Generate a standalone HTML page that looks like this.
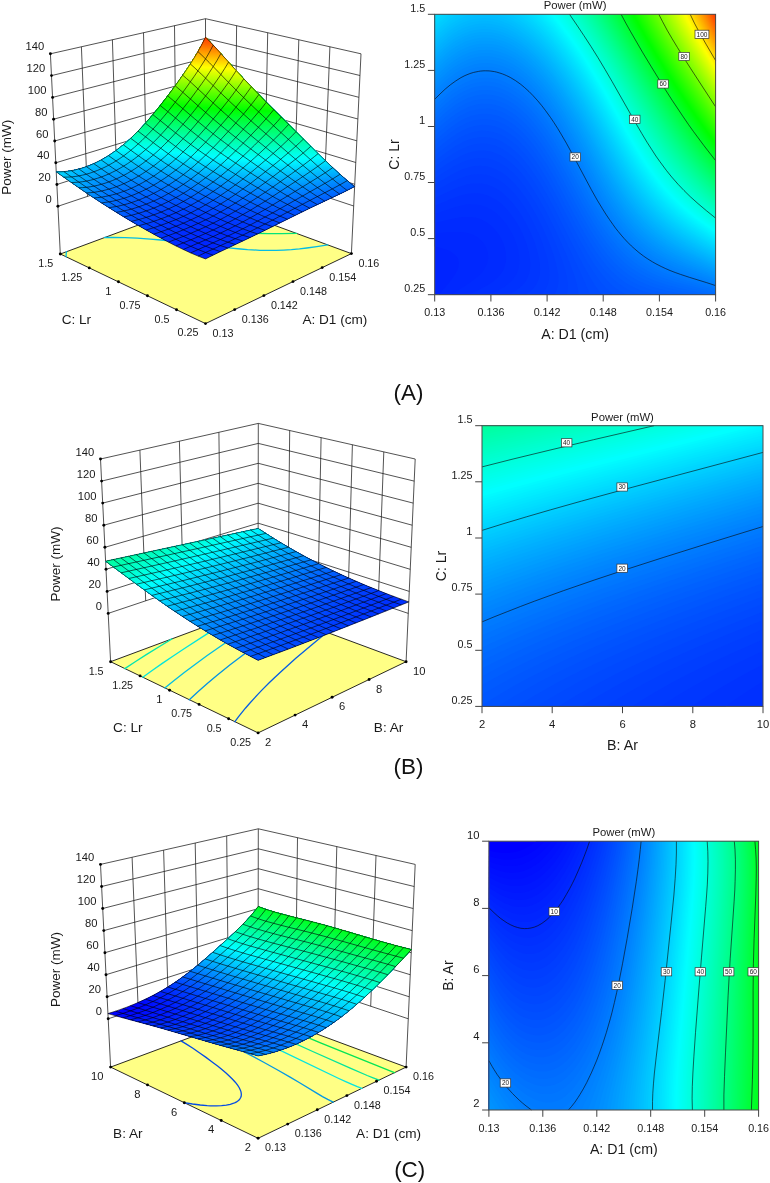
<!DOCTYPE html>
<html><head><meta charset="utf-8"><title>Response surface plots</title><style>html,body{margin:0;padding:0;background:#fff}svg{display:block;will-change:transform}text{font-family:"Liberation Sans", Arial, sans-serif}</style></head>
<body>
<svg width="770" height="1183" viewBox="0 0 770 1183" font-family='&quot;Liberation Sans&quot;, Arial, sans-serif' fill="#1a1a1a">
<rect width="770" height="1183" fill="#fff"/>
<g>
<path fill="#0024ff" d="M434.7,294.7 715.6,294.7 715.6,14.3 434.7,14.3Z"/>
<path fill="#0028ff" d="M438.8,294.7 715.6,294.7 715.6,14.3 687.5,14.3 434.7,14.3 434.7,246.4 442.7,248.6 448.6,250.6 450.8,251.8 454.8,254.5 457.9,258.6 458.8,262.7 458.5,266.7 457,270.7 454.8,274.7 452.1,278.7 449,282.7Z"/>
<path fill="#002bff" d="M451.6,294.7 715.6,294.7 715.6,14.3 659.4,14.3 434.7,14.3 434.7,233.4 450.8,232.1 458.8,232 462.8,232.2 466.8,232.9 470.8,234 472.5,234.6 474.8,235.7 478.8,238.3 483.1,242.6 485.6,246.6 486.9,249.6 487.2,250.6 488,254.6 488.1,258.6 487.3,262.7 485.7,266.7 483.2,270.7 479.7,274.7 475.1,278.7 469.6,282.7 454.8,292.4Z"/>
<path fill="#002fff" d="M468.3,294.7 715.6,294.7 715.6,14.3 635.3,14.3 434.7,14.3 434.7,222.9 454.8,218.3 462.8,217.1 466.8,216.9 470.8,217.1 474.8,217.6 478.8,218.6 482.9,220.3 486.9,222.5 490.9,225.5 494.9,229.5 498.8,234.6 501.1,238.6 503,242.6 504.4,246.6 505.4,250.6 506,254.6 506.1,258.6 505.7,262.7 504.6,266.7 502.9,270.7 500.3,274.7 498.9,276.2 496.5,278.7 491.4,282.7 486.9,285.5 484.8,286.7 476.9,290.7Z"/>
<path fill="#0032ff" d="M488.4,294.7 715.6,294.7 715.6,14.3 619.3,14.3 434.7,14.3 434.7,213.9 454.8,207.2 462.8,205.2 466.8,204.6 470.8,204.3 474.8,204.4 478.8,204.9 482.9,205.9 486.9,207.4 490.9,209.5 492.6,210.6 494.9,212.2 497.7,214.6 502.9,219.9 506.9,225.1 510.9,231.6 514.4,238.6 515.9,242.6 517.2,246.6 518.2,250.6 518.9,254.6 519.3,258.6 519.2,262.7 518.8,266.7 517.7,270.7 516,274.7 513.4,278.7 509.7,282.7 504.6,286.7 497.5,290.7Z"/>
<path fill="#0036ff" d="M508.3,294.7 715.6,294.7 715.6,14.3 607.3,14.3 434.7,14.3 434.7,205.8 450.8,199 458.8,196.1 462.8,194.9 466.8,194 470.8,193.5 474.8,193.2 478.8,193.4 482.9,194.1 486.9,195.2 490.9,196.9 494.9,199 498.9,201.8 502.9,205.2 508,210.6 510.9,214.2 515,219.9 519,226.6 523,234.7 526.1,242.6 528.5,250.6 529.3,254.6 529.9,258.6 530.2,262.7 530.2,266.7 529.7,270.7 528.8,274.7 527.1,278.7 524.6,282.7 521,286.7 515.7,290.7Z"/>
<path fill="#003aff" d="M525.7,294.7 715.6,294.7 715.6,14.3 595.2,14.3 434.7,14.3 434.7,198.3 450.8,190.4 458.8,187 462.8,185.7 466.8,184.6 470.8,183.8 474.8,183.4 478.8,183.4 482.9,183.8 486.9,184.6 490.9,186 494.9,187.9 498.9,190.3 502.9,193.2 508.6,198.6 510.9,201 515,205.9 518.4,210.6 523,217.8 527,225 531,233.4 534.7,242.6 537.2,250.6 539.1,258.6 539.7,262.7 540,266.7 540.1,270.7 539.7,274.7 538.8,278.7 537.2,282.7 534.8,286.7 531.1,290.7Z"/>
<path fill="#003dff" d="M540.8,294.7 715.6,294.7 715.6,14.3 579.2,14.3 434.7,14.3 434.7,191.3 450.8,182.5 458.8,178.7 462.8,177.2 466.8,175.9 470.8,175 474.8,174.4 478.8,174.2 482.9,174.4 486.9,175.1 490.9,176.3 494.9,177.9 498.9,180.1 502.9,182.8 506.9,186 510.9,189.8 515.3,194.6 519,199.2 521.4,202.6 526.7,210.6 531,218.1 535,225.9 539,234.6 543,244.8 546.2,254.6 547.3,258.6 548.8,266.7 549.2,270.7 549.4,274.7 549.1,278.7 548.3,282.7 546.9,286.7 544.5,290.7Z"/>
<path fill="#0041ff" d="M554.2,294.7 715.6,294.7 715.6,14.3 571.1,14.3 434.7,14.3 434.7,184.7 450.8,175.1 458.8,171 462.8,169.3 466.8,167.9 470.8,166.8 474.8,166.1 478.8,165.8 482.9,165.9 486.9,166.4 490.9,167.4 494.9,168.9 498.9,170.9 502.9,173.3 506.9,176.3 510.9,179.9 515,183.9 520.5,190.6 526.3,198.6 531,205.9 535.9,214.6 542,226.6 547.1,237.8 550.6,246.6 553.4,254.6 555.8,262.7 557.6,270.7 558.2,274.7 558.5,278.7 558.4,282.7 557.8,286.7 556.5,290.7Z"/>
<path fill="#0044ff" d="M566.7,294.7 715.6,294.7 715.6,14.3 559.1,14.3 434.7,14.3 434.7,178.4 446.7,170.5 454.8,165.8 458.8,163.8 462.8,161.9 466.8,160.4 470.8,159.2 474.8,158.4 478.8,158 482.9,158 486.9,158.4 490.9,159.2 494.9,160.6 498.9,162.4 502.9,164.7 506.9,167.5 510.9,170.8 515,174.7 519,179.1 521.8,182.5 527,189.4 531,195.4 535.4,202.6 542.1,214.6 547.1,224.4 551.8,234.6 556.9,246.6 561.5,258.6 564.2,266.7 566.4,274.7 567.2,278.7 567.7,282.7 567.9,286.7 567.7,290.7Z"/>
<path fill="#0048ff" d="M578.5,294.7 715.6,294.7 715.6,14.3 551.1,14.3 434.7,14.3 434.7,172.4 442.7,166.8 450.8,161.5 458.8,156.9 462.8,155 466.8,153.4 470.8,152.1 474.8,151.2 478.8,150.6 482.9,150.5 486.9,150.9 490.9,151.6 494.9,152.9 498.9,154.5 502.9,156.7 506.9,159.4 510.9,162.5 515,166.2 519,170.3 523,175 528.6,182.5 534,190.6 538.9,198.6 543,205.8 547.7,214.6 553.7,226.6 559.3,238.6 566.3,254.6 571.2,266.7 574.1,274.7 576.6,282.7 577.5,286.7 578.2,290.7Z"/>
<path fill="#004bff" d="M590.1,294.7 715.6,294.7 715.6,14.3 535,14.3 434.7,14.3 434.7,166.6 446.7,157.9 454.8,152.7 458.8,150.4 462.8,148.4 466.8,146.7 470.8,145.3 474.8,144.3 478.8,143.8 482.9,143.6 486.9,143.8 490.9,144.5 494.9,145.6 498.9,147.2 502.9,149.3 506.9,151.8 510.9,154.8 515,158.3 519,162.3 523,166.8 527,171.8 531,177.2 535,183.2 543,196.4 551.1,211.2 562.7,234.6 579.6,270.7 586.8,286.7Z"/>
<path fill="#004fff" d="M598.7,290.7 601.8,294.7 715.6,294.7 715.6,14.3 531,14.3 434.7,14.3 434.7,161.1 446.7,151.9 454.8,146.5 458.8,144.2 462.8,142.1 466.8,140.3 470.8,138.9 474.8,137.9 478.8,137.2 482.9,137 486.9,137.2 490.9,137.8 494.9,138.8 498.9,140.3 502.9,142.3 506.9,144.7 510.9,147.6 515,150.9 519,154.8 523,159.1 525.8,162.5 531,169.2 535,174.9 539,181.1 547.1,194.7 555.1,209.6 575.1,249.5 583.2,265 591.2,279.3 595.2,285.7Z"/>
<path fill="#0052ff" d="M608.9,290.7 611.3,292.8 613.8,294.7 715.6,294.7 715.6,14.3 519,14.3 434.7,14.3 434.7,155.8 446.7,146.2 454.8,140.7 458.8,138.2 462.8,136.1 466.8,134.3 470.8,132.8 474.8,131.7 478.8,131 482.9,130.7 486.9,130.9 490.9,131.4 494.9,132.4 498.9,133.8 502.9,135.7 506.9,138 510.9,140.8 515,144 519,147.7 525.2,154.5 531,161.7 535,167.3 539,173.3 543,179.7 551.1,193.7 559.1,208.7 576.6,242.6 587.2,261.7 592.7,270.7 599.2,280 603.2,284.9Z"/>
<path fill="#0056ff" d="M619.4,290.7 623.3,293.1 626.5,294.7 715.6,294.7 715.6,14.3 502.9,14.3 434.7,14.3 434.7,150.6 446.7,140.8 454.8,135 458.8,132.5 462.8,130.3 466.8,128.5 470.8,127 474.8,125.9 478.8,125.2 482.9,124.8 486.9,124.9 490.9,125.4 494.9,126.3 498.9,127.7 502.9,129.5 506.9,131.7 510.9,134.4 515,137.5 519,141.1 524.2,146.5 531,154.6 535,160.1 539.4,166.5 547.1,178.9 555.1,193.1 572.6,226.6 581.3,242.6 588.3,254.6 595.2,265.4 602.1,274.7 607.3,280.5 611.3,284.4 613.9,286.7Z"/>
<path fill="#0059ff" d="M630.3,290.7 635.3,292.9 640.3,294.7 715.6,294.7 715.6,14.3 498.9,14.3 434.7,14.3 434.7,145.6 446.7,135.5 454.8,129.6 458.8,127.1 462.8,124.9 466.8,123 470.8,121.5 474.8,120.3 478.8,119.6 482.9,119.2 486.9,119.2 490.9,119.7 494.9,120.6 498.9,121.8 502.9,123.6 506.9,125.7 510.9,128.3 515,131.4 519,134.8 523,138.8 527,143.2 531,148 535,153.3 541.3,162.5 547.1,171.7 555.1,185.7 576.8,226.6 583.5,238.6 591.2,251.5 595.2,257.6 599.2,263.2 603.2,268.4 607.3,273.1 611.3,277.2 615.3,280.9 619.3,284.1 623.3,286.8 627.3,289.2Z"/>
<path fill="#005dff" d="M641.9,290.7 647.4,292.6 655.7,294.7 715.6,294.7 715.6,14.3 482.9,14.3 434.7,14.3 434.7,140.7 446.7,130.4 454.8,124.4 458.8,121.8 462.8,119.6 466.8,117.7 470.8,116.1 474.8,115 478.8,114.2 482.9,113.8 486.9,113.8 490.9,114.2 494.9,115.1 498.9,116.3 502.9,118 506.9,120.1 510.9,122.6 515,125.5 519,128.9 523,132.8 527,137 531,141.7 535,146.9 543,158.4 548.1,166.5 555.1,178.6 576.4,218.6 585.4,234.6 590.2,242.6 595.2,250.5 599.2,256.2 603.2,261.5 607.3,266.4 611.3,270.7 615.3,274.6 620.1,278.7 625.7,282.7 631.3,286 635.3,288Z"/>
<path fill="#0060ff" d="M654.2,290.7 663.4,293 672.1,294.7 715.6,294.7 715.6,14.3 470.8,14.3 434.7,14.3 434.7,136 446.7,125.4 454.8,119.4 458.8,116.8 462.8,114.5 466.8,112.6 470.8,111 474.8,109.9 478.8,109.1 482.9,108.7 486.9,108.6 490.9,109 494.9,109.8 498.9,111 502.9,112.6 506.9,114.7 510.9,117.1 515,120 519,123.3 523,127 527,131.2 531,135.8 535,140.8 539,146.2 543,152.1 547.1,158.5 555.1,172 563.1,186.6 580.2,218.6 589.4,234.6 594.4,242.6 599.2,249.7 603.2,255.2 607.3,260.2 611.3,264.8 617.2,270.7 623.3,275.8 627.4,278.7 631.3,281.2 639.4,285.4 647.4,288.6Z"/>
<path fill="#0064ff" d="M667.1,290.7 675.5,292.5 687.4,294.7 715.6,294.7 715.6,14.3 458.8,14.3 434.7,14.3 434.7,131.4 442.7,124.1 446.7,120.7 454.8,114.5 461.4,110.4 466.8,107.7 470.8,106.1 474.8,105 478.8,104.1 482.9,103.7 486.9,103.7 490.9,104.1 494.9,104.8 498.9,106 502.9,107.5 506.9,109.5 510.9,111.9 515,114.7 519,117.9 523,121.6 527,125.6 531,130.1 535,135 543,146.1 550.9,158.5 555.1,165.6 563.1,180.1 581.6,214.6 590.8,230.6 595.9,238.6 601.3,246.6 607.3,254.4 610.8,258.6 615.3,263.4 619.3,267.3 623.3,270.7 628.5,274.7 635.3,279 639.4,281.2 643.4,283.1 651.4,286.2 659.4,288.8Z"/>
<path fill="#0067ff" d="M679.9,290.7 699.8,294.7 715.6,294.7 715.6,14.3 442.7,14.3 434.7,14.3 434.7,127 442.7,119.5 446.7,116 454.8,109.9 460.2,106.4 466.8,103 470.8,101.4 474.8,100.2 478.8,99.4 482.9,99 486.9,98.9 490.9,99.3 494.9,100 498.9,101.2 502.9,102.7 506.9,104.6 510.9,106.9 515,109.7 519,112.8 523,116.4 527,120.3 531,124.7 535,129.5 539,134.7 543,140.4 551.1,152.8 559.1,166.6 580.6,206.6 585,214.6 592,226.6 597.1,234.6 603.2,243.6 608.6,250.6 615.3,258.3 619.6,262.7 623.3,266 627.3,269.3 631.3,272.2 635.3,274.8 639.4,277.2 643.4,279.2 651.4,282.7 659.4,285.5 667.4,287.8Z"/>
<path fill="#006bff" d="M691.5,290.7 709.3,294.7 715.6,294.7 715.6,14.3 434.7,14.3 434.7,18.3 434.7,122.6 442.7,115 446.7,111.5 454.8,105.3 459.2,102.4 462.8,100.4 466.8,98.5 470.8,96.9 474.8,95.7 478.8,94.9 482.8,94.4 486.9,94.4 490.9,94.7 494.9,95.4 498.9,96.5 502.9,98 506.9,99.9 511.4,102.4 515,104.8 519,107.9 523,111.4 527,115.3 531,119.5 535,124.3 539,129.4 543,134.9 551.1,147.1 559.1,160.7 567.1,175.3 581.7,202.6 588.4,214.6 593.1,222.6 600.7,234.6 606.5,242.6 611.3,248.7 616.5,254.6 623.3,261.4 627.3,264.9 631.3,268 639.4,273.3 647.4,277.5 655.4,281 667.4,284.9 679.5,288Z"/>
<path fill="#006eff" d="M701.2,290.7 715.6,294.4 715.6,14.3 434.7,14.3 434.7,26.3 434.7,118.4 442.7,110.7 446.7,107.2 454.8,101 458.8,98.3 462.8,96 466.1,94.4 470.8,92.5 474.8,91.3 478.8,90.5 482.9,90 486.9,90 490.9,90.3 494.9,91 498.9,92.1 502.9,93.5 506.9,95.4 512.2,98.4 519,103.2 523,106.6 527,110.4 531,114.6 535,119.2 539,124.2 543.6,130.5 551.1,141.6 559.1,155 567.1,169.5 584.8,202.6 589.3,210.6 596.4,222.6 603.2,233 610.3,242.6 615.3,248.6 620.9,254.6 627.3,260.7 631.3,263.9 635.3,266.9 643.4,272 651.4,276 659.4,279.4 671.5,283.3 679.5,285.5Z"/>
<path fill="#0072ff" d="M709.2,290.7 715.6,292.5 715.6,14.3 434.7,14.3 434.7,34.3 434.7,114.2 442.7,106.5 446.7,102.9 454.8,96.7 458.8,94.1 462.8,91.8 465.6,90.4 470.8,88.3 474.8,87.1 478.8,86.2 482.9,85.8 486.9,85.7 490.9,86 494.9,86.7 498.9,87.8 502.9,89.2 506.9,91 512.9,94.4 519,98.7 523,102 527,105.8 531,109.9 535,114.4 539,119.3 547.1,130.3 555.1,142.9 563.1,156.7 585.6,198.6 592.4,210.6 597.2,218.6 605,230.6 610.9,238.6 617.5,246.6 623.3,252.8 627.3,256.6 631.3,260 639.4,265.9 647.4,270.7 655.4,274.7 663.4,278 675.5,281.9 683.5,284.1Z"/>
<path fill="#0075ff" d="M701.6,286.7 715.6,290.6 715.6,14.3 434.7,14.3 434.7,26.3 434.7,110.2 442.7,102.4 446.7,98.8 450.8,95.5 454.8,92.6 458.8,89.9 465.4,86.4 470.8,84.2 474.8,83 478.8,82.2 482.9,81.7 486.9,81.6 490.9,81.9 494.9,82.6 498.9,83.6 502.9,85.1 506,86.4 510.9,89 515,91.5 519,94.4 523,97.7 527,101.3 531,105.4 535,109.8 539,114.6 547.1,125.4 555.1,137.7 563.1,151.4 588.5,198.6 597.8,214.6 605.6,226.6 611.3,234.5 617.8,242.6 623.3,248.6 627.3,252.6 631.3,256.2 635.3,259.4 639.4,262.4 647.4,267.5 655.4,271.7 663.4,275.2 675.5,279.4 683.5,281.8Z"/>
<path fill="#0079ff" d="M708.6,286.7 715.6,288.8 715.6,14.3 434.7,14.3 434.7,34.3 434.7,106.2 442.7,98.4 446.7,94.8 450.8,91.5 454.8,88.6 458.8,85.9 465.4,82.4 470.8,80.2 474.8,79 478.8,78.2 482.9,77.8 486.9,77.7 490.9,78 494.9,78.6 498.9,79.7 502.9,81 506.1,82.4 510.9,84.9 515,87.4 519,90.2 523,93.4 527,97 531,101 535,105.4 539,110.1 547.1,120.7 555.1,132.8 563.1,146.3 571.1,160.8 589.2,194.6 596,206.6 600.8,214.6 606,222.6 611.7,230.6 618,238.6 625.2,246.6 631.3,252.5 635.3,255.9 639.4,258.9 647.4,264.3 655.4,268.8 663.4,272.4 675.5,277 687.5,280.7Z"/>
<path fill="#007cff" d="M714.6,286.7 715.6,287 715.6,14.3 434.7,14.3 434.7,38.3 434.7,102.4 442.7,94.5 446.7,90.9 450.8,87.6 454.8,84.7 458.8,82 462.8,79.8 465.7,78.4 470.8,76.3 474.8,75.2 478.8,74.4 482.9,73.9 486.9,73.9 490.9,74.1 494.9,74.8 498.9,75.8 502.9,77.2 505.8,78.4 510.9,81 515,83.4 519,86.2 523,89.4 527,92.9 531,96.8 535,101.1 539,105.7 543,110.8 548.6,118.4 555.1,128.1 563.1,141.4 571.1,155.8 589.7,190.6 596.5,202.6 601.2,210.6 609.1,222.6 614.9,230.6 621.5,238.6 627.3,244.9 631.3,248.8 635.3,252.4 643.4,258.5 651.4,263.6 659.4,267.9 667.4,271.5 679.5,275.9Z"/>
<path fill="#0080ff" d="M707.8,282.7 715.6,285.2 715.6,14.3 434.7,14.3 434.7,38.3 434.7,98.6 442.7,90.7 446.7,87.1 450.8,83.8 454.8,80.9 458.8,78.3 462.8,76 466.2,74.4 470.8,72.6 474.8,71.4 478.8,70.6 482.9,70.2 486.9,70.1 490.4,70.4 494.9,71.1 498.9,72.1 505.2,74.4 510.9,77.2 515,79.6 519,82.3 523,85.4 527,88.9 532.6,94.4 539,101.5 543,106.4 551.1,117.5 559.1,130 567.1,143.7 575.1,158.4 590.1,186.5 596.8,198.6 601.6,206.6 609.3,218.6 615,226.6 621.4,234.6 627.3,241.2 631.3,245.3 635.3,248.9 642.4,254.6 647.4,258.1 651.4,260.7 659.4,265.2 667.4,268.9 679.5,273.6 687.5,276.4Z"/>
<path fill="#0083ff" d="M713.2,282.7 715.6,283.5 715.6,14.3 434.7,14.3 434.7,38.3 434.7,94.9 442.7,86.9 446.7,83.4 450.8,80.1 454.8,77.2 459.1,74.4 462.8,72.3 466.8,70.5 470.8,69 474.8,67.8 478.8,67 482.9,66.6 486.9,66.5 490.9,66.8 494.9,67.5 498.9,68.4 504.4,70.4 510.9,73.5 515,75.9 519,78.6 523,81.6 527,85.1 532.5,90.4 539,97.5 543,102.4 551.1,113.2 559.1,125.5 567.1,139 575.1,153.6 592.7,186.5 597.2,194.6 604.3,206.6 609.4,214.6 615.3,222.9 621.2,230.6 628.3,238.6 635.3,245.6 643.4,252.2 651.4,257.8 659.7,262.7 667.9,266.7 679.5,271.4 691.5,275.6Z"/>
<path fill="#0087ff" d="M706.6,278.7 715.6,281.8 715.6,14.3 434.7,14.3 434.7,30.3 434.7,91.3 442.7,83.3 446.7,79.7 453.6,74.4 458.8,71 462.8,68.8 468.2,66.4 470.8,65.4 474.8,64.3 478.8,63.5 482.9,63.1 486.9,63 490.9,63.3 494.9,63.9 498.9,64.9 503.3,66.4 506.9,67.9 510.9,69.9 515,72.3 519,74.9 523,78 527,81.4 531,85.1 536.2,90.4 543,98.4 546.2,102.4 554.8,114.4 559.9,122.5 567.1,134.6 575.1,149 593,182.5 599.7,194.6 604.5,202.6 609.5,210.6 615.3,219 621,226.6 627.8,234.6 635.3,242.3 643.4,249.2 651.4,255 659.4,259.9 667.4,264 679.5,269.2 691.5,273.6Z"/>
<path fill="#008aff" d="M711.7,278.7 715.6,280.1 715.6,14.3 434.7,14.3 434.7,38.3 434.7,87.7 442.7,79.8 446.7,76.2 450.8,72.9 454.8,70 460.8,66.4 466.8,63.4 470.8,62 474.8,60.8 478.8,60.1 482.9,59.7 486.9,59.6 490.9,59.9 494.9,60.5 498.9,61.5 501.6,62.4 506.9,64.5 510.9,66.4 515,68.8 519,71.4 523,74.4 527,77.7 531,81.4 535.9,86.4 542.9,94.4 546.1,98.4 551.1,105.1 554.8,110.4 563.1,123.4 571.1,137.3 595.4,182.5 602.2,194.6 607,202.6 612.2,210.6 619.3,220.6 624,226.6 631,234.6 635.3,239 639.2,242.6 647.4,249.3 655.4,254.8 663.4,259.5 671.5,263.5 683.5,268.6Z"/>
<path fill="#008eff" d="M705.4,274.7 715.6,278.4 715.6,14.3 434.7,14.3 434.7,30.3 434.7,84.3 442.7,76.3 446.7,72.7 450.8,69.5 454.8,66.6 458.8,64.1 462.8,61.9 466.8,60 470.8,58.6 474.8,57.5 478.8,56.7 482.9,56.3 486.9,56.3 490.9,56.6 494.9,57.2 499.6,58.4 502.9,59.5 506.9,61.1 510.9,63.1 515,65.4 519,68 523,70.9 527.2,74.4 531.5,78.4 539,86.2 547.1,95.8 555.1,106.9 563.1,119.3 571.1,133 579.2,147.6 597.8,182.5 607.1,198.6 612.1,206.6 619.3,216.9 623.6,222.6 630.4,230.6 635.3,235.8 643.4,243.2 651.4,249.5 659.4,254.7 667.4,259.2 679.5,264.8 691.5,269.6Z"/>
<path fill="#0091ff" d="M710.1,274.7 715.6,276.8 715.6,14.3 434.7,14.3 434.7,34.3 434.7,80.9 442.7,72.9 446.7,69.3 450.8,66.1 454.8,63.2 458.8,60.7 463.2,58.4 466.8,56.7 470.8,55.3 474.8,54.2 478.8,53.4 482.9,53.1 486.9,53 490.9,53.3 494.9,53.9 498.9,54.9 502.9,56.2 506.9,57.8 510.9,59.8 515,62 519,64.7 523,67.6 527,70.8 531,74.4 538.8,82.4 547.1,92.2 555.1,103.1 563.1,115.3 571.1,128.9 579.2,143.4 597.9,178.5 604.7,190.6 609.5,198.6 614.6,206.6 620.2,214.6 626.4,222.6 631.3,228.4 639.4,236.7 646.1,242.6 651.3,246.6 655.4,249.6 663.4,254.6 671.5,258.9 683.5,264.5 691.5,267.7Z"/>
<path fill="#0095ff" d="M714.4,274.7 715.6,275.1 715.6,14.3 434.7,14.3 434.7,38.3 434.7,77.5 441.8,70.4 446.7,66 451.3,62.4 454.8,59.9 458.8,57.4 462.8,55.3 466.8,53.5 470.8,52.1 474.8,51 478.8,50.2 482.9,49.9 486.9,49.8 490.9,50.1 494.9,50.7 498.9,51.7 502.9,53 506.9,54.6 510.9,56.6 515,58.8 520.3,62.4 527,67.5 531,71.1 535,75 543,83.7 551.1,93.8 559.1,105.3 567.1,118 575.1,131.9 598,174.5 604.7,186.5 609.4,194.6 614.5,202.6 619.9,210.6 625.9,218.6 632.6,226.6 639.4,233.7 647.4,240.9 655.4,247 663.4,252.2 671.5,256.7 683.5,262.4 693.7,266.7Z"/>
<path fill="#0098ff" d="M708.4,270.7 715.6,273.5 715.6,14.3 434.7,14.3 434.7,30.3 434.7,74.2 442.6,66.4 446.7,62.7 452.4,58.4 458.8,54.2 462.8,52.1 466.7,50.4 470.8,48.9 474.8,47.8 478.8,47.1 482.9,46.7 486.9,46.7 490.9,47 494.9,47.6 498.9,48.6 502.9,49.9 506.9,51.5 512.6,54.4 519,58.2 523,61.1 529.3,66.4 535,71.7 543,80.3 551.1,90.3 559.7,102.4 567.1,114.2 575.1,128 583.2,142.6 600.2,174.5 609.3,190.6 614.2,198.6 619.6,206.6 625.4,214.6 631.9,222.6 639.4,230.7 647.4,238.1 655.4,244.5 663.4,249.9 671.7,254.6 683.5,260.4 691.5,263.9Z"/>
<path fill="#009cff" d="M712.5,270.7 715.6,272 715.6,14.3 434.7,14.3 434.7,38.3 434.7,71 442.7,63 446.7,59.5 453.6,54.4 458.8,51.1 462.8,48.9 469.2,46.3 474.8,44.7 478.8,44 482.9,43.7 486.9,43.7 490.9,44 494.9,44.6 498.9,45.6 502.9,46.8 506.9,48.5 510.9,50.4 515,52.6 519,55.2 523,58 527,61.2 535,68.5 543,77 551.1,86.9 559.4,98.4 567.1,110.5 575.1,124.1 583.2,138.7 602.3,174.5 611.6,190.6 616.6,198.6 623.3,208.4 627.9,214.6 634.5,222.6 642.2,230.6 646.5,234.6 651.1,238.6 659.4,244.8 667.4,250 675.5,254.5 684,258.6 695.5,263.7Z"/>
<path fill="#009fff" d="M706.8,266.7 715.6,270.4 715.6,14.3 434.7,14.3 434.7,30.3 434.7,67.8 442.7,59.8 446.7,56.4 450.8,53.2 454.8,50.4 458.8,48 462.8,45.9 466.8,44.1 470.8,42.7 474.8,41.7 478.8,41 482.9,40.7 486.9,40.7 490.9,41 494.9,41.6 498.9,42.6 502.9,43.9 506.9,45.5 510.9,47.4 515,49.6 519,52.1 523,55 527,58.1 531,61.6 539,69.4 547.1,78.5 555.1,88.9 563.1,100.6 571.1,113.5 579.2,127.5 602.2,170.5 611.3,186.5 616.3,194.6 621.5,202.6 627.3,210.6 633.7,218.6 641,226.6 647.4,232.8 655.4,239.5 663.4,245.2 672.3,250.6 683.5,256.5 691.5,260.2Z"/>
<path fill="#00a3ff" d="M710.6,266.7 715.6,268.8 715.6,14.3 434.7,14.3 434.7,34.3 434.7,64.7 441,58.4 446.7,53.3 450.8,50.1 456.4,46.3 462.8,42.8 466.8,41.1 470.8,39.8 474.8,38.7 478.8,38 482.9,37.7 486.9,37.7 490.9,38 494.9,38.7 498.9,39.7 502.9,40.9 506.9,42.5 510.9,44.4 515,46.7 520.7,50.4 527,55.1 535.1,62.4 539.1,66.4 546.3,74.4 555.1,85.6 563.1,97.1 571.1,109.9 579.2,123.8 602.1,166.5 608.8,178.5 613.5,186.5 618.5,194.6 623.8,202.6 629.7,210.6 636.3,218.6 643.7,226.6 651.4,233.7 659.4,240.1 667.4,245.5 675.5,250.3 683.8,254.6 695.5,260.1Z"/>
<path fill="#00a6ff" d="M714.1,266.7 715.6,267.3 715.6,14.3 434.7,14.3 434.7,34.3 434.7,61.6 442,54.4 446.7,50.2 450.8,47.1 454.8,44.3 458.1,42.3 462.8,39.9 466.8,38.1 470.8,36.8 474.8,35.8 478.8,35.1 482.9,34.8 486.9,34.8 490.9,35.1 494.9,35.8 498.9,36.8 502.9,38.1 506.9,39.7 510.9,41.6 515,43.8 519.1,46.3 527,52.2 535,59.3 539,63.3 545.5,70.4 551.1,77.2 555.1,82.4 563.1,93.8 571.1,106.4 579.2,120.2 587.2,134.8 604.1,166.5 610.8,178.5 615.6,186.5 620.6,194.6 627.3,204.3 632.1,210.6 638.8,218.6 646.5,226.6 651.4,231.2 659.4,237.7 667.4,243.4 675.5,248.3 683.5,252.6 696.1,258.6Z"/>
<path fill="#00aaff" d="M708.7,262.7 715.6,265.8 715.6,14.3 434.7,14.3 434.7,34.3 434.7,58.5 442.7,50.6 446.7,47.2 453.3,42.3 458.8,39 462.8,36.9 466.8,35.2 469.5,34.3 474.8,32.9 478.8,32.3 482.9,31.9 486.9,32 490.9,32.3 494.9,33 498.9,33.9 502.9,35.2 510.1,38.3 515,40.9 519,43.4 523,46.2 527,49.3 535,56.4 539,60.4 544.6,66.4 551.1,74.1 555.1,79.3 563.1,90.5 571.1,103 579.2,116.7 587.2,131.2 606.1,166.5 615.2,182.5 620.2,190.6 625.5,198.6 631.3,206.6 637.8,214.6 645.1,222.6 651.4,228.7 659.4,235.4 667.4,241.2 675.5,246.2 683.5,250.7 695.5,256.6Z"/>
<path fill="#00aeff" d="M712.1,262.7 715.6,264.3 715.6,14.3 434.7,14.3 434.7,38.3 434.7,55.5 439.9,50.4 446.7,44.2 450.8,41.1 454.9,38.3 458.8,36 462.2,34.3 466.8,32.4 470.8,31 473.7,30.3 478.8,29.4 482.9,29.1 486.9,29.1 490.9,29.5 495.6,30.3 498.9,31.2 502.9,32.5 507.5,34.3 515,38.1 521.4,42.3 527,46.5 531,49.9 535.9,54.4 543,61.7 547.1,66.2 555.1,76.2 563.1,87.4 571.1,99.7 579.2,113.2 587.2,127.7 605.8,162.5 612.5,174.5 617.3,182.5 622.3,190.6 627.7,198.6 633.6,206.6 639.4,213.7 643.8,218.6 651.9,226.6 659.4,233.1 667.4,239 675.5,244.2 683.5,248.8 695,254.6Z"/>
<path fill="#00b1ff" d="M715.3,262.7 715.6,262.8 715.6,14.3 434.7,14.3 434.7,38.3 434.7,52.6 441,46.3 446.7,41.3 450.8,38.2 454.8,35.5 458.8,33.2 464.8,30.3 470.8,28.2 474.8,27.2 478.8,26.6 482.9,26.3 486.9,26.4 490.9,26.7 494.9,27.4 498.9,28.4 502.9,29.7 506.9,31.3 513,34.3 519,37.9 527,43.7 531,47.1 538.7,54.4 547.1,63.4 552.8,70.4 558.9,78.4 567.1,90.3 575.1,103.1 583.2,117 605.5,158.5 616.8,178.5 621.7,186.5 627.3,195 632.7,202.6 639.4,210.9 646.2,218.6 654.5,226.6 663.4,234 669.9,238.6 679.5,244.6 687.5,249.1 698.5,254.6Z"/>
<path fill="#00b5ff" d="M710.1,258.6 715.6,261.3 715.6,14.3 434.7,14.3 434.7,30.3 434.7,49.6 442.2,42.3 446.7,38.4 452.3,34.3 458.8,30.3 462.8,28.3 467.9,26.3 470.8,25.4 474.8,24.4 478.8,23.8 482.9,23.6 486.9,23.6 490.9,24 494.9,24.7 498.9,25.7 502.9,27 506.9,28.6 510.6,30.3 515,32.7 523,38 528.6,42.3 535,48 539,51.9 547.1,60.5 555.1,70.4 561.1,78.4 567.1,87.2 575.1,99.9 583.2,113.6 591.2,128.2 609.6,162.5 618.8,178.5 623.7,186.5 629.1,194.6 634.9,202.6 641.4,210.6 648.7,218.6 655.4,225 663.4,231.8 671.5,237.6 679.3,242.6 687.5,247.3 695.5,251.5Z"/>
<path fill="#00b8ff" d="M713.2,258.6 715.6,259.8 715.6,14.3 434.7,14.3 434.7,38.3 434.7,46.7 442.7,38.9 446.7,35.5 450.8,32.5 454,30.3 458.8,27.5 462.8,25.5 466.8,23.9 470.8,22.6 474.8,21.7 478.8,21.1 482.9,20.8 486.9,20.9 490.9,21.3 496.2,22.3 502.9,24.3 507.8,26.3 515,30 521.6,34.3 527,38.3 531,41.7 536.1,46.3 543,53.3 547.1,57.8 551.1,62.5 557.3,70.4 563.1,78.3 567.1,84.2 575.1,96.8 583.2,110.4 591.2,124.9 609.2,158.5 618.3,174.5 623.2,182.5 628.4,190.6 634,198.6 640.3,206.6 647.4,214.7 655.3,222.6 663.4,229.6 670.1,234.6 679.5,240.8 687.5,245.5 697.1,250.6Z"/>
<path fill="#00bcff" d="M708.2,254.6 715.6,258.4 715.6,14.3 434.7,14.3 434.7,34.3 434.7,43.9 440.3,38.3 446.7,32.7 450.8,29.7 454.8,27 458.8,24.7 463.8,22.3 466.8,21.1 470.8,19.9 474.8,18.9 478.8,18.4 482.9,18.1 486.9,18.2 490.9,18.6 494.9,19.3 498.9,20.3 502.9,21.7 506.9,23.3 510.9,25.2 515,27.4 519.6,30.3 527,35.7 531,39 538.9,46.3 547.1,55 553.2,62.4 559.1,69.9 567.1,81.3 575.1,93.7 583.2,107.2 591.2,121.6 608.8,154.5 620.2,174.5 625.1,182.5 631.3,191.9 636.1,198.6 642.4,206.6 649.6,214.6 655.4,220.4 663.4,227.4 671.5,233.6 679,238.6 687.5,243.8 695.5,248.2Z"/>
<path fill="#00bfff" d="M711.1,254.6 715.6,256.9 715.6,14.3 434.7,14.3 434.7,30.3 434.7,41 441.6,34.3 446.7,29.9 451.6,26.3 454.8,24.2 458.8,21.9 462.8,20 466.8,18.4 470.8,17.1 474.8,16.2 478.8,15.6 482.9,15.4 486.9,15.5 490.9,15.9 494.9,16.6 498.9,17.7 502.9,19 506.9,20.7 510.9,22.6 517.4,26.3 523,30.1 527,33.1 531,36.4 537.4,42.3 543,48 547.1,52.4 555.4,62.4 561.4,70.4 567.1,78.4 575.1,90.8 583.2,104.1 591.2,118.4 612.8,158.5 622,174.5 627,182.5 632.3,190.6 638.2,198.6 643.4,205.1 648.1,210.6 655.9,218.6 663.4,225.3 671.5,231.6 679.5,237.1 688.6,242.6 699.5,248.7Z"/>
<path fill="#00c3ff" d="M713.9,254.6 715.6,255.5 715.6,14.3 498.9,14.3 496,14.3 498.9,15.1 502.9,16.4 506.9,18.1 510.9,20 515,22.2 523,27.5 531,33.9 539,41.3 547.1,49.8 551.1,54.4 559.1,64.5 563.5,70.4 571.1,81.6 579.2,94.4 583.2,101.1 591.2,115.3 614.5,158.5 621.4,170.5 626.3,178.5 631.5,186.5 637.2,194.6 643.4,202.5 647.4,207.3 654.2,214.6 659.4,219.6 667.4,226.5 675.5,232.5 683.5,237.8 691.6,242.6 698.7,246.6ZM434.7,34.3 434.7,38.2 438.7,34.1 442.7,30.5 446.7,27.1 450.8,24.1 454.8,21.5 458.8,19.2 462.8,17.2 466.8,15.6 471.3,14.3 434.7,14.3Z"/>
<path fill="#00c6ff" d="M709.1,250.6 715.6,254.1 715.6,14.3 510.9,14.3 504.1,14.3 510.9,17.4 519,22.2 527,28 535,34.9 543,42.8 549.8,50.4 555.1,56.7 563.1,67.2 571.1,78.8 576,86.4 583.2,98.2 595.2,119.6 614,154.5 620.8,166.5 625.6,174.5 630.7,182.5 636.2,190.6 642.2,198.6 645.5,202.6 651.4,209.3 656.5,214.6 663.4,221 671.5,227.6 679.5,233.4 687.7,238.6 695.5,243.2ZM434.7,34.3 434.7,35.4 438.7,31.4 442.7,27.7 446.7,24.3 450.8,21.3 454.8,18.7 458.8,16.4 463.3,14.3 434.7,14.3Z"/>
<path fill="#00caff" d="M711.8,250.6 715.6,252.7 715.6,14.3 510.9,14.3 509.7,14.3 515,17.1 519,19.7 527,25.5 532.7,30.3 539,36.2 544.9,42.3 551.1,49.2 555.3,54.4 563.1,64.6 567.3,70.4 575.1,82.2 583.2,95.3 595.2,116.5 615.7,154.5 625,170.5 629.9,178.5 635.3,186.6 641.1,194.6 647.5,202.6 654.8,210.6 659.4,215.2 667.4,222.4 675.5,228.7 683.5,234.2 690.5,238.6 699.5,243.9ZM434.7,30.3 434.7,32.6 441.2,26.3 446.7,21.6 450.8,18.6 454.8,15.9 457.7,14.3 434.7,14.3Z"/>
<path fill="#00cdff" d="M714.4,250.6 715.6,251.3 715.6,14.3 515,14.3 514.4,14.3 519,17.2 523,20 531,26.4 535.4,30.3 543,37.8 550.7,46.3 555.1,51.6 563.1,62 567.1,67.6 575.1,79.5 579.5,86.4 587.2,99.3 595.2,113.6 617.4,154.5 626.7,170.5 631.7,178.5 637.1,186.5 643,194.6 647.4,200 653.1,206.6 661,214.6 667.4,220.4 675.2,226.6 683.5,232.5 691.5,237.6 700,242.6ZM434.7,26.3 434.7,29.8 438.7,25.8 442.7,22.1 446.7,18.8 453.1,14.3 434.7,14.3Z"/>
<path fill="#00d1ff" d="M709.8,246.6 715.6,249.9 715.6,14.3 523,14.3 518.4,14.3 523,17.5 531,23.9 538,30.3 543,35.4 551.1,44.3 559.1,54.1 565.2,62.4 571.1,70.8 579.2,83.1 590.6,102.4 599.2,118 616.8,150.5 626,166.5 630.9,174.5 636.2,182.5 641.9,190.6 647.4,197.6 651.6,202.6 659.4,210.9 667.4,218.4 672.5,222.6 679.5,227.9 689.4,234.6 699.5,240.8ZM434.7,26.3 434.7,27.1 438.7,23 442.7,19.4 449.1,14.3 434.7,14.3Z"/>
<path fill="#00d4ff" d="M712.3,246.6 715.6,248.5 715.6,14.3 523,14.3 521.9,14.3 527,18.1 535,25.1 539,28.9 547.1,37.3 554.9,46.3 559.1,51.6 567.1,62.4 571.1,68.2 580.3,82.4 591.2,100.7 599.2,115.1 618.4,150.5 627.7,166.5 632.7,174.5 638,182.5 643.4,190 647.4,195.2 653.6,202.6 661.2,210.6 667.4,216.4 674.9,222.6 683.5,229 691.5,234.3 698.5,238.6ZM434.7,22.3 434.7,24.3 438.7,20.3 445.5,14.3 434.7,14.3Z"/>
<path fill="#00d8ff" d="M714.7,246.6 715.6,247.1 715.6,14.3 527,14.3 525.2,14.3 531,19.1 539,26.5 543,30.6 551.1,39.4 556.8,46.3 563,54.4 571.6,66.4 579.5,78.4 591.2,97.9 599.2,112.2 617.8,146.5 629.3,166.5 634.4,174.5 639.4,181.9 643.4,187.5 648.8,194.6 655.6,202.6 663.4,210.6 667.7,214.6 675.5,221.2 682.6,226.6 691.5,232.7 701.1,238.6ZM434.7,18.3 434.7,21.6 442.2,14.3 434.7,14.3Z"/>
<path fill="#00dbff" d="M710.2,242.6 715.6,245.8 715.6,14.3 535,14.3 528.2,14.3 535,20.3 539,24.1 543,28.2 551.1,37 559.1,46.8 567.1,57.5 571.1,63.2 579.2,75.3 591.2,95.2 599.2,109.5 617.1,142.5 628.6,162.5 633.5,170.5 638.8,178.5 647.4,190.4 654,198.6 661.4,206.6 667.4,212.4 674.5,218.6 683.5,225.5 690.9,230.6 699.5,236.2ZM434.7,18.3 434.7,18.8 439.2,14.3 434.7,14.3Z"/>
<path fill="#00dfff" d="M712.6,242.6 715.6,244.4 715.6,14.3 535,14.3 531.1,14.3 535,17.9 543,25.8 551.1,34.7 555.1,39.4 563.1,49.6 567.1,55.1 575,66.4 579.2,72.8 587.2,85.8 595.2,99.6 620.9,146.5 630.2,162.5 635.2,170.5 640.5,178.5 649.3,190.6 656,198.6 663.4,206.5 667.6,210.6 675.5,217.5 683.5,223.8 691.5,229.4 699.5,234.6ZM434.7,14.3 434.7,16 436.4,14.3Z"/>
<path fill="#00e2ff" d="M714.8,242.6 715.6,243.1 715.6,14.3 535,14.3 533.7,14.3 539,19.4 547.1,27.8 551.1,32.4 559.1,42.1 563.1,47.3 571.1,58.3 579.2,70.3 587.2,83.2 595.2,96.9 620.2,142.5 629.4,158.5 634.3,166.5 639.4,174.5 645,182.5 651.1,190.6 657.9,198.6 665.5,206.6 671.5,212.2 679,218.6 687.5,225 695.5,230.5Z"/>
<path fill="#00e6ff" d="M710.6,238.6 715.6,241.7 715.6,14.3 543,14.3 536.2,14.3 543,21.2 547.1,25.5 555.1,34.8 559.1,39.8 567.1,50.4 575.1,61.8 579.2,67.9 587.2,80.7 595.2,94.3 603.2,108.6 621.7,142.5 628.6,154.5 638.4,170.5 647.4,183.4 652.9,190.6 659.8,198.6 667.5,206.6 675.5,213.9 683.5,220.4 691.5,226.2 699.5,231.6Z"/>
<path fill="#00e9ff" d="M712.7,238.6 715.6,240.4 715.6,14.3 539,14.3 538.6,14.3 547.1,23.2 551.1,27.8 559.1,37.5 563.1,42.7 571.1,53.7 579.2,65.5 587.2,78.2 595.2,91.8 603.2,106 621,138.5 632.5,158.5 637.4,166.5 642.7,174.5 651.4,186.4 658.1,194.6 663.4,200.5 671.5,208.4 678.5,214.6 687.5,221.7 694.3,226.6Z"/>
<path fill="#00edff" d="M714.9,238.6 715.6,239.1 715.6,14.3 543,14.3 540.8,14.3 551.1,25.5 555.1,30.3 563.1,40.4 571.1,51.4 578.6,62.4 583.2,69.4 591.2,82.4 599.2,96.3 622.4,138.5 631.6,154.5 636.5,162.5 641.6,170.5 647.2,178.5 651.4,184.2 656.5,190.6 663.5,198.6 671.5,206.6 679.5,213.7 687.5,220.1 695.5,225.9 702.5,230.6Z"/>
<path fill="#00f0ff" d="M710.7,234.6 715.6,237.8 715.6,14.3 551.1,14.3 543,14.3 551.1,23.3 555.1,28 563.1,38.2 574.8,54.4 583.2,67 591.2,80 599.2,93.8 621.7,134.5 630.8,150.5 640.6,166.5 648.8,178.5 655,186.5 661.7,194.6 669.3,202.6 675.5,208.4 682.6,214.6 691.5,221.5 698.7,226.6Z"/>
<path fill="#00f4ff" d="M712.8,234.6 715.6,236.4 715.6,14.3 547.1,14.3 545.1,14.3 555.1,25.8 567.1,41.3 579,58.4 586.8,70.4 599.2,91.3 625.3,138.5 632.2,150.5 642.1,166.5 651.4,179.8 656.7,186.5 663.5,194.6 671.2,202.6 679.5,210.2 687.5,216.8 695.2,222.6Z"/>
<path fill="#00f7ff" d="M714.8,234.6 715.6,235.1 715.6,14.3 551.1,14.3 547.2,14.3 559.1,28.6 567.1,39.1 575.1,50.4 583.2,62.4 591.2,75.3 599.2,88.9 607.3,103.1 624.5,134.5 633.7,150.5 643.4,166 652.1,178.5 658.4,186.5 665.3,194.6 673.1,202.6 679.5,208.5 686.7,214.6 695.5,221.3 703,226.6Z"/>
<path fill="#00fbff" d="M710.8,230.6 715.6,233.8 715.6,14.3 555.1,14.3 549.1,14.3 559.1,26.4 567.1,36.9 579.2,54.1 587.1,66.4 595.2,79.7 603.2,93.5 625.9,134.5 632.8,146.5 642.6,162.5 650.8,174.5 656.8,182.5 663.4,190.5 670.9,198.6 675.5,203.1 683.5,210.3 691.5,216.8 699.3,222.6Z"/>
<path fill="#00fffe" d="M712.8,230.6 715.6,232.5 715.6,14.3 551.1,14.3 563.1,29.4 571.1,40.3 579.2,51.9 587.2,64.3 595.2,77.4 603.2,91.1 625,130.5 636.6,150.5 641.5,158.5 646.8,166.5 655.4,178.5 661.8,186.5 667.4,193 672.7,198.6 679.5,205 687.5,212 695.5,218.3 701.3,222.6Z"/>
<path fill="#00fffa" d="M710.3,226.6 715.6,230.3 715.6,14.3 559.1,14.3 554.2,14.3 563.1,25.7 571.1,36.6 579.2,48.2 587.2,60.5 595.2,73.4 603.2,87.1 629.7,134.5 636.6,146.5 644.1,158.5 652.2,170.5 658.1,178.5 663.4,185.1 668.2,190.6 675.8,198.6 683.5,205.7 691.5,212.5 699.3,218.6Z"/>
<path fill="#00fff6" d="M712.2,226.6 715.6,229 715.6,14.3 559.1,14.3 555.9,14.3 567.1,28.9 575.1,40.2 583.2,52.1 591.2,64.7 599.2,78 606.4,90.4 628.7,130.5 635.7,142.5 645.5,158.5 653.7,170.5 659.7,178.5 666.3,186.5 673.6,194.6 679.5,200.4 686.3,206.6 695.5,214.2 701.2,218.6Z"/>
<path fill="#00fff3" d="M714,226.6 715.6,227.7 715.6,14.3 559.1,14.3 557.6,14.3 567.1,26.8 575.1,38.1 583.2,50 591.2,62.5 599.2,75.8 607.3,89.6 630.1,130.5 637,142.5 646.9,158.5 655.2,170.5 661.3,178.5 667.4,186 671.6,190.6 679.5,198.7 687.5,206 692.9,210.6 703.1,218.6Z"/>
<path fill="#00ffef" d="M710.3,222.6 715.6,226.5 715.6,14.3 567.1,14.3 559.3,14.3 567.1,24.7 575.1,36 583.2,47.9 591.2,60.4 599.2,73.6 607.3,87.3 636,138.5 643.4,150.7 651.4,163 656.7,170.5 663.4,179.3 669.6,186.5 677.1,194.6 683.5,200.8 691.5,207.9 699.7,214.6Z"/>
<path fill="#00ffeb" d="M712.1,222.6 715.6,225.2 715.6,14.3 563.1,14.3 560.9,14.3 567.1,22.6 575.1,33.9 583.2,45.8 591.2,58.4 599.2,71.4 607.3,85.1 637.3,138.5 647.2,154.5 655.4,166.7 661.2,174.5 667.4,182.2 674.9,190.6 679.5,195.3 687.2,202.6 695.5,209.7 701.5,214.6Z"/>
<path fill="#00ffe8" d="M713.8,222.6 715.6,223.9 715.6,14.3 563.1,14.3 562.5,14.3 571.1,26.2 579.2,37.8 587.2,49.9 595.2,62.7 607.3,82.9 629.4,122.5 638.7,138.5 648.6,154.5 656.8,166.5 662.7,174.5 669.3,182.5 675.5,189.4 680.4,194.6 687.5,201.3 693.5,206.6 703.3,214.6Z"/>
<path fill="#00ffe4" d="M715.5,222.6 715.6,14.3 567.1,14.3 564.1,14.3 571.1,24.1 579.2,35.7 587.2,47.9 595.2,60.6 607.3,80.8 633,126.5 640,138.5 649.9,154.5 658.2,166.5 664.3,174.5 670.9,182.5 675.5,187.7 682.1,194.6 687.5,199.7 695.3,206.6 705.1,214.6Z"/>
<path fill="#00ffe1" d="M711.9,218.6 715.6,221.4 715.6,14.3 567.1,14.3 565.6,14.3 579.2,33.7 587.2,45.9 595.2,58.6 607.3,78.7 632,122.5 641.3,138.5 648.7,150.5 656.8,162.5 662.6,170.5 669,178.5 675.5,185.9 679.8,190.6 687.5,198.1 692.4,202.6 701.8,210.6Z"/>
<path fill="#00ffdd" d="M713.6,218.6 715.6,220.1 715.6,14.3 567.1,14.3 583.2,37.7 595.2,56.5 603.2,69.8 611.3,83.5 633.2,122.5 640.2,134.5 650.1,150.5 658.2,162.5 664.1,170.5 670.5,178.5 675.5,184.2 681.4,190.6 687.5,196.6 694.1,202.6 703.5,210.6Z"/>
<path fill="#00ffda" d="M715.2,218.6 715.6,218.9 715.6,14.3 571.1,14.3 568.5,14.3 583.2,35.7 595.2,54.5 603.2,67.7 611.3,81.4 632.2,118.4 641.5,134.5 651.4,150.5 659.4,162.3 665.6,170.5 671.5,177.8 675.5,182.5 683,190.6 687.5,195 695.7,202.6 705.2,210.6Z"/>
<path fill="#00ffd6" d="M711.8,214.6 715.6,217.6 715.6,14.3 571.1,14.3 570,14.3 583.2,33.8 591.2,46.2 599.2,59.1 611.3,79.4 640.4,130.5 650.1,146.5 658.1,158.5 663.9,166.5 670.2,174.5 675.5,180.7 680.7,186.5 687.5,193.4 692.9,198.6 702,206.6Z"/>
<path fill="#00ffd3" d="M713.3,214.6 715.6,216.4 715.6,14.3 575.1,14.3 571.4,14.3 587.2,38 599.2,57.1 611.3,77.3 641.6,130.5 648.9,142.5 656.7,154.5 662.4,162.5 668.4,170.5 675,178.5 682.3,186.5 687.5,191.9 694.5,198.6 703.7,206.6Z"/>
<path fill="#00ffcf" d="M714.9,214.6 715.6,215.2 715.6,14.3 575.1,14.3 572.8,14.3 587.2,36 599.2,55.1 615.3,82.2 633.5,114.4 642.9,130.5 651.4,144.4 659.4,156.4 666.7,166.5 671.5,172.5 676.5,178.5 683.8,186.5 691.5,194.2 696.1,198.6 705.2,206.6Z"/>
<path fill="#00ffcc" d="M711.6,210.6 715.6,213.9 715.6,14.3 579.2,14.3 574.1,14.3 587.2,34.1 603.2,59.8 615.3,80.2 641.7,126.5 649,138.5 656.7,150.5 662.2,158.5 668.1,166.5 674.6,174.5 681.6,182.5 689.3,190.6 695.5,196.5 702.2,202.6Z"/>
<path fill="#00ffc8" d="M713.1,210.6 715.6,212.7 715.6,14.3 579.2,14.3 575.5,14.3 591.2,38.4 603.2,57.9 615.3,78.2 642.9,126.5 651.4,140.4 659.4,152.6 666.5,162.5 671.5,169 676,174.5 683.1,182.5 690.8,190.6 695.5,195.1 703.8,202.6Z"/>
<path fill="#00ffc5" d="M714.6,210.6 715.6,211.4 715.6,14.3 579.2,14.3 576.8,14.3 591.2,36.5 603.2,56 615.3,76.3 644.1,126.5 654,142.5 662,154.5 667.8,162.5 674.1,170.5 679.5,176.9 684.6,182.5 691.5,189.7 696.5,194.6 705.3,202.6Z"/>
<path fill="#00ffc1" d="M711.4,206.6 715.6,210.2 715.6,14.3 583.2,14.3 578.1,14.3 591.2,34.7 603.2,54.1 615.3,74.3 642.9,122.5 650.2,134.5 657.9,146.5 663.4,154.5 669.2,162.5 675.5,170.5 682.4,178.5 689.8,186.5 695.5,192.2 702.3,198.6Z"/>
<path fill="#00ffbe" d="M712.8,206.6 715.6,209 715.6,14.3 583.2,14.3 579.4,14.3 595.2,39.2 607.3,58.8 619.3,79.3 644.1,122.5 651.4,134.5 659.4,146.9 664.6,154.5 671.5,163.7 676.9,170.5 683.8,178.5 691.3,186.5 695.5,190.7 703.8,198.6Z"/>
<path fill="#00ffba" d="M714.2,206.6 715.6,207.8 715.6,14.3 583.2,14.3 580.6,14.3 591.2,30.9 603.2,50.3 615.3,70.5 645.3,122.5 652.6,134.5 660.4,146.5 665.9,154.5 671.9,162.5 678.3,170.5 685.2,178.5 696.8,190.6 705.3,198.6Z"/>
<path fill="#00ffb7" d="M711.1,202.6 715.6,206.5 715.6,14.3 587.2,14.3 581.9,14.3 595.2,35.5 607.3,55.1 619.3,75.5 644.1,118.4 651.4,130.6 659,142.5 664.4,150.5 670.2,158.5 676.4,166.5 683.1,174.5 690.3,182.5 695.5,187.9 702.4,194.6Z"/>
<path fill="#00ffb3" d="M712.5,202.6 715.6,205.3 715.6,14.3 583.2,14.3 599.2,40.1 611.3,60 647.6,122.5 655.4,135.1 663.4,147.3 668.5,154.5 674.5,162.5 684.5,174.5 695.7,186.5 703.9,194.6Z"/>
<path fill="#00ffb0" d="M713.9,202.6 715.6,204.1 715.6,14.3 587.2,14.3 584.3,14.3 599.2,38.3 611.3,58.2 648.8,122.5 655.4,133.2 661.4,142.5 666.9,150.5 672.8,158.5 679,166.5 685.8,174.5 697.1,186.5 705.3,194.6Z"/>
<path fill="#00ffac" d="M715.3,202.6 715.6,202.9 715.6,14.3 587.2,14.3 585.5,14.3 599.2,36.5 611.3,56.4 649.9,122.5 657.4,134.5 663.4,143.7 668.2,150.5 675.5,160.4 680.4,166.5 687.2,174.5 698.5,186.5 706.7,194.6Z"/>
<path fill="#00ffa9" d="M712.3,198.6 715.6,201.6 715.6,14.3 587.2,14.3 586.7,14.3 611.3,54.5 647.4,116.4 656,130.5 663.8,142.5 669.4,150.5 675.3,158.5 685,170.5 695.9,182.5 703.9,190.6Z"/>
<path fill="#00ffa5" d="M713.6,198.6 715.6,200.4 715.6,14.3 591.2,14.3 587.9,14.3 615.3,59.5 649.7,118.4 657.2,130.5 662.4,138.5 667.8,146.5 673.6,154.5 679.7,162.5 686.4,170.5 697.3,182.5 705.2,190.6Z"/>
<path fill="#00ffa2" d="M714.9,198.6 715.6,199.2 715.6,14.3 591.2,14.3 589,14.3 615.3,57.7 648.5,114.4 655.8,126.5 663.5,138.5 669,146.5 674.8,154.5 681,162.5 687.7,170.5 698.6,182.5 706.6,190.6Z"/>
<path fill="#00ff9e" d="M712,194.6 715.6,198 715.6,14.3 591.2,14.3 590.2,14.3 615.3,56 649.6,114.4 656.9,126.5 664.7,138.5 670.2,146.5 675.5,153.7 685.6,166.5 696.2,178.5 703.9,186.5Z"/>
<path fill="#00ff9b" d="M713.3,194.6 715.6,196.8 715.6,14.3 595.2,14.3 591.3,14.3 615.3,54.2 648.2,110.4 655.6,122.5 663.2,134.5 668.6,142.5 674.3,150.5 680.4,158.5 686.9,166.5 697.5,178.5 705.2,186.5Z"/>
<path fill="#00ff97" d="M714.5,194.6 715.6,195.6 715.6,14.3 595.2,14.3 592.4,14.3 619.3,59.3 649.3,110.4 656.7,122.5 664.4,134.5 669.8,142.5 675.5,150.5 681.6,158.5 688.1,166.5 698.8,178.5 706.5,186.5Z"/>
<path fill="#00ff94" d="M711.8,190.6 715.6,194.4 715.6,14.3 595.2,14.3 593.5,14.3 619.3,57.5 650.4,110.4 657.8,122.5 665.5,134.5 671,142.5 676.7,150.5 686.1,162.5 696.4,174.5 703.9,182.5Z"/>
<path fill="#00ff90" d="M713,190.6 715.6,193.1 715.6,14.3 595.2,14.3 594.6,14.3 619.3,55.8 646.7,102.4 656.4,118.4 666.7,134.5 672.1,142.5 677.9,150.5 687.3,162.5 697.7,174.5 705.1,182.5Z"/>
<path fill="#00ff8d" d="M714.2,190.6 715.6,191.9 715.6,14.3 599.2,14.3 595.7,14.3 650.1,106.4 657.5,118.4 665.1,130.5 676.2,146.5 682.2,154.5 688.6,162.5 698.9,174.5 706.4,182.5Z"/>
<path fill="#00ff89" d="M715.4,190.6 715.6,190.7 715.6,14.3 599.2,14.3 596.7,14.3 648.8,102.4 658.5,118.4 666.3,130.5 677.3,146.5 683.4,154.5 689.8,162.5 700.2,174.5Z"/>
<path fill="#00ff86" d="M712.7,186.5 715.6,189.5 715.6,14.3 599.2,14.3 597.8,14.3 602.5,22.3 649.8,102.4 659.4,118.1 667.4,130.5 678.5,146.5 687.7,158.5 697.8,170.5 705.1,178.5Z"/>
<path fill="#00ff82" d="M713.9,186.5 715.6,188.3 715.6,14.3 599.2,14.3 598.9,14.3 605.8,26.3 646,94.4 658.2,114.4 668.5,130.5 679.5,146.2 688.9,158.5 699.1,170.5 706.3,178.5Z"/>
<path fill="#00ff7e" d="M715,186.5 715.6,187.1 715.6,14.3 603.2,14.3 599.9,14.3 644.7,90.4 655.4,108.3 664.3,122.5 675.5,139.1 680.8,146.5 687.5,155.2 693.4,162.5 700.3,170.5Z"/>
<path fill="#00ff7b" d="M712.4,182.5 715.6,185.9 715.6,14.3 603.2,14.3 600.9,14.3 605.5,22.3 648.1,94.4 657.8,110.4 665.4,122.5 676.2,138.5 682,146.5 688.1,154.5 698,166.5 705,174.5Z"/>
<path fill="#00ff77" d="M713.5,182.5 715.6,184.7 715.6,14.3 603.2,14.3 601.9,14.3 613.5,34.3 649.1,94.4 658.8,110.4 667.4,124 677.3,138.5 683.1,146.5 689.3,154.5 699.2,166.5Z"/>
<path fill="#00ff74" d="M714.7,182.5 715.6,183.5 715.6,14.3 603.2,14.3 603,14.3 612.2,30.3 645.3,86.4 659.4,109.7 670.2,126.5 681.3,142.5 690.4,154.5 700.3,166.5Z"/>
<path fill="#00ff70" d="M712.1,178.5 715.6,182.3 715.6,14.3 607.3,14.3 604,14.3 606.2,18.3 617.8,38.3 646.2,86.4 658.4,106.4 666,118.4 676.7,134.5 682.4,142.5 688.4,150.5 698.1,162.5Z"/>
<path fill="#00ff6d" d="M713.2,178.5 715.6,181.1 715.6,14.3 607.3,14.3 605,14.3 609.5,22.3 644.8,82.4 656.9,102.4 667,118.4 677.8,134.5 689.6,150.5 699.2,162.5Z"/>
<path fill="#00ff69" d="M714.3,178.5 715.6,179.9 715.6,14.3 607.3,14.3 606,14.3 617.4,34.3 650.6,90.4 660.4,106.4 668.1,118.4 678.9,134.5 690.7,150.5 700.4,162.5Z"/>
<path fill="#00ff66" d="M715.4,178.5 715.6,178.7 715.6,14.3 607.3,14.3 606.9,14.3 613.7,26.3 637.2,66.4 656.5,98.4 669.1,118.4 679.9,134.5 685.7,142.5 691.8,150.5 701.5,162.5Z"/>
<path fill="#00ff62" d="M712.9,174.5 715.6,177.5 715.6,14.3 611.3,14.3 607.9,14.3 610.1,18.3 621.6,38.3 640.5,70.4 652.5,90.4 665,110.4 678.2,130.5 687.5,143.4 699.3,158.5Z"/>
<path fill="#00ff5f" d="M714,174.5 715.6,176.3 715.6,14.3 611.3,14.3 608.9,14.3 613.3,22.3 624.9,42.3 641.5,70.4 653.5,90.4 666,110.4 676.5,126.5 687.9,142.5 694,150.5 700.4,158.5Z"/>
<path fill="#00ff5b" d="M715.1,174.5 715.6,175.1 715.6,14.3 611.3,14.3 609.8,14.3 621.2,34.3 649.6,82.4 661.9,102.4 669.5,114.4 680.3,130.5 692,146.5 701.5,158.5Z"/>
<path fill="#00ff58" d="M712.6,170.5 715.6,173.9 715.6,14.3 611.3,14.3 610.8,14.3 617.5,26.3 633.8,54.4 653,86.4 662.9,102.4 670.6,114.4 681.4,130.5 690,142.5 702.6,158.5Z"/>
<path fill="#00ff54" d="M713.7,170.5 715.6,172.7 715.6,14.3 615.3,14.3 611.7,14.3 613.9,18.3 625.3,38.3 637.1,58.4 653.9,86.4 663.9,102.4 676.9,122.5 688.1,138.5 700.4,154.5Z"/>
<path fill="#00ff51" d="M714.7,170.5 715.6,171.5 715.6,14.3 615.3,14.3 612.7,14.3 617.1,22.3 626.2,38.3 640.4,62.4 652.4,82.4 664.8,102.4 677.9,122.5 689.2,138.5 701.5,154.5Z"/>
<path fill="#00ff4d" d="M712.4,166.5 715.6,170.3 715.6,14.3 615.3,14.3 613.6,14.3 624.8,34.3 648.5,74.4 667.4,105 678.9,122.5 690.2,138.5 702.5,154.5Z"/>
<path fill="#00ff4a" d="M713.4,166.5 715.6,169.1 715.6,14.3 615.3,14.3 614.5,14.3 616.7,18.3 632.7,46.3 654.3,82.4 669.3,106.4 679.9,122.5 691.3,138.5 700.4,150.5Z"/>
<path fill="#00ff46" d="M714.4,166.5 715.6,168 715.6,14.3 619.3,14.3 615.5,14.3 617.6,18.3 626.6,34.3 638.3,54.4 652.8,78.4 662.7,94.4 670.3,106.4 678.2,118.4 689.4,134.5 701.4,150.5Z"/>
<path fill="#00ff43" d="M715.4,166.5 715.6,166.8 715.6,14.3 619.3,14.3 616.4,14.3 620.7,22.3 629.8,38.3 641.6,58.4 653.7,78.4 666.1,98.4 679.2,118.4 690.4,134.5 702.5,150.5Z"/>
<path fill="#00ff3f" d="M713.1,162.5 715.6,165.6 715.6,14.3 619.3,14.3 617.3,14.3 626.1,30.3 644.9,62.4 664.5,94.4 677.5,114.4 688.5,130.5 700.4,146.5Z"/>
<path fill="#00ff3c" d="M714,162.5 715.6,164.4 715.6,14.3 619.3,14.3 618.2,14.3 624.7,26.3 631.6,38.3 650.6,70.4 668,98.4 678.5,114.4 689.5,130.5 701.4,146.5Z"/>
<path fill="#00ff38" d="M715,162.5 715.6,163.2 715.6,14.3 619.3,14.3 619.1,14.3 625.6,26.3 641.9,54.4 656.4,78.4 671.5,102.4 682.1,118.4 693.4,134.5 702.4,146.5Z"/>
<path fill="#00ff35" d="M712.8,158.5 715.6,162 715.6,14.3 623.3,14.3 620,14.3 622.1,18.3 628.8,30.3 638,46.3 659.8,82.4 672.5,102.4 685.9,122.5 697.3,138.5Z"/>
<path fill="#00ff31" d="M713.7,158.5 715.6,160.8 715.6,14.3 623.3,14.3 620.9,14.3 627.4,26.3 636.5,42.3 646,58.4 665.7,90.4 678.7,110.4 689.6,126.5 701.3,142.5Z"/>
<path fill="#00ff2e" d="M714.7,158.5 715.6,159.6 715.6,14.3 623.3,14.3 621.7,14.3 632.8,34.3 649.3,62.4 666.6,90.4 679.6,110.4 690.6,126.5 702.3,142.5Z"/>
<path fill="#00ff2a" d="M712.5,154.5 715.6,158.5 715.6,14.3 623.3,14.3 622.6,14.3 624.7,18.3 638.3,42.3 652.6,66.4 670.1,94.4 680.6,110.4 691.6,126.5 700.3,138.5Z"/>
<path fill="#00ff27" d="M713.4,154.5 715.6,157.3 715.6,14.3 627.3,14.3 623.5,14.3 630,26.3 636.8,38.3 655.9,70.4 671,94.4 684.2,114.4 698.3,134.5Z"/>
<path fill="#00ff23" d="M714.3,154.5 715.6,156.1 715.6,14.3 627.3,14.3 624.4,14.3 626.5,18.3 633.1,30.3 642.3,46.3 661.8,78.4 674.5,98.4 687.9,118.4 702.2,138.5Z"/>
<path fill="#00ff20" d="M715.3,154.5 715.6,154.9 715.6,14.3 627.3,14.3 625.2,14.3 631.7,26.3 645.6,50.4 665.2,82.4 678,102.4 688.8,118.4 700.2,134.5Z"/>
<path fill="#00ff1c" d="M713.1,150.5 715.6,153.8 715.6,14.3 627.3,14.3 626.1,14.3 637,34.3 648.8,54.4 666,82.4 678.9,102.4 689.7,118.4 701.1,134.5Z"/>
<path fill="#00ff19" d="M714,150.5 715.6,152.6 715.6,14.3 627.3,14.3 626.9,14.3 631.2,22.3 642.5,42.3 656.9,66.4 669.5,86.4 679.8,102.4 690.7,118.4 702.1,134.5Z"/>
<path fill="#00ff15" d="M714.9,150.5 715.6,151.4 715.6,14.3 631.3,14.3 627.8,14.3 634.2,26.3 641,38.3 657.8,66.4 672.9,90.4 686.1,110.4 700.1,130.5Z"/>
<path fill="#00ff12" d="M712.8,146.5 715.6,150.2 715.6,14.3 631.3,14.3 628.6,14.3 630.7,18.3 641.9,38.3 658.7,66.4 673.8,90.4 687,110.4 698.1,126.5Z"/>
<path fill="#00ff0e" d="M713.7,146.5 715.6,149.1 715.6,14.3 631.3,14.3 629.5,14.3 633.7,22.3 645,42.3 662,70.4 674.7,90.4 687.9,110.4 701.9,130.5Z"/>
<path fill="#00ff0a" d="M714.5,146.5 715.6,147.9 715.6,14.3 631.3,14.3 630.3,14.3 634.5,22.3 641.2,34.3 653,54.4 665.3,74.4 678.1,94.4 688.8,110.4 700,126.5Z"/>
<path fill="#00ff07" d="M715.4,146.5 715.6,146.7 715.6,14.3 631.3,14.3 631.1,14.3 633.2,18.3 637.5,26.3 646.7,42.3 656.3,58.4 668.7,78.4 681.7,98.4 692.5,114.4 700.9,126.5Z"/>
<path fill="#00ff03" d="M713.3,142.5 715.6,145.6 715.6,14.3 635.3,14.3 632,14.3 636.2,22.3 642.9,34.3 657.1,58.4 669.6,78.4 685.2,102.4 698.9,122.5Z"/>
<path fill="#01ff00" d="M714.2,142.5 715.6,144.4 715.6,14.3 635.3,14.3 632.8,14.3 634.9,18.3 646,38.3 660.4,62.4 673,82.4 686.1,102.4 697,118.4Z"/>
<path fill="#05ff00" d="M715.5,142.5 715.6,14.3 635.3,14.3 634.1,14.3 642.7,30.3 654.3,50.4 666.6,70.4 676.9,86.4 690.1,106.4 701.2,122.5Z"/>
<path fill="#09ff00" d="M713.4,138.5 715.6,141.5 715.6,14.3 635.3,14.3 634.9,14.3 636.9,18.3 645.7,34.3 657.6,54.4 667.5,70.4 677.7,86.4 688.3,102.4 702,122.5Z"/>
<path fill="#0cff00" d="M714.3,138.5 715.6,140.3 715.6,14.3 639.4,14.3 635.7,14.3 644.3,30.3 656,50.4 668.3,70.4 683.8,94.4 697.3,114.4Z"/>
<path fill="#10ff00" d="M715.1,138.5 715.6,139.2 715.6,14.3 639.4,14.3 636.5,14.3 645.1,30.3 652,42.3 659.2,54.4 671.7,74.4 684.7,94.4 698.2,114.4Z"/>
<path fill="#14ff00" d="M713.1,134.5 715.6,138 715.6,14.3 639.4,14.3 637.3,14.3 639.4,18.3 643.7,26.3 650.5,38.3 662.5,58.4 672.5,74.4 685.5,94.4 699.1,114.4Z"/>
<path fill="#17ff00" d="M713.9,134.5 715.6,136.9 715.6,14.3 639.4,14.3 638.1,14.3 644.4,26.3 653.6,42.3 665.7,62.4 678.5,82.4 689,98.4 702.7,118.4Z"/>
<path fill="#1bff00" d="M714.7,134.5 715.6,135.7 715.6,14.3 639.4,14.3 638.9,14.3 641,18.3 649.7,34.3 659.2,50.4 669.1,66.4 679.3,82.4 689.9,98.4 700.7,114.4Z"/>
<path fill="#1eff00" d="M715.5,134.5 715.6,14.3 643.4,14.3 639.7,14.3 648.3,30.3 657.6,46.3 669.9,66.4 685.4,90.4 701.6,114.4Z"/>
<path fill="#22ff00" d="M713.5,130.5 715.6,133.4 715.6,14.3 643.4,14.3 640.5,14.3 649,30.3 660.8,50.4 673.2,70.4 686.2,90.4 696.9,106.4Z"/>
<path fill="#25ff00" d="M714.3,130.5 715.6,132.3 715.6,14.3 643.4,14.3 641.3,14.3 649.8,30.3 661.6,50.4 674,70.4 684.4,86.4 697.8,106.4Z"/>
<path fill="#29ff00" d="M715.1,130.5 715.6,131.2 715.6,14.3 643.4,14.3 642.1,14.3 646.2,22.3 655.2,38.3 664.8,54.4 674.8,70.4 685.2,86.4 698.6,106.4Z"/>
<path fill="#2cff00" d="M713.1,126.5 715.6,130 715.6,14.3 643.4,14.3 642.9,14.3 651.4,30.3 658.3,42.3 668.1,58.4 678.2,74.4 688.7,90.4Z"/>
<path fill="#30ff00" d="M713.9,126.5 715.6,128.9 715.6,14.3 647.4,14.3 643.6,14.3 649.9,26.3 659.1,42.3 668.8,58.4 681.6,78.4 697.5,102.4Z"/>
<path fill="#33ff00" d="M714.7,126.5 715.6,127.8 715.6,14.3 647.4,14.3 644.4,14.3 652.9,30.3 662.3,46.3 672.1,62.4 685,82.4 698.3,102.4Z"/>
<path fill="#37ff00" d="M715.5,126.5 715.6,126.6 715.6,14.3 647.4,14.3 645.2,14.3 653.7,30.3 665.5,50.4 672.9,62.4 685.8,82.4 701.8,106.4Z"/>
<path fill="#3aff00" d="M713.5,122.5 715.6,125.5 715.6,14.3 647.4,14.3 646,14.3 648,18.3 656.7,34.3 666.2,50.4 676.2,66.4 686.6,82.4Z"/>
<path fill="#3eff00" d="M714.3,122.5 715.6,124.4 715.6,14.3 647.4,14.3 646.7,14.3 653,26.3 659.8,38.3 669.5,54.4 677,66.4 690,86.4Z"/>
<path fill="#41ff00" d="M715,122.5 715.6,123.3 715.6,14.3 651.4,14.3 647.5,14.3 653.8,26.3 660.6,38.3 670.2,54.4 683,74.4 693.5,90.4Z"/>
<path fill="#45ff00" d="M713.1,118.4 715.6,122.2 715.6,14.3 651.4,14.3 648.3,14.3 654.5,26.3 663.7,42.3 673.5,58.4 681.1,70.4 694.3,90.4Z"/>
<path fill="#48ff00" d="M713.8,118.4 715.6,121.1 715.6,14.3 651.4,14.3 649,14.3 655.3,26.3 664.5,42.3 674.3,58.4 684.5,74.4Z"/>
<path fill="#4cff00" d="M714.6,118.4 715.6,120 715.6,14.3 651.4,14.3 649.8,14.3 651.8,18.3 658.3,30.3 667.6,46.3 677.6,62.4 685.3,74.4Z"/>
<path fill="#4fff00" d="M715.3,118.4 715.6,118.9 715.6,14.3 651.4,14.3 650.5,14.3 656.8,26.3 663.6,38.3 670.8,50.4 688.7,78.4Z"/>
<path fill="#53ff00" d="M713.4,114.4 715.6,117.8 715.6,14.3 651.4,14.3 653.3,18.3 659.8,30.3 666.7,42.3 674.1,54.4 689.4,78.4Z"/>
<path fill="#56ff00" d="M714.1,114.4 715.6,116.7 715.6,14.3 655.4,14.3 652,14.3 658.3,26.3 665.1,38.3 674.8,54.4 685,70.4Z"/>
<path fill="#5aff00" d="M714.8,114.4 715.6,115.6 715.6,14.3 655.4,14.3 652.8,14.3 659,26.3 668.2,42.3 678.1,58.4 685.7,70.4Z"/>
<path fill="#5dff00" d="M715.6,114.4 715.6,14.3 655.4,14.3 653.5,14.3 659.8,26.3 669,42.3 676.3,54.4 686.5,70.4Z"/>
<path fill="#61ff00" d="M713.6,110.4 715.6,113.4 715.6,14.3 655.4,14.3 654.3,14.3 658.4,22.3 665,34.3 672.1,46.3 682.1,62.4 689.8,74.4Z"/>
<path fill="#64ff00" d="M714.3,110.4 715.6,112.4 715.6,14.3 655.4,14.3 655,14.3 661.2,26.3 665.7,34.3 672.9,46.3 688,70.4Z"/>
<path fill="#68ff00" d="M715,110.4 715.6,111.3 715.6,14.3 659.4,14.3 655.7,14.3 659.8,22.3 666.5,34.3 676.1,50.4 686.2,66.4Z"/>
<path fill="#6bff00" d="M713.1,106.4 715.6,110.2 715.6,14.3 659.4,14.3 656.5,14.3 662.7,26.3 669.5,38.3 676.8,50.4 684.3,62.4Z"/>
<path fill="#6fff00" d="M713.8,106.4 715.6,109.1 715.6,14.3 659.4,14.3 657.2,14.3 663.4,26.3 670.3,38.3 677.5,50.4 685.1,62.4Z"/>
<path fill="#72ff00" d="M714.5,106.4 715.6,108.1 715.6,14.3 659.4,14.3 657.9,14.3 664.2,26.3 673.4,42.3 688.4,66.4Z"/>
<path fill="#76ff00" d="M715.2,106.4 715.6,107 715.6,14.3 659.4,14.3 658.7,14.3 662.7,22.3 669.4,34.3 676.5,46.3 689.1,66.4Z"/>
<path fill="#79ff00" d="M713.3,102.4 715.6,106 715.6,14.3 659.4,14.3 663.5,22.3 667.8,30.3 677.2,46.3 689.8,66.4Z"/>
<path fill="#7dff00" d="M714,102.4 715.6,104.9 715.6,14.3 663.4,14.3 660.1,14.3 664.2,22.3 670.8,34.3 678,46.3 685.4,58.4Z"/>
<path fill="#80ff00" d="M714.7,102.4 715.6,103.9 715.6,14.3 663.4,14.3 660.8,14.3 667,26.3 673.9,38.3 681.1,50.4 688.7,62.4Z"/>
<path fill="#84ff00" d="M715.3,102.4 715.6,102.8 715.6,14.3 663.4,14.3 661.5,14.3 667.8,26.3 674.6,38.3 681.8,50.4 689.4,62.4Z"/>
<path fill="#88ff00" d="M713.4,98.4 715.6,101.8 715.6,14.3 663.4,14.3 662.2,14.3 664.2,18.3 670.7,30.3 677.7,42.3 690.1,62.4Z"/>
<path fill="#8bff00" d="M714.1,98.4 715.6,100.7 715.6,14.3 663.4,14.3 663,14.3 667,22.3 673.7,34.3 678.4,42.3 690.8,62.4Z"/>
<path fill="#8fff00" d="M714.8,98.4 715.6,99.7 715.6,14.3 667.4,14.3 663.7,14.3 667.7,22.3 672.1,30.3 679.1,42.3 686.5,54.4Z"/>
<path fill="#92ff00" d="M715.4,98.4 715.6,98.7 715.6,14.3 667.4,14.3 664.4,14.3 668.4,22.3 675.1,34.3 682.2,46.3 689.7,58.4Z"/>
<path fill="#96ff00" d="M713.5,94.4 715.6,97.7 715.6,14.3 667.4,14.3 665.1,14.3 669.1,22.3 675.8,34.3 682.9,46.3 690.4,58.4Z"/>
<path fill="#99ff00" d="M714.2,94.4 715.6,96.6 715.6,14.3 667.4,14.3 665.8,14.3 672,26.3 678.8,38.3 691.1,58.4Z"/>
<path fill="#9dff00" d="M714.8,94.4 715.6,95.6 715.6,14.3 667.4,14.3 666.5,14.3 668.4,18.3 674.9,30.3 681.9,42.3 694.3,62.4Z"/>
<path fill="#a0ff00" d="M715.5,94.4 715.6,14.3 667.4,14.3 667.2,14.3 673.3,26.3 682.6,42.3 692.4,58.4Z"/>
<path fill="#a4ff00" d="M713.6,90.4 715.6,93.6 715.6,14.3 671.5,14.3 667.9,14.3 674,26.3 680.9,38.3 688.1,50.4Z"/>
<path fill="#a7ff00" d="M714.2,90.4 715.6,92.6 715.6,14.3 671.5,14.3 668.5,14.3 672.6,22.3 676.9,30.3 681.5,38.3 688.8,50.4Z"/>
<path fill="#abff00" d="M714.8,90.4 715.6,91.6 715.6,14.3 671.5,14.3 669.2,14.3 673.3,22.3 679.9,34.3 692,54.4Z"/>
<path fill="#aeff00" d="M715.5,90.4 715.6,14.3 671.5,14.3 669.9,14.3 673.9,22.3 680.6,34.3 692.6,54.4Z"/>
<path fill="#b2ff00" d="M713.6,86.4 715.6,89.6 715.6,14.3 671.5,14.3 670.6,14.3 674.6,22.3 681.2,34.3 693.3,54.4Z"/>
<path fill="#b5ff00" d="M714.2,86.4 715.6,88.6 715.6,14.3 671.5,14.3 671.3,14.3 673.2,18.3 677.4,26.3 686.6,42.3 696.5,58.4Z"/>
<path fill="#b9ff00" d="M714.8,86.4 715.6,87.6 715.6,14.3 675.5,14.3 672,14.3 678.1,26.3 682.6,34.3 689.7,46.3Z"/>
<path fill="#bcff00" d="M715.5,86.4 715.6,86.6 715.6,14.3 675.5,14.3 672.6,14.3 676.6,22.3 681,30.3 692.8,50.4Z"/>
<path fill="#c0ff00" d="M713.5,82.4 715.6,85.6 715.6,14.3 675.5,14.3 673.3,14.3 677.3,22.3 681.6,30.3 693.5,50.4Z"/>
<path fill="#c3ff00" d="M714.2,82.4 715.6,84.7 715.6,14.3 675.5,14.3 674,14.3 678,22.3 684.6,34.3 694.1,50.4Z"/>
<path fill="#c7ff00" d="M714.8,82.4 715.6,83.7 715.6,14.3 675.5,14.3 674.6,14.3 678.6,22.3 685.2,34.3 697.2,54.4Z"/>
<path fill="#caff00" d="M715.4,82.4 715.6,82.7 715.6,14.3 675.5,14.3 675.3,14.3 677.2,18.3 681.4,26.3 688.2,38.3 697.9,54.4Z"/>
<path fill="#ceff00" d="M713.5,78.4 715.6,81.8 715.6,14.3 679.5,14.3 675.9,14.3 682.1,26.3 686.5,34.3 693.6,46.3Z"/>
<path fill="#d1ff00" d="M714.1,78.4 715.6,80.8 715.6,14.3 679.5,14.3 676.6,14.3 682.7,26.3 689.5,38.3 694.2,46.3Z"/>
<path fill="#d5ff00" d="M714.7,78.4 715.6,79.8 715.6,14.3 679.5,14.3 677.3,14.3 681.2,22.3 685.6,30.3 697.3,50.4Z"/>
<path fill="#d8ff00" d="M715.3,78.4 715.6,78.9 715.6,14.3 679.5,14.3 677.9,14.3 681.9,22.3 686.2,30.3 697.9,50.4Z"/>
<path fill="#dcff00" d="M713.4,74.4 715.6,77.9 715.6,14.3 679.5,14.3 678.6,14.3 682.5,22.3 689.1,34.3 698.6,50.4Z"/>
<path fill="#dfff00" d="M714,74.4 715.6,77 715.6,14.3 679.5,14.3 679.2,14.3 683.2,22.3 689.7,34.3 696.8,46.3Z"/>
<path fill="#e3ff00" d="M714.6,74.4 715.6,76 715.6,14.3 683.5,14.3 679.8,14.3 683.8,22.3 688.1,30.3 695,42.3Z"/>
<path fill="#e6ff00" d="M715.2,74.4 715.6,75.1 715.6,14.3 683.5,14.3 680.5,14.3 686.5,26.3 693.3,38.3 698,46.3Z"/>
<path fill="#eaff00" d="M713.3,70.4 715.6,74.1 715.6,14.3 683.5,14.3 681.1,14.3 687.2,26.3 696.2,42.3Z"/>
<path fill="#edff00" d="M713.9,70.4 715.6,73.2 715.6,14.3 683.5,14.3 681.7,14.3 685.7,22.3 690,30.3 696.8,42.3Z"/>
<path fill="#f1ff00" d="M714.4,70.4 715.6,72.3 715.6,14.3 683.5,14.3 682.4,14.3 686.3,22.3 690.6,30.3 697.5,42.3Z"/>
<path fill="#f5ff00" d="M715,70.4 715.6,71.3 715.6,14.3 683.5,14.3 683,14.3 684.9,18.3 689,26.3 693.4,34.3 700.4,46.3Z"/>
<path fill="#f8ff00" d="M715.6,70.4 715.6,14.3 687.5,14.3 683.6,14.3 685.5,18.3 689.7,26.3 696.3,38.3Z"/>
<path fill="#fcff00" d="M713.7,66.4 715.6,69.5 715.6,14.3 687.5,14.3 684.2,14.3 686.2,18.3 690.3,26.3 696.9,38.3Z"/>
<path fill="#fffe00" d="M714.3,66.4 715.6,68.6 715.6,14.3 687.5,14.3 684.9,14.3 688.8,22.3 697.5,38.3Z"/>
<path fill="#fffa00" d="M715.1,66.4 715.6,67.1 715.6,14.3 687.5,14.3 685.8,14.3 691.8,26.3 700.8,42.3Z"/>
<path fill="#fff600" d="M713.3,62.4 715.6,66.2 715.6,14.3 687.5,14.3 686.5,14.3 692.4,26.3 701.4,42.3Z"/>
<path fill="#fff200" d="M713.9,62.4 715.6,65.2 715.6,14.3 687.5,14.3 687.1,14.3 689,18.3 693.1,26.3 697.4,34.3Z"/>
<path fill="#ffef00" d="M714.5,62.4 715.6,64.2 715.6,14.3 691.5,14.3 687.8,14.3 689.6,18.3 693.7,26.3 698.1,34.3Z"/>
<path fill="#ffeb00" d="M715.1,62.4 715.6,63.2 715.6,14.3 691.5,14.3 688.4,14.3 690.3,18.3 694.3,26.3 700.9,38.3Z"/>
<path fill="#ffe700" d="M713.3,58.4 715.6,62.3 715.6,14.3 691.5,14.3 689,14.3 690.9,18.3 695,26.3 701.6,38.3Z"/>
<path fill="#ffe400" d="M713.8,58.4 715.6,61.3 715.6,14.3 691.5,14.3 689.6,14.3 693.5,22.3 702.2,38.3Z"/>
<path fill="#ffe000" d="M714.4,58.4 715.6,60.3 715.6,14.3 691.5,14.3 690.3,14.3 696.2,26.3 705,42.3Z"/>
<path fill="#ffdd00" d="M715,58.4 715.6,59.4 715.6,14.3 691.5,14.3 690.9,14.3 696.8,26.3 705.6,42.3Z"/>
<path fill="#ffd900" d="M715.6,58.4 715.6,14.3 695.5,14.3 691.5,14.3 697.4,26.3 701.7,34.3Z"/>
<path fill="#ffd500" d="M713.8,54.4 715.6,57.5 715.6,14.3 695.5,14.3 692.1,14.3 696,22.3 700.2,30.3Z"/>
<path fill="#ffd200" d="M714.3,54.4 715.6,56.5 715.6,14.3 695.5,14.3 692.8,14.3 694.6,18.3 698.6,26.3 702.9,34.3Z"/>
<path fill="#ffce00" d="M714.9,54.4 715.6,55.6 715.6,14.3 695.5,14.3 693.4,14.3 695.2,18.3 701.3,30.3Z"/>
<path fill="#ffca00" d="M715.5,54.4 715.6,54.6 715.6,14.3 695.5,14.3 694,14.3 697.8,22.3 706.3,38.3Z"/>
<path fill="#ffc700" d="M713.7,50.4 715.6,53.7 715.6,14.3 695.5,14.3 694.6,14.3 698.4,22.3 704.7,34.3Z"/>
<path fill="#ffc300" d="M714.2,50.4 715.6,52.7 715.6,14.3 695.5,14.3 695.2,14.3 701,26.3 705.2,34.3Z"/>
<path fill="#ffc000" d="M714.8,50.4 715.6,51.8 715.6,14.3 699.5,14.3 695.8,14.3 701.6,26.3 705.8,34.3Z"/>
<path fill="#ffbc00" d="M715.3,50.4 715.6,50.8 715.6,14.3 699.5,14.3 696.4,14.3 700.1,22.3 704.2,30.3Z"/>
<path fill="#ffb800" d="M713.6,46.3 715.6,49.9 715.6,14.3 699.5,14.3 696.9,14.3 700.7,22.3 704.8,30.3Z"/>
<path fill="#ffb500" d="M714.1,46.3 715.6,48.9 715.6,14.3 699.5,14.3 697.5,14.3 701.3,22.3 705.4,30.3Z"/>
<path fill="#ffb100" d="M714.7,46.3 715.6,48 715.6,14.3 699.5,14.3 698.1,14.3 699.9,18.3 705.9,30.3Z"/>
<path fill="#ffad00" d="M715.2,46.3 715.6,47 715.6,14.3 699.5,14.3 698.7,14.3 702.4,22.3 708.6,34.3Z"/>
<path fill="#ffaa00" d="M713.5,42.3 715.6,46.1 715.6,14.3 699.5,14.3 699.3,14.3 701.1,18.3 705,26.3Z"/>
<path fill="#ffa600" d="M714,42.3 715.6,45.1 715.6,14.3 703.6,14.3 699.8,14.3 705.5,26.3Z"/>
<path fill="#ffa200" d="M714.6,42.3 715.6,44.2 715.6,14.3 703.6,14.3 700.4,14.3 706.1,26.3Z"/>
<path fill="#ff9f00" d="M715.1,42.3 715.6,43.2 715.6,14.3 703.6,14.3 700.9,14.3 706.6,26.3Z"/>
<path fill="#ff9b00" d="M713.4,38.3 715.6,42.3 715.6,14.3 703.6,14.3 701.5,14.3 705.2,22.3Z"/>
<path fill="#ff9800" d="M713.9,38.3 715.6,41.3 715.6,14.3 703.6,14.3 702,14.3 705.7,22.3Z"/>
<path fill="#ff9400" d="M714.5,38.3 715.6,40.4 715.6,14.3 703.6,14.3 702.6,14.3 704.4,18.3 708.2,26.3Z"/>
<path fill="#ff9000" d="M715,38.3 715.6,39.5 715.6,14.3 703.6,14.3 703.1,14.3 706.8,22.3Z"/>
<path fill="#ff8d00" d="M715.5,38.3 715.6,14.3 707.6,14.3 703.7,14.3 709.3,26.3Z"/>
<path fill="#ff8900" d="M713.9,34.3 715.6,37.5 715.6,14.3 707.6,14.3 704.2,14.3 709.8,26.3Z"/>
<path fill="#ff8500" d="M714.4,34.3 715.6,36.6 715.6,14.3 707.6,14.3 704.7,14.3 708.4,22.3Z"/>
<path fill="#ff8200" d="M714.9,34.3 715.6,35.6 715.6,14.3 707.6,14.3 705.3,14.3 708.9,22.3Z"/>
<path fill="#ff7e00" d="M715.4,34.3 715.6,34.7 715.6,14.3 707.6,14.3 705.8,14.3 709.4,22.3Z"/>
<path fill="#ff7b00" d="M713.8,30.3 715.6,33.7 715.6,14.3 707.6,14.3 706.3,14.3 709.9,22.3Z"/>
<path fill="#ff7700" d="M714.3,30.3 715.6,32.8 715.6,14.3 707.6,14.3 706.8,14.3 710.4,22.3Z"/>
<path fill="#ff7300" d="M714.8,30.3 715.6,31.8 715.6,14.3 707.6,14.3 707.4,14.3 709.1,18.3Z"/>
<path fill="#ff7000" d="M715.3,30.3 715.6,30.8 715.6,14.3 711.6,14.3 707.9,14.3 711.5,22.3Z"/>
<path fill="#ff6c00" d="M713.8,26.3 715.6,29.9 715.6,14.3 711.6,14.3 708.4,14.3Z"/>
<path fill="#ff6800" d="M714.3,26.3 715.6,28.9 715.6,14.3 711.6,14.3 708.9,14.3Z"/>
<path fill="#ff6500" d="M714.8,26.3 715.6,27.9 715.6,14.3 711.6,14.3 709.4,14.3Z"/>
<path fill="#ff6100" d="M715.3,26.3 715.6,26.9 715.6,14.3 711.6,14.3 709.8,14.3Z"/>
<path fill="#ff5d00" d="M713.9,22.3 715.6,25.9 715.6,14.3 711.6,14.3 710.3,14.3Z"/>
<path fill="#ff5a00" d="M714.4,22.3 715.6,24.9 715.6,14.3 711.6,14.3 710.8,14.3Z"/>
<path fill="#ff5600" d="M714.8,22.3 715.6,23.9 715.6,14.3 711.6,14.3 711.3,14.3Z"/>
<path fill="#ff5300" d="M715.3,22.3 715.6,22.9 715.6,14.3 711.8,14.3Z"/>
<path fill="#ff4f00" d="M714,18.3 715.6,21.9 715.6,14.3 712.3,14.3Z"/>
<path fill="#ff4b00" d="M714.4,18.3 715.6,20.9 715.6,14.3 712.7,14.3Z"/>
<path fill="#ff4800" d="M714.9,18.3 715.6,19.8 715.6,14.3 713.2,14.3Z"/>
<path fill="#ff4400" d="M715.4,18.3 715.6,18.8 715.6,14.3 713.7,14.3Z"/>
<path fill="#ff4000" d="M714.1,14.3 715.6,17.7 715.6,14.3Z"/>
<path fill="#ff3d00" d="M714.6,14.3 715.6,16.7 715.6,14.3Z"/>
<path fill="#ff3900" d="M715,14.3 715.6,15.6 715.6,14.3Z"/>
<path fill="#ff3700" d="M715.5,14.3 715.6,14.5 715.6,14.3Z"/>
<path d="M434.7,99.3 440,94 445.2,89.1 450.5,84.7 455.8,80.9 461,77.6 464.9,75.6 469.8,73.6 473.3,72.5 475.1,72.1 478.6,71.4 480.3,71.1 483.9,70.8 485.6,70.8 489.1,70.9 490.9,71.1 494.4,71.6 496.6,72.1 499.7,73 502.4,73.9 504.9,74.9 506.7,75.7 510.2,77.4 515.5,80.6 520.7,84.3 524.2,87.2 528.9,91.4 533,95.6 537.2,100.2 541.8,105.7 545.6,110.7 550.6,117.6 554.1,122.8 557.6,128.3 561.1,134.1 566.4,143.2 573.4,156 591.3,189.6 597.2,200.1 602.5,208.8 605.8,214.1 609.3,219.3 613,224.6 615.5,228.1 618.3,231.6 621.2,235.1 624.3,238.7 627.8,242.4 631.3,245.9 634.9,249.1 639,252.6 643.6,256.1 647.1,258.5 652.4,261.8 655.9,263.8 661.2,266.5 665.2,268.4 670,270.5 675.2,272.5 680.5,274.4 689.3,277.3 706.8,282.7 715.6,285.6M569.5,14.3 576.9,25.1 583.9,35.6 591,46.5 598,57.7 605,69.4 612,81.4 633.6,119.4 641.9,133.7 647,142.2 651.5,149.2 655.9,156 659.8,161.5 666.3,170.3 671.7,177 678.1,184.3 684,190.5 690.2,196.6 698,203.6 706.3,210.6 715.6,218.1M621.1,14.3 625.8,23.1 630.7,31.8 642.9,52.9 651.4,66.9 658.9,79.1 665.4,89.7 672.1,100.2 682.6,115.9 688.6,124.7 693.6,131.7 704,145.7 715.6,160.6M658.8,14.3 662.4,21.3 667.1,30.1 672.2,38.8 677.5,47.6 682.9,56.4 690.7,68.6 715.6,106.8M690.2,14.3 694.4,23.1 700,33.6 706,44.1 715.6,60.5" fill="none" stroke="#0a0a0a" stroke-width="0.62" stroke-linejoin="round"/>
<rect x="434.7" y="14.3" width="280.9" height="280.4" fill="none" stroke="#4a4a4a" stroke-width="1"/>
<path d="M434.7,294.7v6.8M490.9,294.7v6.8M547.1,294.7v6.8M603.2,294.7v6.8M659.4,294.7v6.8M715.6,294.7v6.8M434.7,294.7h-6.8M434.7,238.6h-6.8M434.7,182.5h-6.8M434.7,126.5h-6.8M434.7,70.4h-6.8M434.7,14.3h-6.8" fill="none" stroke="#444" stroke-width="1"/>
<text transform="translate(434.7 316.3) scale(0.945 1)" font-size="11.4" text-anchor="middle">0.13</text>
<text transform="translate(490.9 316.3) scale(0.945 1)" font-size="11.4" text-anchor="middle">0.136</text>
<text transform="translate(547.1 316.3) scale(0.945 1)" font-size="11.4" text-anchor="middle">0.142</text>
<text transform="translate(603.2 316.3) scale(0.945 1)" font-size="11.4" text-anchor="middle">0.148</text>
<text transform="translate(659.4 316.3) scale(0.945 1)" font-size="11.4" text-anchor="middle">0.154</text>
<text transform="translate(715.6 316.3) scale(0.945 1)" font-size="11.4" text-anchor="middle">0.16</text>
<text transform="translate(425.2 292) scale(0.945 1)" font-size="11.4" text-anchor="end">0.25</text>
<text transform="translate(425.2 235.9) scale(0.945 1)" font-size="11.4" text-anchor="end">0.5</text>
<text transform="translate(425.2 179.8) scale(0.945 1)" font-size="11.4" text-anchor="end">0.75</text>
<text transform="translate(425.2 123.8) scale(0.985 1)" font-size="11.4" text-anchor="end">1</text>
<text transform="translate(425.2 67.7) scale(0.945 1)" font-size="11.4" text-anchor="end">1.25</text>
<text transform="translate(425.2 11.6) scale(0.945 1)" font-size="11.4" text-anchor="end">1.5</text>
<rect x="570" y="152.9" width="10.5" height="8.2" fill="#fff" stroke="#333" stroke-width="0.7"/>
<text x="575.2" y="159.4" font-size="6.5" text-anchor="middle">20</text>
<rect x="629.5" y="115.2" width="10.5" height="8.2" fill="#fff" stroke="#333" stroke-width="0.7"/>
<text x="634.8" y="121.7" font-size="6.5" text-anchor="middle">40</text>
<rect x="657.8" y="79.9" width="10.5" height="8.2" fill="#fff" stroke="#333" stroke-width="0.7"/>
<text x="663" y="86.4" font-size="6.5" text-anchor="middle">60</text>
<rect x="678.8" y="52.4" width="10.5" height="8.2" fill="#fff" stroke="#333" stroke-width="0.7"/>
<text x="684" y="58.9" font-size="6.5" text-anchor="middle">80</text>
<rect x="695" y="30.2" width="13.9" height="8.2" fill="#fff" stroke="#333" stroke-width="0.7"/>
<text x="702" y="36.7" font-size="6.5" text-anchor="middle">100</text>
<text x="575.1" y="9.1" font-size="11.3" text-anchor="middle">Power (mW)</text>
<text x="575.1" y="338.7" font-size="14.2" text-anchor="middle">A: D1 (cm)</text>
<text x="398.7" y="154.5" font-size="14.0" text-anchor="middle" transform="rotate(-90 398.7 154.5)">C: Lr</text>
</g>
<g>
<path fill="#0030ff" d="M482,706.4 763,706.4 763,425.7 482,425.7Z"/>
<path fill="#0033ff" d="M482,706.4 725.6,706.4 730.9,702.4 742.4,694.4 754.9,686.4 763,681.5 763,425.7 482,425.7Z"/>
<path fill="#0037ff" d="M482,706.4 691.7,706.4 703.3,698.4 709.5,694.4 722.8,686.4 744.3,674.3 763,664.6 763,425.7 482,425.7Z"/>
<path fill="#003aff" d="M482,706.4 660.6,706.4 666.5,702.4 679.2,694.4 692.9,686.4 707.6,678.3 731,666.3 747.6,658.3 763,651.1 763,425.7 482,425.7Z"/>
<path fill="#003eff" d="M482,706.4 632,706.4 644.5,698.4 658,690.4 672.5,682.3 687.9,674.3 704.1,666.3 721,658.3 738.6,650.3 763,639.6 763,425.7 482,425.7Z"/>
<path fill="#0041ff" d="M482,706.4 605.6,706.4 618.3,698.4 632,690.4 646.7,682.3 670.3,670.3 687.1,662.3 713.6,650.3 741.6,638.2 763,629.3 763,425.7 482,425.7Z"/>
<path fill="#0045ff" d="M482,706.4 581.1,706.4 593.9,698.4 614.9,686.4 630.1,678.3 654.6,666.3 671.9,658.3 699.2,646.2 727.9,634.2 763,620.1 763,425.7 482,425.7Z"/>
<path fill="#0049ff" d="M482,706.4 558.3,706.4 571.1,698.4 577.9,694.4 592.2,686.4 615.3,674.3 640.4,662.3 667.3,650.3 695.8,638.2 725.6,626.2 763,611.7 763,425.7 482,425.7Z"/>
<path fill="#004cff" d="M482,706.4 536.9,706.4 549.7,698.4 556.5,694.4 578.2,682.3 601.9,670.3 627.6,658.3 655.1,646.2 684.2,634.2 725,618.2 763,603.9 763,425.7 482,425.7Z"/>
<path fill="#0050ff" d="M482,706.4 516.9,706.4 529.6,698.4 536.3,694.4 557.9,682.3 581.5,670.3 598.4,662.3 616.1,654.3 644.1,642.2 663.7,634.2 683.9,626.2 726,610.2 763,596.6 763,425.7 482,425.7Z"/>
<path fill="#0053ff" d="M482,706.4 498.1,706.4 510.7,698.4 517.3,694.4 538.7,682.3 562.1,670.3 578.9,662.3 596.5,654.3 624.4,642.2 644,634.2 664.3,626.2 706.5,610.2 763,589.7 763,425.7 482,425.7Z"/>
<path fill="#0057ff" d="M482,702.4 482,705.3 492.7,698.4 506.1,690.4 520.5,682.3 535.8,674.3 560.3,662.3 577.8,654.3 596.1,646.2 625.1,634.2 666.2,618.2 709.7,602.1 763,583.3 763,429.7 763,425.7 482,425.7Z"/>
<path fill="#005aff" d="M482,694.4 482,694.5 496,686.4 510.6,678.3 534.3,666.3 560,654.3 578.1,646.2 597.2,638.2 627.1,626.2 669.5,610.2 714.1,594.1 763,577.1 763,429.7 763,425.7 482,425.7Z"/>
<path fill="#005eff" d="M482,682.3 482,685 494.1,678.3 509.4,670.3 525.7,662.3 542.9,654.3 570.2,642.2 589.5,634.2 609.6,626.2 641.1,614.2 674,602.1 719.7,586.1 763,571.3 763,429.7 763,425.7 482,425.7Z"/>
<path fill="#0061ff" d="M482,674.3 482,676.3 493.5,670.3 509.5,662.3 535.3,650.3 563.1,638.2 582.6,630.2 603,622.2 634.9,610.2 668.2,598.1 714.5,582.1 763,565.7 763,429.7 763,425.7 482,425.7Z"/>
<path fill="#0065ff" d="M482,666.3 482,668.4 494.1,662.3 510.8,654.3 537.6,642.2 566.4,630.2 586.6,622.2 607.6,614.2 640.4,602.1 674.6,590.1 709.9,578.1 763,560.4 763,429.7 763,425.7 482,425.7Z"/>
<path fill="#0068ff" d="M482,658.3 482,660.9 495.8,654.3 513.2,646.2 541.1,634.2 570.8,622.2 591.7,614.2 613.3,606.1 647,594.1 682,582.1 763,555.3 763,429.7 763,425.7 482,425.7Z"/>
<path fill="#006cff" d="M482,650.3 482,653.9 507.5,642.2 535.7,630.2 565.8,618.2 597.8,606.1 631.4,594.1 666.4,582.1 702.5,570.1 763,550.4 763,429.7 763,425.7 482,425.7Z"/>
<path fill="#0070ff" d="M482,646.2 482,647.4 493.2,642.2 511.6,634.2 540.8,622.2 571.9,610.2 604.9,598.1 639.4,586.1 675.2,574.1 763,545.6 763,429.7 763,425.7 482,425.7Z"/>
<path fill="#0073ff" d="M482,638.2 482,641.1 507.1,630.2 536.6,618.2 557.4,610.2 590.1,598.1 624.5,586.1 660.3,574.1 709.6,558 763,541.1 763,429.7 763,425.7 482,425.7Z"/>
<path fill="#0077ff" d="M482,634.2 482,635.2 503,626.2 532.9,614.2 564.7,602.1 598.4,590.1 633.7,578.1 670.3,566 763,536.6 763,429.7 763,425.7 482,425.7Z"/>
<path fill="#007aff" d="M482,626.2 482,629.5 509.2,618.2 529.6,610.2 561.8,598.1 595.9,586.1 631.5,574.1 668.5,562 763,532.3 763,429.7 763,425.7 482,425.7Z"/>
<path fill="#007eff" d="M482,622.2 482,624 506.1,614.2 537.4,602.1 570.6,590.1 605.6,578.1 629.8,570.1 667.1,558 763,528.2 763,429.7 763,425.7 482,425.7Z"/>
<path fill="#0081ff" d="M482,618.2 482,618.8 513.8,606.1 546.1,594.1 568.7,586.1 604.1,574.1 628.5,566 666.2,554 763,524.1 763,429.7 763,425.7 482,425.7Z"/>
<path fill="#0085ff" d="M482,610.2 482,613.7 511.6,602.1 533.1,594.1 555.6,586.1 590.8,574.1 627.6,562 665.7,550 763,520.2 763,429.7 763,425.7 482,425.7Z"/>
<path fill="#0088ff" d="M482,606.1 482,608.9 509.8,598.1 531.6,590.1 554.3,582.1 589.8,570.1 627,558 665.5,546 763,516.4 763,429.7 763,425.7 482,425.7Z"/>
<path fill="#008cff" d="M482,602.1 482,604.2 508.3,594.1 541.7,582.1 577.1,570.1 614.1,558 678.8,538 763,512.7 763,429.7 763,425.7 482,425.7Z"/>
<path fill="#008fff" d="M482,598.1 482,599.6 507.1,590.1 540.9,578.1 564.6,570.1 601.5,558 666.1,538 763,509 763,429.7 763,425.7 482,425.7Z"/>
<path fill="#0093ff" d="M482,594.1 482,595.1 506.3,586.1 540.5,574.1 564.4,566 601.7,554 667,534 763,505.5 763,429.7 763,425.7 482,425.7Z"/>
<path fill="#0097ff" d="M482,590.1 482,590.8 505.8,582.1 540.4,570.1 564.5,562 602.2,550 668.1,530 763,502 763,429.7 763,425.7 482,425.7Z"/>
<path fill="#009aff" d="M482,586.1 482,586.6 505.5,578.1 540.5,566 565,558 590.2,550 616.1,542 656.1,530 763,498.6 763,429.7 763,425.7 482,425.7Z"/>
<path fill="#009eff" d="M482,582.1 482,582.5 505.6,574.1 541,562 565.7,554 591.2,546 657.7,526 763,495.3 763,429.7 763,425.7 482,425.7Z"/>
<path fill="#00a1ff" d="M482,578.1 482,578.5 506.1,570 541.7,558 592.5,542 659.6,521.9 763,492.1 763,429.7 763,425.7 482,425.7Z"/>
<path fill="#00a5ff" d="M482,574.1 482,574.6 506.5,566 530.4,558 555.3,550 594,538 661.8,517.9 763,488.9 763,429.7 763,425.7 482,425.7Z"/>
<path fill="#00a8ff" d="M482,570.1 482,570.8 507.4,562 531.6,554 556.7,546 595.9,534 650.4,517.9 763,485.8 763,429.7 763,425.7 482,425.7Z"/>
<path fill="#00acff" d="M482,566 482,567.1 508.5,558 533,550 558.4,542 598,530 653,513.9 763,482.7 763,429.7 763,425.7 482,425.7Z"/>
<path fill="#00afff" d="M482,562 482,563.4 509.8,554 547.4,542 573.5,534 614.1,521.9 670.1,505.9 763,479.7 763,429.7 763,425.7 482,425.7Z"/>
<path fill="#00b3ff" d="M482,558 482,559.9 511.4,550 536.5,542 589.3,526 644.9,509.9 763,476.8 763,429.7 763,425.7 482,425.7Z"/>
<path fill="#00b6ff" d="M482,554 482,556.3 513.3,546 538.7,538 592.1,521.9 648.1,505.9 763,473.9 763,429.7 763,425.7 482,425.7Z"/>
<path fill="#00baff" d="M482,550 482,552.9 502.8,546 528.1,538 554.2,530 581.3,521.9 637.3,505.9 763,471 763,429.7 763,425.7 482,425.7Z"/>
<path fill="#00beff" d="M482,546 482,549.5 505,542 530.5,534 584.3,517.9 640.9,501.9 763,468.2 763,429.7 763,425.7 482,425.7Z"/>
<path fill="#00c1ff" d="M482,546 482,546.2 507.4,538 533.2,530 587.7,513.9 644.8,497.9 763,465.5 763,429.7 763,425.7 482,425.7Z"/>
<path fill="#00c5ff" d="M482,542 482,542.9 510,534 536.2,526 563.3,517.9 605.4,505.9 648.9,493.9 763,462.8 763,429.7 763,425.7 482,425.7Z"/>
<path fill="#00c8ff" d="M482,538 482,539.7 525.9,526 552.9,517.9 580.8,509.9 638.5,493.9 763,460.1 763,429.7 763,425.7 482,425.7Z"/>
<path fill="#00ccff" d="M482,534 482,536.5 502.8,530 529.1,521.9 584.6,505.9 642.9,489.9 763,457.5 763,429.7 763,425.7 482,425.7Z"/>
<path fill="#00cfff" d="M482,530 482,533.4 505.8,526 532.5,517.9 588.7,501.9 632.6,489.9 763,454.9 763,429.7 763,425.7 482,425.7Z"/>
<path fill="#00d3ff" d="M482,530 482,530.3 509.1,521.9 536.2,513.9 593,497.9 637.3,485.9 763,452.3 763,429.7 763,425.7 482,425.7Z"/>
<path fill="#00d6ff" d="M482,526 482,527.3 526.2,513.9 582.8,497.9 627.2,485.9 763,449.8 763,429.7 763,425.7 482,425.7Z"/>
<path fill="#00daff" d="M482,521.9 482,524.3 502.9,517.9 530.1,509.9 587.4,493.9 632.2,481.8 763,447.3 763,429.7 763,425.7 482,425.7Z"/>
<path fill="#00deff" d="M482,517.9 482,521.3 522.1,509.4 577.4,493.9 622.2,481.8 763,444.9 763,429.7 763,425.7 482,425.7Z"/>
<path fill="#00e1ff" d="M482,517.9 482,518.4 524.4,505.9 582.2,489.9 627.5,477.8 763,442.4 763,429.7 763,425.7 482,425.7Z"/>
<path fill="#00e5ff" d="M482,513.9 482,515.6 528.7,501.9 572.3,489.9 617.6,477.8 763,440 763,429.7 763,425.7 482,425.7Z"/>
<path fill="#00e8ff" d="M482,509.9 482,512.7 526.2,499.9 577.4,485.9 623.2,473.8 763,437.7 763,429.7 763,425.7 482,425.7Z"/>
<path fill="#00ecff" d="M482,505.9 482,509.9 523.6,497.9 582.7,481.8 763,435.3 763,429.7 763,425.7 482,425.7Z"/>
<path fill="#00efff" d="M482,505.9 482,507.1 528.4,493.9 573,481.8 619.2,469.8 763,433 763,429.7 763,425.7 482,425.7Z"/>
<path fill="#00f3ff" d="M482,501.9 482,504.4 530.2,490.7 578.5,477.8 763,430.7 763,429.7 763,425.7 482,425.7Z"/>
<path fill="#00f6ff" d="M482,497.9 482,501.6 523.8,489.9 568.8,477.8 615.6,465.8 718.8,439.8 763,428.5 763,425.7 482,425.7Z"/>
<path fill="#00faff" d="M482,497.9 482,498.9 528.9,485.8 574.6,473.8 763,426.2 763,425.7 482,425.7Z"/>
<path fill="#00ffff" d="M482,493.9 482,496.3 519.4,485.9 564.9,473.8 612.3,461.8 714.8,436.2 756.4,425.7 482,425.7Z"/>
<path fill="#00fffa" d="M482,489.9 482,491.2 515.9,481.8 562,469.8 609.8,457.8 739.7,425.7 482,425.7Z"/>
<path fill="#00fff6" d="M482,485.9 482,488.6 521.5,477.8 568.2,465.8 730.9,425.7 482,425.7Z"/>
<path fill="#00fff3" d="M482,485.9 527.3,473.8 574.6,461.8 722.2,425.7 482,425.7Z"/>
<path fill="#00ffef" d="M482,481.8 482,483.4 517.8,473.8 565,461.8 713.4,425.7 482,425.7Z"/>
<path fill="#00ffeb" d="M482,477.8 482,480.9 518.1,471.3 555.5,461.8 604.6,449.8 704.5,425.7 482,425.7Z"/>
<path fill="#00ffe8" d="M482,477.8 482,478.3 514.3,469.8 562.1,457.8 695.7,425.7 482,425.7Z"/>
<path fill="#00ffe4" d="M482,473.8 482,475.8 518.1,466.4 552.6,457.8 602.3,445.8 686.7,425.7 482,425.7Z"/>
<path fill="#00ffe1" d="M482,469.8 482,473.3 518.1,464 559.4,453.8 677.7,425.7 482,425.7Z"/>
<path fill="#00ffdd" d="M482,469.8 482,470.9 517.3,461.8 549.9,453.8 600.2,441.7 668.7,425.7 482,425.7Z"/>
<path fill="#00ffda" d="M482,465.8 482,468.4 518.1,459.2 556.9,449.8 659.6,425.7 482,425.7Z"/>
<path fill="#00ffd6" d="M482,465.8 482,466 514.3,457.8 550.2,449.1 650.4,425.7 482,425.7Z"/>
<path fill="#00ffd3" d="M482,461.8 482,463.5 510.1,456.5 546.2,447.7 641.2,425.7 482,425.7Z"/>
<path fill="#00ffcf" d="M482,457.8 482,461.1 511.5,453.8 544.9,445.8 631.9,425.7 482,425.7Z"/>
<path fill="#00ffcc" d="M482,457.8 482,458.7 535.2,445.8 622.5,425.7 482,425.7Z"/>
<path fill="#00ffc8" d="M482,453.8 482,456.3 508.7,449.8 542.6,441.7 613.1,425.7 482,425.7Z"/>
<path fill="#00ffc4" d="M482,453.8 482,453.9 538.2,440.5 603.6,425.7 482,425.7Z"/>
<path fill="#00ffc1" d="M482,449.8 482,451.5 530.2,440.1 594,425.7 482,425.7Z"/>
<path fill="#00ffbd" d="M482,445.8 482,449.1 530.6,437.7 584.3,425.7 482,425.7Z"/>
<path fill="#00ffba" d="M482,445.8 482,446.8 520.7,437.7 574.5,425.7 482,425.7Z"/>
<path fill="#00ffb6" d="M482,441.7 482,444.4 518.1,436.1 564.7,425.7 482,425.7Z"/>
<path fill="#00ffb3" d="M482,441.7 482,442.1 518.4,433.7 554.7,425.7 482,425.7Z"/>
<path fill="#00ffaf" d="M482,437.7 482,439.7 544.7,425.7 482,425.7Z"/>
<path fill="#00ffac" d="M482,433.7 482,437.4 534.5,425.7 482,425.7Z"/>
<path fill="#00ffa8" d="M482,433.7 482,435 524.2,425.7 482,425.7Z"/>
<path fill="#00ffa5" d="M482,429.7 482,432.7 513.9,425.7 482,425.7Z"/>
<path fill="#00ffa1" d="M482,429.7 482,430.4 503.4,425.7 482,425.7Z"/>
<path fill="#00ff9d" d="M482,425.7 482,428 492.7,425.7Z"/>
<path d="M482,621.9 494,616.9 507.2,611.7 520.7,606.4 534.7,601.1 549,595.9 563.7,590.6 594.1,580.1 625.7,569.6 663.9,557.3 703.1,545 763,526.5M482,530.4 502.8,523.9 526.2,516.9 550.3,509.9 581.5,501.1 632.9,487.1 763,452.4M482,466.9 513.1,459 549,450.3 593.6,439.7 654.1,425.7" fill="none" stroke="#0a0a0a" stroke-width="0.62" stroke-linejoin="round"/>
<rect x="482" y="425.7" width="281" height="280.7" fill="none" stroke="#4a4a4a" stroke-width="1"/>
<path d="M482,706.4v6.8M552.2,706.4v6.8M622.5,706.4v6.8M692.8,706.4v6.8M763,706.4v6.8M482,706.4h-6.8M482,650.3h-6.8M482,594.1h-6.8M482,538h-6.8M482,481.8h-6.8M482,425.7h-6.8" fill="none" stroke="#444" stroke-width="1"/>
<text transform="translate(482 728) scale(0.985 1)" font-size="11.4" text-anchor="middle">2</text>
<text transform="translate(552.2 728) scale(0.985 1)" font-size="11.4" text-anchor="middle">4</text>
<text transform="translate(622.5 728) scale(0.985 1)" font-size="11.4" text-anchor="middle">6</text>
<text transform="translate(692.8 728) scale(0.985 1)" font-size="11.4" text-anchor="middle">8</text>
<text transform="translate(763 728) scale(0.985 1)" font-size="11.4" text-anchor="middle">10</text>
<text transform="translate(472.5 703.7) scale(0.945 1)" font-size="11.4" text-anchor="end">0.25</text>
<text transform="translate(472.5 647.6) scale(0.945 1)" font-size="11.4" text-anchor="end">0.5</text>
<text transform="translate(472.5 591.4) scale(0.945 1)" font-size="11.4" text-anchor="end">0.75</text>
<text transform="translate(472.5 535.3) scale(0.985 1)" font-size="11.4" text-anchor="end">1</text>
<text transform="translate(472.5 479.1) scale(0.945 1)" font-size="11.4" text-anchor="end">1.25</text>
<text transform="translate(472.5 423) scale(0.945 1)" font-size="11.4" text-anchor="end">1.5</text>
<rect x="561.4" y="438.7" width="10.5" height="8.2" fill="#fff" stroke="#333" stroke-width="0.7"/>
<text x="566.6" y="445.2" font-size="6.5" text-anchor="middle">40</text>
<rect x="616.9" y="482.9" width="10.5" height="8.2" fill="#fff" stroke="#333" stroke-width="0.7"/>
<text x="622.1" y="489.4" font-size="6.5" text-anchor="middle">30</text>
<rect x="616.9" y="564.1" width="10.5" height="8.2" fill="#fff" stroke="#333" stroke-width="0.7"/>
<text x="622.1" y="570.6" font-size="6.5" text-anchor="middle">20</text>
<text x="622.5" y="420.5" font-size="11.3" text-anchor="middle">Power (mW)</text>
<text x="622.5" y="750.4" font-size="14.2" text-anchor="middle">B: Ar</text>
<text x="446" y="566" font-size="14.0" text-anchor="middle" transform="rotate(-90 446 566)">C: Lr</text>
</g>
<g>
<path fill="#0000ff" d="M488.9,1110 758.6,1110 758.6,841.2 488.9,841.2Z"/>
<path fill="#0005ff" d="M488.9,1110 758.6,1110 758.6,841.2 750.9,841.2 536.2,841.2 531.3,844.9 527.4,847.3 523.6,849.2 519.7,850.7 515.9,851.9 512,852.6 508.2,853 504.3,853.1 500.5,852.8 496.6,852.2 492.8,851.4 488.9,850.2Z"/>
<path fill="#0009ff" d="M488.9,1110 758.6,1110 758.6,841.2 750.9,841.2 544.7,841.2 539,846.8 535.1,849.9 531.3,852.5 527.4,854.7 523.6,856.5 519.7,857.9 515.9,858.8 512,859.4 508.2,859.6 504.3,859.4 500.5,859 496.6,858.2 492.8,857.1 488.9,855.7Z"/>
<path fill="#000cff" d="M488.9,1110 758.6,1110 758.6,841.2 750.9,841.2 551.7,841.2 546.7,847.2 542.8,851.1 539,854.6 535.1,857.6 531.3,860.1 527.4,862.1 523.6,863.7 519.7,864.9 515.9,865.7 512,866.1 508.2,866.1 504.3,865.7 500.5,865 496.6,864 492.8,862.7 488.9,861.1Z"/>
<path fill="#0010ff" d="M488.9,1110 758.6,1110 758.6,841.2 747,841.2 557.7,841.2 554.4,845.9 550.5,850.8 546.7,855.2 541.3,860.4 539,862.4 535.1,865.3 531.3,867.6 527.4,869.5 523.6,870.9 519.7,871.9 515.9,872.5 512,872.7 508.2,872.5 504.3,871.9 500.5,871 496.6,869.8 492.8,868.3 488.9,866.5Z"/>
<path fill="#0013ff" d="M488.9,1110 758.6,1110 758.6,841.2 747,841.2 563,841.2 558.3,848.7 554.4,854.2 550.5,859 546.7,863.3 542.8,867 539,870.2 536.5,871.9 531.3,875.1 527.4,876.8 523.6,878.1 519.7,878.9 515.9,879.3 512,879.3 508.2,878.9 504.3,878.1 500.5,876.9 496.6,875.5 492.8,873.7 488.9,871.7Z"/>
<path fill="#0017ff" d="M488.9,1110 758.6,1110 758.6,841.2 747,841.2 567.8,841.2 562.1,851.2 558.3,857.1 554.4,862.4 550.5,867.1 546.7,871.3 541.8,875.8 539,878 535.1,880.5 531.3,882.6 527.4,884.2 523.6,885.2 519.7,885.9 515.9,886.1 512,885.9 508.2,885.2 504.3,884.2 500.5,882.9 496.6,881.2 492.8,879.2 488.9,876.9Z"/>
<path fill="#001aff" d="M488.9,1110 758.6,1110 758.6,841.2 743.2,841.2 572.1,841.2 569.8,846 566,853.1 562.1,859.6 556.3,868.1 550.5,875.3 546.7,879.3 542.1,883.4 539,885.8 535.1,888.2 531.3,890.1 527.4,891.5 523.6,892.5 519.7,892.9 515.9,892.9 512,892.5 508.2,891.6 504.3,890.4 500.5,888.8 496.6,886.9 492.8,884.7 488.9,882.2Z"/>
<path fill="#001eff" d="M488.9,1110 758.6,1110 758.6,841.2 743.2,841.2 576.2,841.2 573.7,846.8 569.8,854.6 566,861.7 562.1,868.1 556.8,875.8 554.4,879 550.5,883.5 546.7,887.5 542.5,891.1 539,893.7 535.1,896 531.3,897.8 527.4,899 523.6,899.7 519.7,900 515.9,899.8 512,899.1 508.2,898.1 504.3,896.6 500.5,894.8 496.6,892.6 488.9,887.4Z"/>
<path fill="#0022ff" d="M488.9,1110 758.6,1110 758.6,841.2 739.3,841.2 580,841.2 577.5,847.1 573.7,855.6 569.8,863.3 566,870.3 560.1,879.6 554.4,887.4 550.5,891.8 546.7,895.7 542.8,899 539,901.7 535.1,903.9 531.3,905.5 527.4,906.5 523.6,907.1 519.7,907.1 515.9,906.7 512,905.9 508.2,904.6 504.3,902.9 500.5,900.8 496.6,898.4 488.9,892.6Z"/>
<path fill="#0025ff" d="M488.9,1110 758.6,1110 758.6,841.2 735.5,841.2 583.5,841.2 577.5,856 573.7,864.4 567.7,875.8 562.1,885.2 558.3,890.9 555.1,895 550.5,900.3 546.7,904 543.7,906.5 539,909.8 535.1,911.8 531.3,913.3 527.4,914.2 523.6,914.5 519.7,914.4 515.9,913.8 512,912.7 508.2,911.1 504.3,909.2 500.5,906.9 496.6,904.2 488.9,897.9Z"/>
<path fill="#0029ff" d="M488.9,1110 758.6,1110 758.6,841.2 735.5,841.2 586.9,841.2 581.4,855.9 577.5,864.9 573.7,873.2 568.4,883.4 566,887.7 562.1,894 558.3,899.6 555.9,902.6 550.5,908.8 546.7,912.5 544.6,914.2 542.8,915.6 539,918 535.1,919.9 531.3,921.2 527.4,921.9 523.6,922.1 519.7,921.8 515.9,920.9 512,919.6 508.2,917.8 504.3,915.6 500.5,913 496.6,910 488.9,903.2Z"/>
<path fill="#002cff" d="M488.9,1110 758.6,1110 758.6,841.2 731.6,841.2 590.1,841.2 585.2,855 581.4,864.9 577.5,873.9 573.7,882.2 571.1,887.3 566,896.7 562.1,902.9 559.6,906.5 554.4,913.3 550.1,918 546.7,921.1 542.8,924.1 539,926.4 535.1,928.1 531.3,929.2 527.4,929.8 523.6,929.8 519.7,929.2 515.9,928.2 512,926.6 508.2,924.6 504.3,922.1 500.5,919.3 496.6,916 488.9,908.6Z"/>
<path fill="#0030ff" d="M488.9,1110 758.6,1110 758.6,841.2 727.8,841.2 593.1,841.2 588,856.6 585.2,864.2 581.4,874 575.6,887.3 569.8,898.9 566,905.8 562.1,911.9 557.8,918 554.4,922.2 550.5,926.4 546.7,929.9 542.8,932.7 539,934.9 535.1,936.4 531.3,937.4 527.4,937.8 523.6,937.6 519.7,936.8 515.9,935.5 512,933.8 508.2,931.5 504.3,928.8 500.5,925.6 496.6,922.1 488.9,914Z"/>
<path fill="#0033ff" d="M488.9,1110 758.6,1110 758.6,841.2 727.8,841.2 596,841.2 591.2,856.6 585.2,873.5 579.7,887.3 573.7,900.6 569.8,908.2 566,915 561.6,921.8 558.3,926.6 554.4,931.3 550.5,935.4 546.7,938.7 542.8,941.4 539,943.5 535.1,944.9 531.3,945.7 527.4,945.9 523.6,945.5 519.7,944.5 515.9,943 512,941 508.2,938.5 504.3,935.5 500.5,932.1 496.6,928.3 488.9,919.6Z"/>
<path fill="#0037ff" d="M488.9,1110 758.6,1110 758.6,841.2 723.9,841.2 598.7,841.2 596.8,848.2 592.9,860.8 589.1,872.3 585.2,882.9 581.4,892.7 577.5,901.7 573.7,910 569.8,917.6 566,924.4 562.1,930.5 558.3,935.9 554.4,940.5 550.5,944.5 546.7,947.7 542.8,950.3 539,952.2 535.1,953.4 531.3,954 527.4,954.1 523.6,953.5 519.7,952.3 515.9,950.6 512,948.4 508.2,945.6 504.3,942.4 500.5,938.7 496.6,934.5 488.9,925.2Z"/>
<path fill="#003aff" d="M488.9,1110 758.6,1110 758.6,841.2 723.9,841.2 601.4,841.2 596.8,858 592.9,870.4 589.1,881.9 585.2,892.5 581.4,902.3 577.5,911.3 573.7,919.7 569.8,927.2 566,934 562.1,940 558.3,945.3 554.4,949.8 550.5,953.6 546.7,956.7 542.8,959.1 539,960.9 535.1,962 531.3,962.4 527.4,962.3 523.6,961.5 519.7,960.2 515.9,958.3 512,955.9 508.2,952.9 504.3,949.4 500.5,945.4 496.6,941 488.9,931Z"/>
<path fill="#003eff" d="M488.9,1110 758.6,1110 758.6,841.2 720.1,841.2 604,841.2 600.6,854.2 596.8,867.7 592.9,880.1 589.1,891.5 585.2,902.2 581.4,912.1 577.5,921.2 573.7,929.5 569.8,937 566,943.7 562.1,949.6 558.3,954.8 554.4,959.2 550.5,962.9 546.7,965.8 542.8,968 539,969.6 535.1,970.6 531.3,970.9 527.4,970.6 523.6,969.6 519.7,968.1 515.9,966.1 512,963.4 508.2,960.2 504.3,956.5 500.5,952.2 496.6,947.5 488.9,936.9Z"/>
<path fill="#0041ff" d="M488.9,1110 758.6,1110 758.6,841.2 720.1,841.2 606.4,841.2 604.5,849.5 600.6,864.2 596.8,877.5 592.9,889.9 589.1,901.4 582.9,918 577.5,931.1 573.7,939.4 569.8,946.9 566,953.5 562.1,959.3 558.3,964.3 554.4,968.6 550.5,972 546.7,974.8 542.8,976.9 539,978.3 535.1,979.1 531.3,979.3 527.4,978.8 523.6,977.7 519.7,976.1 515.9,973.8 512,971 508.2,967.6 504.3,963.7 500.5,959.2 496.6,954.2 488.9,943Z"/>
<path fill="#0045ff" d="M488.9,1110 758.6,1110 758.6,841.2 716.2,841.2 608.8,841.2 604.5,859.7 600.6,874.2 596.8,887.5 592.9,899.9 589.1,911.5 585.2,922.2 581.4,932.2 577.5,941.3 573.7,949.5 569.8,956.8 566,963.3 562.1,969 558.3,973.8 554.4,977.9 552.6,979.4 550.5,981.2 546.7,983.8 542.8,985.7 538.1,987.1 535.1,987.6 531.3,987.6 527.4,987 523.6,985.8 519.7,984 515.9,981.6 512,978.7 508.2,975.1 504.3,971 500.5,966.3 496.6,961 488.9,949.1Z"/>
<path fill="#0048ff" d="M488.9,1110 758.6,1110 758.6,841.2 712.4,841.2 611.2,841.2 608.3,854.2 604.5,869.9 600.6,884.3 596.8,897.7 592.9,910.1 589.1,921.8 585.2,932.6 580.3,944.9 577.5,951.5 573.7,959.6 569.8,966.8 566,973.1 564.2,975.6 562.1,978.5 558.3,983.2 554.4,987 550.5,990.2 546.7,992.6 542.8,994.4 541.3,994.8 539,995.5 535.1,995.9 531.3,995.8 527.4,995.1 523.6,993.8 519.7,991.9 515.9,989.4 512,986.3 508.2,982.6 504.3,978.3 500.5,973.4 496.6,967.9 492.8,961.9 488.9,955.5Z"/>
<path fill="#004cff" d="M488.9,1110 758.6,1110 758.6,841.2 712.4,841.2 613.4,841.2 608.3,864.7 604.5,880.2 599.4,898.8 592.9,920.5 589.1,932.2 585.2,943 581.4,952.9 577.5,961.7 573.7,969.7 569.8,976.7 566,982.8 562.1,988 558.3,992.4 554.4,996.1 550.5,999 546.7,1001.3 542.8,1002.9 539,1003.8 535.1,1004.2 531.3,1003.9 527.4,1003.1 523.6,1001.7 519.7,999.7 515.9,997.1 512,993.9 508.2,990.1 504.3,985.7 500.5,980.6 496.6,975 492.8,968.7 488.9,962Z"/>
<path fill="#004fff" d="M488.9,1110 758.6,1110 758.6,841.2 712.4,841.2 615.6,841.2 612.2,858.3 608.3,875.2 604.5,890.6 600.6,905 596.8,918.5 592.9,931.1 589.1,942.8 585.2,953.6 581.4,963.3 577.5,972 573.7,979.7 569.8,986.4 566,992.3 560.9,998.6 558.3,1001.5 554.4,1004.9 550.5,1007.7 546.7,1009.7 542.8,1011.2 539,1012 535.1,1012.2 531.3,1011.8 527.4,1010.9 523.6,1009.4 519.7,1007.3 515.9,1004.7 512,1001.4 508.2,997.5 504.3,993 500.5,987.9 496.6,982 492.8,975.6 488.9,968.6Z"/>
<path fill="#0053ff" d="M488.9,1110 758.6,1110 758.6,841.2 708.5,841.2 617.7,841.2 615.6,852.7 612.2,869.1 608.3,885.8 604.5,901.2 600.6,915.7 594.4,937.2 589.1,953.5 585.2,964.1 581.4,973.6 577.5,982.1 573.7,989.6 569.8,996 566,1001.6 562.1,1006.4 558.3,1010.3 554.4,1013.6 550.5,1016.1 546.7,1018 542.8,1019.3 539,1019.9 535.1,1020 531.3,1019.6 527.4,1018.6 523.6,1017 519.7,1014.9 515.9,1012.1 512,1008.8 508.2,1004.9 504.3,1000.3 500.5,995.1 496.6,989.2 492.8,982.6 488.9,975.3Z"/>
<path fill="#0056ff" d="M488.9,1110 758.6,1110 758.6,841.2 708.5,841.2 619.8,841.2 616.3,860.4 613.1,875.8 608.3,896.5 604.5,912 600.6,926.6 596.8,940.2 592.9,952.8 589.1,964.3 585.2,974.6 581.4,983.9 577.5,992.1 573.7,999.2 569.8,1005.4 566,1010.8 562.1,1015.2 559.4,1017.8 554.4,1022 550.5,1024.3 546.7,1026.1 542.8,1027.2 539,1027.7 535.1,1027.7 531.3,1027.2 527.4,1026.1 523.6,1024.4 519.7,1022.2 515.9,1019.5 512,1016.1 508.2,1012.2 504.3,1007.6 500.5,1002.3 496.6,996.3 492.8,989.6 488.9,982.2Z"/>
<path fill="#005aff" d="M488.9,1110 758.6,1110 758.6,841.2 708.5,841.2 621.9,841.2 619.9,853 616,872.9 612.2,890.8 608.3,907.4 603.8,925.7 597.5,948.7 592.9,963.7 589.1,974.9 585.2,985 581.4,994 577.5,1001.8 573.7,1008.7 569.8,1014.6 566,1019.6 564.1,1021.7 562.1,1023.9 558.3,1027.4 554.4,1030.2 550.5,1032.4 546.7,1033.9 542.8,1034.9 539,1035.3 535.1,1035.2 531.3,1034.5 527.4,1033.4 523.6,1031.7 519.7,1029.4 515.9,1026.7 512,1023.3 508.2,1019.3 504.3,1014.7 500.5,1009.5 496.6,1003.4 492.8,996.6 488.9,989.1Z"/>
<path fill="#005eff" d="M488.9,1110 758.6,1110 758.6,841.2 708.5,841.2 623.9,841.2 620.7,860.4 617.7,875.8 612.2,901.8 608.3,918.5 604.5,934.2 600.6,948.8 596.8,962.3 592.9,974.5 589.1,985.5 585.2,995.3 581.4,1003.9 577.5,1011.4 573.7,1017.9 569.8,1023.5 568.2,1025.5 566,1028.3 562.1,1032.3 558.3,1035.6 554.4,1038.2 550.5,1040.2 546.7,1041.6 542.8,1042.5 539,1042.8 535.1,1042.5 531.3,1041.8 527.4,1040.5 523.6,1038.8 519.7,1036.5 515.9,1033.7 512,1030.3 508.2,1026.4 504.3,1021.8 500.5,1016.5 496.6,1010.5 492.8,1003.7 488.9,996.1Z"/>
<path fill="#0061ff" d="M488.9,1110 758.6,1110 758.6,841.2 708.5,841.2 625.8,841.2 623.8,854.7 619.9,876.1 616,895.2 612.2,913 607.5,933.4 601.6,956.4 596.8,973.3 592.9,985.2 589.1,995.8 585.2,1005.2 581.4,1013.5 577.5,1020.7 573.7,1026.9 569,1033.2 566,1036.8 562.1,1040.6 558.3,1043.7 554.4,1046.1 550.5,1047.9 546.7,1049.2 542.8,1049.9 539,1050.1 535.1,1049.7 531.3,1048.9 527.4,1047.5 523.6,1045.7 519.7,1043.4 515.9,1040.6 512,1037.2 508.2,1033.3 504.3,1028.7 500.5,1023.5 496.6,1017.5 492.8,1010.7 488.9,1003.1Z"/>
<path fill="#0065ff" d="M488.9,1110 758.6,1110 758.6,841.2 704.7,841.2 627.7,841.2 624.8,860.4 622.1,875.8 617.6,898.8 612.8,921.8 608.3,941.2 604.5,956.9 600.6,971.2 596.8,984.2 592.9,995.7 589.1,1006 585.2,1015 581.4,1022.9 577.5,1029.8 572.7,1037 569.8,1040.8 566.3,1044.7 562.1,1048.7 558.3,1051.6 554.4,1053.9 550.5,1055.5 548.1,1056.2 546.7,1056.6 542.8,1057.2 539,1057.2 535.1,1056.8 531.3,1055.8 527.4,1054.4 523.6,1052.6 519.7,1050.2 515.9,1047.3 512,1044 508.2,1040.1 504.3,1035.5 500.5,1030.3 496.6,1024.4 492.8,1017.7 488.9,1010.1Z"/>
<path fill="#0068ff" d="M488.9,1110 758.6,1110 758.6,841.2 704.7,841.2 629.6,841.2 627.6,855.6 625.6,868.1 619.9,899.1 612.2,936 608.3,952.8 604.6,967.9 599.2,987.1 596.8,994.9 592.9,1006 588.2,1017.8 585.2,1024.5 581.4,1032.1 576,1040.9 573.7,1044.4 569.8,1049.2 566,1053.3 562.1,1056.7 558.3,1059.4 554.4,1061.5 550.5,1063 546.7,1064 542.8,1064.4 539,1064.3 535.1,1063.8 531.3,1062.7 527.4,1061.2 523.6,1059.3 519.7,1056.9 515.9,1054 512,1050.6 508.2,1046.7 504.3,1042.2 500.5,1037.1 496.6,1031.2 493.3,1025.5 488.9,1017Z"/>
<path fill="#006cff" d="M488.9,1110 758.6,1110 758.6,841.2 704.7,841.2 631.4,841.2 628.2,864.2 623.6,891.1 616,929.8 612.2,947.7 608.3,964.4 604.5,979.6 602.4,987.1 596.8,1005.3 592.9,1016.1 589.1,1025.5 585.2,1033.8 583.5,1037 581.4,1041.1 577.5,1047.4 573.7,1052.9 569.8,1057.5 567.3,1060.1 566,1061.5 562.1,1064.7 557.2,1067.8 554.4,1069.2 550.5,1070.5 546.7,1071.3 542.8,1071.6 539,1071.4 535.1,1070.7 531.3,1069.6 527.4,1068 523.6,1065.9 519.7,1063.5 515.9,1060.5 512,1057.1 508.2,1053.2 504.3,1048.8 500.5,1043.7 496.6,1038 493.8,1033.2 488.9,1023.9Z"/>
<path fill="#006fff" d="M488.9,1110 758.6,1110 758.6,841.2 708.5,841.2 633.2,841.2 631.5,855.5 629.6,868.1 627.6,880.4 623.8,902.2 616,941.6 612.2,959.5 609.3,971.8 604.4,991 600.6,1003.9 597.3,1014 593.1,1025.5 591.5,1029.4 589.1,1035 585.2,1043 579.9,1052.4 577.5,1056.1 573.7,1061.4 569.8,1065.9 567.9,1067.8 566,1069.6 562.1,1072.7 557.5,1075.4 554.4,1076.9 550.5,1078.1 546.7,1078.7 542.8,1078.9 539,1078.5 535.1,1077.7 531.3,1076.4 527.4,1074.7 523.6,1072.6 519.7,1070 515.9,1067 512,1063.6 508.2,1059.7 504.3,1055.3 500.5,1050.2 496.6,1044.6 492.8,1038.1 488.9,1030.8Z"/>
<path fill="#0073ff" d="M488.9,1110 758.6,1110 758.6,841.2 708.5,841.2 635,841.2 633.7,852.7 631.5,868.7 626.5,898.8 619.9,934.5 616,953.6 611.2,975.6 608.3,987.3 604.5,1001.6 599.5,1017.8 596.8,1025.6 592.9,1035.6 589.1,1044.3 585.2,1052.1 580.6,1060.1 577.5,1064.8 573.7,1069.9 568.6,1075.4 566,1077.9 562.1,1080.9 558.3,1083.1 554.4,1084.8 550.5,1085.8 546.7,1086.3 542.8,1086.3 539,1085.7 535.1,1084.7 531.3,1083.3 527.4,1081.5 523.6,1079.2 519.7,1076.6 515.9,1073.5 512,1070 508.2,1066.1 504.3,1061.7 500.5,1056.7 496.6,1051.1 492.8,1044.7 488.9,1037.5Z"/>
<path fill="#0076ff" d="M488.9,1110 758.6,1110 758.6,841.2 704.7,841.2 636.8,841.2 635.3,854.2 633.4,868.1 631.5,881.3 627.6,904.6 619.9,946.6 616,965.5 612.2,982.9 608.3,998.5 606.2,1006.3 600.6,1024.6 596.8,1035.4 592.9,1045.1 589.1,1053.6 585.2,1061.2 581.4,1067.8 576.2,1075.4 573.7,1078.7 569.8,1083 566,1086.5 562.1,1089.3 558.3,1091.5 554.4,1093 550.5,1093.9 546.7,1094.1 542.8,1093.9 539,1093.2 535.1,1092 531.3,1090.3 527.4,1088.3 523.6,1085.9 519.7,1083.1 515.9,1080 512,1076.4 508.2,1072.4 504.3,1068 500.5,1063 496.6,1057.5 493.5,1052.4 488.9,1044.2Z"/>
<path fill="#007aff" d="M488.9,1110 758.6,1110 758.6,841.2 700.8,841.2 638.5,841.2 636.3,860.4 633.6,879.6 629.3,906.5 624,937.2 619.9,958.7 616,977.4 612.2,994.3 608.3,1009.4 604.5,1022.8 600.6,1034.6 596.8,1045.2 592.9,1054.6 589.1,1062.9 585.2,1070.4 579.9,1079.3 577.5,1082.8 573.7,1087.9 569.8,1092.1 566,1095.7 562.1,1098.4 558.3,1100.5 554.4,1101.8 550.5,1102.5 546.7,1102.5 542.8,1102 539,1101 535.1,1099.5 531.3,1097.7 527.4,1095.4 523.6,1092.8 519.7,1089.8 515.9,1086.5 512,1082.9 508.2,1078.8 504.3,1074.3 500.5,1069.4 496.6,1063.9 492.8,1057.7 488.9,1050.8Z"/>
<path fill="#007dff" d="M488.9,1110 540.3,1110 535.1,1107.7 531.3,1105.4 527.4,1102.8 523.6,1099.9 515.9,1093.2 509.8,1087 504.3,1080.7 500.5,1075.7 496.6,1070.2 492.8,1064.1 488.9,1057.3ZM559.6,1110 758.6,1110 758.6,841.2 640.2,841.2 638.1,860.4 635,883.4 630.1,914.2 623.8,950.8 619.9,970.9 615.6,991 611,1010.2 608.3,1020.1 605.6,1029.4 600.6,1044.5 596.8,1054.9 591.3,1067.8 589.1,1072.5 585.2,1080 581.4,1086.7 577.5,1092.7 573.7,1097.9 569.8,1102.3 566,1105.9 562.1,1108.7Z"/>
<path fill="#0081ff" d="M488.9,1110 526.4,1110 519.7,1104 512,1096.1 508.2,1091.8 501.3,1083.1 496.6,1076.5 492.8,1070.5 488.9,1063.7ZM573.4,1110 758.6,1110 758.6,841.2 641.9,841.2 639.9,860.4 636.9,883.4 632.2,914.2 627.7,941 623.8,963.2 619.9,982.9 616,1000.7 612.2,1016.5 608.3,1030.6 604.5,1043.2 600.6,1054.5 596.8,1064.7 593.9,1071.6 589.1,1082.5 585.2,1090.3 581.4,1097.4 577.5,1103.9Z"/>
<path fill="#0084ff" d="M488.9,1110 518.1,1110 508.2,1098.5 504.3,1093.7 499.4,1087 492.8,1076.9 488.9,1070.2ZM581.6,1110 758.6,1110 758.6,841.2 643.5,841.2 641.7,860.4 639.3,879.6 635.3,907 631.5,931.3 627.6,954.2 623.8,975.5 619.9,994.8 616.5,1010.2 612.2,1027.3 608.3,1041 604.5,1053.3 600.6,1064.6 596.8,1074.9 592.9,1084.5 589.1,1093.5Z"/>
<path fill="#0088ff" d="M488.9,1110 511.5,1110 504.3,1100.5 496.6,1089.4 492.8,1083.3 488.9,1076.7ZM588,1110 758.6,1110 758.6,841.2 645.1,841.2 643.8,856.6 642.1,871.9 639.2,893.8 635.3,919.7 631.5,944 627.6,966.8 623.8,987.7 619.9,1006.3 614.4,1029.4 612.2,1038 608.3,1051.4 604.5,1063.7 600.6,1075.1Z"/>
<path fill="#008bff" d="M488.9,1110 505.9,1110 495.7,1094.6 488.9,1083.2ZM593.5,1110 758.6,1110 758.6,841.2 646.8,841.2 645.5,856.6 643.8,871.9 639.2,906.9 631.5,956.8 627.6,979.3 623.8,999.6 618.1,1025.5 612.2,1048.6 608.3,1062 598,1094.6Z"/>
<path fill="#008fff" d="M488.9,1110 500.8,1110 492.8,1096.7 488.9,1089.9ZM598.3,1110 758.6,1110 758.6,841.2 648.3,841.2 647.5,852.7 646.4,864.2 644.6,879.6 642.1,898.8 635.3,945.6 631.5,969.6 627.6,991.6 622.4,1017.8 619.9,1029 616,1044.9 612.2,1059.4 602.1,1094.6Z"/>
<path fill="#0092ff" d="M488.9,1110 496.2,1110 489.8,1098.5 488.9,1096.8ZM602.6,1110 758.6,1110 758.6,841.2 649.9,841.2 649.1,852.7 647.7,868.1 644,898.8 636.8,948.7 630.6,987.1 625.6,1014 620.6,1037 616,1055.9 605.9,1094.6Z"/>
<path fill="#0096ff" d="M488.9,1110 491.9,1110 488.9,1104.1ZM606.6,1110 758.6,1110 758.6,841.2 651.5,841.2 650.7,852.7 649.7,864.2 646.2,895 639.2,946.2 632.8,987.1 627.9,1014 623.8,1034.3 619.9,1051.3 610.3,1090.8 607.9,1102.3Z"/>
<path fill="#009aff" d="M610.4,1110 758.6,1110 758.6,841.2 653,841.2 652.3,852.7 651.4,864.2 648,895 642.9,933.4 639.2,959.4 635.3,984.5 631.5,1007.1 627.6,1027.4 623.8,1045.8 613.6,1090.8 611.5,1102.3Z"/>
<path fill="#009dff" d="M613.9,1110 758.6,1110 758.6,841.2 654.5,841.2 653.3,860.4 650.6,887.3 646.3,921.8 639.2,972.7 635.3,997.2 631.5,1019.2 627.6,1039.1 617.5,1087 615.4,1098.5Z"/>
<path fill="#00a1ff" d="M617.2,1110 758.6,1110 758.6,841.2 656,841.2 655.5,852.7 654.6,864.2 652.3,887.3 646.9,931 641.8,967.9 637.7,994.8 633.2,1021.7 627.6,1050.9 621.8,1079.3 619.7,1090.8 617.9,1102.3Z"/>
<path fill="#00a4ff" d="M620.3,1110 758.6,1110 758.6,841.2 657.5,841.2 656.5,860.4 654,887.3 650.3,918 643.7,967.9 639.2,998.7 635.3,1022 631.5,1043.2 625.2,1075.4 622.5,1090.8 621,1102.3Z"/>
<path fill="#00a8ff" d="M623.3,1110 758.6,1110 758.6,841.2 659,841.2 658,860.4 656,883.4 652.5,914.2 646.9,958.4 643,986.2 639.2,1011.5 635.3,1034.3 628.5,1071.6 625.9,1087 624.3,1098.5Z"/>
<path fill="#00abff" d="M626.1,1110 758.6,1110 758.6,841.2 660.5,841.2 659.6,860.4 658,879.6 654.7,910.3 650.7,942.4 646.9,972 642,1006.3 639.2,1024 630.3,1075.4 628.5,1087 627,1098.5Z"/>
<path fill="#00afff" d="M628.9,1110 758.6,1110 758.6,841.2 662,841.2 661.1,860.4 659.6,879.6 657.2,902.6 653.6,933.4 648.2,975.6 643.9,1006.3 639.2,1036.6 633.3,1071.6 631,1087 629.6,1098.5Z"/>
<path fill="#00b2ff" d="M631.6,1110 758.6,1110 758.6,841.2 663.4,841.2 662.9,856.6 661.5,875.8 658.8,902.6 655.3,933.4 650.7,970.3 646.9,999.1 643,1025.2 636.8,1063.9 633.9,1083.1 632.2,1098.5Z"/>
<path fill="#00b6ff" d="M634.1,1110 758.6,1110 758.6,841.2 664.9,841.2 664.4,856.6 663.1,875.8 661.2,895 658.4,920.7 653.7,960.2 648.8,998.6 646.1,1017.8 638.4,1067.8 636.3,1083.1 634.6,1098.5Z"/>
<path fill="#00b9ff" d="M636.6,1110 758.6,1110 758.6,841.2 666.3,841.2 665.9,856.6 664.9,871.9 663.2,891.1 660.8,914.2 654.6,967.5 650.7,997.8 646.9,1025.5 640.6,1067.8 638.5,1083.1 637,1098.5Z"/>
<path fill="#00bdff" d="M639,1110 758.6,1110 758.6,841.2 667.7,841.2 667.3,856.6 666.4,871.9 665.1,887.3 662.8,910.3 658.4,949.3 653.4,991 650.4,1014 643.8,1060.1 641.2,1079.3 639.6,1094.6 639.2,1102.3Z"/>
<path fill="#00c0ff" d="M641.3,1110 758.6,1110 758.6,841.2 669.1,841.2 668.9,852.7 668.2,868.1 666.7,887.3 664.8,906.5 658.8,960.2 654.6,995.6 650.7,1024.9 645.3,1063.9 643.3,1079.3 641.9,1094.6 641.4,1102.3Z"/>
<path fill="#00c4ff" d="M643.6,1110 758.6,1110 758.6,841.2 670.5,841.2 670.4,852.7 669.7,868.1 668.5,883.4 666.4,906.5 662.3,944.2 657.3,987.1 654.6,1009.5 647.8,1060.1 645.4,1079.3 644.1,1094.6 643.7,1102.3Z"/>
<path fill="#00c7ff" d="M645.8,1110 758.6,1110 758.6,841.2 671.9,841.2 671.8,852.7 671.1,868.1 670,883.4 668.6,898.8 664.6,937.2 658.4,992.3 647.9,1075.4 646.2,1094.6 645.8,1102.3Z"/>
<path fill="#00cbff" d="M647.9,1110 758.6,1110 758.6,841.2 673.3,841.2 673.2,852.7 672.6,868.1 671.5,883.4 670.2,898.8 666.1,938.2 661.1,983.3 649.9,1075.4 648.3,1094.6 647.9,1102.3Z"/>
<path fill="#00ceff" d="M650,1110 758.6,1110 758.6,841.2 674.7,841.2 674.6,852.7 674.1,868.1 673,883.4 671.7,898.8 668.2,933.4 662.3,987.9 653.5,1060.1 651.8,1075.4 650.3,1094.6 650,1102.3Z"/>
<path fill="#00d2ff" d="M652.1,1110 758.6,1110 758.6,841.2 676.1,841.2 676.1,852.7 675.7,864.2 674.8,879.6 673.5,895 670,931.1 665.3,975.6 661.8,1006.3 655.8,1056.2 653.8,1075.4 652.3,1094.6 652,1102.3Z"/>
<path fill="#00d6ff" d="M654.1,1110 758.6,1110 758.6,841.2 677.4,841.2 677.5,852.7 677.1,864.2 676.2,879.6 675,895 672.1,925.7 666.1,982.4 656,1071.6 655,1083.1 654.3,1094.6 654,1102.3Z"/>
<path fill="#00d9ff" d="M656,1110 758.6,1110 758.6,841.2 678.8,841.2 678.9,852.7 678.5,864.2 677.7,879.6 676.5,895 673.8,923.1 668.4,975.6 657.8,1071.6 656.4,1090.8 656,1102.3Z"/>
<path fill="#00ddff" d="M658,1110 758.6,1110 758.6,841.2 680.1,841.2 680.2,852.7 680,864.2 679.1,879.6 677.9,895 675.4,921.8 670,975.7 659.7,1071.6 658.7,1083.1 658.1,1094.6 657.9,1102.3Z"/>
<path fill="#00e0ff" d="M659.9,1110 758.6,1110 758.6,841.2 754.7,841.2 681.5,841.2 681.6,852.7 681.4,864.2 680.8,875.8 679.7,891.1 677.7,914 673.8,953 661.4,1071.6 660.1,1090.8 659.8,1102.3Z"/>
<path fill="#00e4ff" d="M661.7,1110 758.6,1110 758.6,841.2 682.8,841.2 683,852.7 682.8,864.2 682.2,875.8 681.2,891.1 678.8,918 673.8,968 663.5,1067.8 662.6,1079.3 661.9,1090.8 661.6,1102.3Z"/>
<path fill="#00e7ff" d="M663.6,1110 758.6,1110 758.6,841.2 684.2,841.2 684.4,852.7 684.2,864.2 683.6,875.8 682.6,891.1 680.9,910.3 677.7,944.2 665.3,1067.8 664.3,1079.3 663.7,1090.8 663.4,1102.3Z"/>
<path fill="#00ebff" d="M665.4,1110 758.6,1110 758.6,841.2 685.5,841.2 685.7,852.7 685.5,864.2 685,875.8 684,891.1 680.6,929.5 667,1067.8 666.1,1079.3 665.5,1090.8 665.2,1102.3Z"/>
<path fill="#00eeff" d="M667.1,1110 758.6,1110 758.6,841.2 686.8,841.2 687.1,852.7 686.9,864.2 686.4,875.8 685.4,891.1 681.5,934.6 668.6,1067.8 667.8,1079.3 667.2,1090.8 667,1102.3Z"/>
<path fill="#00f2ff" d="M668.9,1110 758.6,1110 758.6,841.2 688.2,841.2 688.4,848.9 688.4,860.4 688,871.9 687.1,887.3 684.2,921.8 670.6,1063.9 669.5,1079.3 668.9,1090.8 668.7,1102.3Z"/>
<path fill="#00f5ff" d="M670.6,1110 758.6,1110 758.6,841.2 689.5,841.2 689.7,848.9 689.7,860.4 689.4,871.9 688.5,887.3 685.4,924.1 672.2,1063.9 671.1,1079.3 670.6,1090.8 670.4,1102.3Z"/>
<path fill="#00f9ff" d="M672.3,1110 758.6,1110 758.6,841.2 690.8,841.2 691.1,848.9 691.1,860.4 690.7,871.9 689.9,887.3 687.4,918 673.9,1063.9 672.8,1079.3 672.2,1090.8 672.1,1102.3Z"/>
<path fill="#00fcff" d="M673.8,1106.2 674,1110 758.6,1110 758.6,845 758.6,841.2 692.1,841.2 692.4,848.9 692.4,860.4 692.1,871.9 691.3,887.3 689.1,914.2 675.4,1063.9 674,1087 673.8,1098.5Z"/>
<path fill="#00fffe" d="M675.6,1110 758.6,1110 758.6,841.2 693.4,841.2 693.7,848.9 693.8,860.4 693.5,871.9 692.6,887.3 690.5,914.2 679.3,1037 677,1063.9 676,1079.3 675.5,1090.8 675.4,1102.3Z"/>
<path fill="#00fffa" d="M677.7,1110 758.6,1110 758.6,841.2 695,841.2 695.4,848.9 695.5,860.4 695.2,871.9 694.4,887.3 692.6,910.3 681.2,1037 679,1063.9 678,1079.3 677.6,1090.8 677.5,1102.3Z"/>
<path fill="#00fff6" d="M679.3,1110 758.6,1110 758.6,841.2 696.3,841.2 696.7,848.9 696.8,860.4 696.5,871.9 695.7,887.3 693.6,914.2 683.4,1029.4 680.6,1063.9 679.6,1079.3 679.2,1090.8 679.1,1102.3Z"/>
<path fill="#00fff3" d="M680.8,1110 758.6,1110 758.6,841.2 697.6,841.2 698,848.9 698.1,860.4 697.9,871.9 697.1,887.3 695.3,910.3 687.5,998.6 682.4,1060.1 681.4,1075.4 680.8,1087 680.6,1098.5Z"/>
<path fill="#00ffef" d="M682.4,1110 758.6,1110 758.6,841.2 698.9,841.2 699.3,848.9 699.4,860.4 699.2,871.9 698.4,887.3 697,906.9 690.6,979.4 683.9,1060.1 682.9,1075.4 682.4,1087 682.2,1098.5Z"/>
<path fill="#00ffec" d="M683.9,1110 758.6,1110 758.6,841.2 700.2,841.2 700.6,848.9 700.8,860.4 700.5,871.9 700,883.4 698.3,906.5 691.3,987.1 685.4,1060.1 684.4,1075.4 683.9,1087 683.7,1098.5Z"/>
<path fill="#00ffe8" d="M685.4,1106.2 685.5,1110 758.6,1110 758.6,845 758.6,841.2 701.4,841.2 701.9,848.9 702,860.4 701.8,871.9 701.1,887.3 699.7,906.5 693.7,975.6 687.1,1056.2 685.6,1083.1 685.3,1094.6Z"/>
<path fill="#00ffe4" d="M687,1110 758.6,1110 758.6,841.2 702.7,841.2 703.1,848.9 703.3,860.4 703.1,871.9 702.6,883.4 701,906.5 694.4,983.3 688.3,1060.1 687.4,1075.4 686.9,1087 686.8,1098.5Z"/>
<path fill="#00ffe1" d="M688.5,1110 758.6,1110 758.6,841.2 703.9,841.2 704.4,848.9 704.6,860.4 704.4,871.9 703.9,883.4 702.3,906.5 695.8,983.3 690.1,1056.2 689.1,1071.6 688.4,1087 688.3,1098.5Z"/>
<path fill="#00ffdd" d="M690,1110 758.6,1110 758.6,841.2 705.2,841.2 705.7,848.9 705.9,860.4 705.7,871.9 705.2,883.4 703.9,902.6 697.7,975.6 691.5,1056.2 690.5,1071.6 689.9,1087 689.7,1098.5Z"/>
<path fill="#00ffda" d="M691.4,1110 758.6,1110 758.6,841.2 706.4,841.2 706.9,848.9 707.2,860.4 707,871.9 706.5,883.4 704.9,906.5 698.8,979.4 692.9,1056.2 692,1071.6 691.4,1087 691.2,1098.5Z"/>
<path fill="#00ffd6" d="M692.9,1110 758.6,1110 758.6,841.2 707.7,841.2 708.2,848.9 708.5,860.4 708.3,871.9 707.8,883.4 706.2,906.5 699.2,991 694.4,1056.2 693.4,1071.6 692.8,1087 692.7,1098.5Z"/>
<path fill="#00ffd3" d="M694.3,1110 758.6,1110 758.6,841.2 708.9,841.2 709.4,848.9 709.7,860.4 709.6,871.9 709.1,883.4 707.5,906.5 700.3,994.8 695.8,1056.2 694.9,1071.6 694.3,1087 694.1,1098.5Z"/>
<path fill="#00ffcf" d="M695.8,1110 758.6,1110 758.6,841.2 710.1,841.2 710.7,848.9 711,860.4 710.8,871.9 710.3,883.4 708.8,906.5 702.5,983.3 697.4,1052.4 696.3,1071.6 695.7,1087 695.5,1098.5Z"/>
<path fill="#00ffcc" d="M697.2,1110 758.6,1110 758.6,841.2 711.4,841.2 711.9,848.9 712.2,860.4 712.1,871.9 711.6,883.4 710,906.5 703.5,987.1 698.6,1056.2 697.7,1071.6 697.1,1087 697,1098.5Z"/>
<path fill="#00ffc8" d="M698.6,1110 758.6,1110 758.6,841.2 712.6,841.2 713.1,848.9 713.4,860.4 713.3,871.9 712.9,883.4 711.3,906.5 705.1,983.3 700,1056.2 699.1,1071.6 698.5,1087 698.4,1098.5Z"/>
<path fill="#00ffc5" d="M700,1110 758.6,1110 758.6,841.2 713.8,841.2 714.3,848.9 714.7,860.4 714.6,871.9 714.1,883.4 712.6,906.5 706.4,983.3 701.6,1052.4 700.5,1071.6 699.9,1087 699.8,1098.5Z"/>
<path fill="#00ffc1" d="M701.3,1110 758.6,1110 758.6,841.2 715,841.2 715.5,848.9 715.9,860.4 715.8,871.9 715.3,883.4 713.8,906.5 707.7,983.3 702.9,1052.4 701.9,1071.6 701.3,1087 701.2,1098.5Z"/>
<path fill="#00ffbe" d="M702.7,1110 758.6,1110 758.6,841.2 754.7,841.2 716.2,841.2 716.7,848.9 717.1,860.4 717,871.9 716.6,883.4 715,906.5 709.2,979.4 704.3,1052.4 703.3,1071.6 702.7,1087 702.5,1098.5Z"/>
<path fill="#00ffba" d="M704.1,1110 758.6,1110 758.6,841.2 717.3,841.2 717.9,848.9 718.3,860.4 718.2,871.9 717.8,883.4 716.3,906.5 710.5,979.4 705.9,1048.6 704.8,1067.8 704.2,1083.1 703.9,1098.5Z"/>
<path fill="#00ffb7" d="M705.4,1110 758.6,1110 758.6,841.2 718.5,841.2 719.1,848.9 719.5,860.4 719.4,871.9 719,883.4 717.5,906.5 711.8,979.4 707.2,1048.6 706.2,1067.8 705.5,1083.1 705.3,1098.5Z"/>
<path fill="#00ffb3" d="M706.8,1110 758.6,1110 758.6,841.2 754.7,841.2 719.7,841.2 720.3,848.9 720.7,860.4 720.6,871.9 720.2,883.4 719,902.6 713.3,975.6 708.6,1048.6 706.9,1083.1 706.6,1098.5Z"/>
<path fill="#00ffb0" d="M708.1,1110 758.6,1110 758.6,841.2 720.8,841.2 721.4,848.9 721.8,860.4 721.8,871.9 721.3,883.4 720.1,903.8 714.5,975.6 709.9,1048.6 708.2,1083.1 708,1098.5Z"/>
<path fill="#00ffac" d="M709.4,1110 758.6,1110 758.6,841.2 722,841.2 722.6,848.9 723,860.4 722.9,871.9 722.5,883.4 721.3,902.6 715.5,979.4 711.2,1048.6 709.6,1083.1 709.3,1098.5Z"/>
<path fill="#00ffa8" d="M710.7,1110 758.6,1110 758.6,841.2 754.7,841.2 723.1,841.2 723.8,848.9 724.2,860.4 724.1,871.9 723.7,883.4 722.5,902.6 717.3,971.8 713,1040.9 711.7,1063.9 710.9,1083.1 710.6,1098.5Z"/>
<path fill="#00ffa5" d="M712,1110 758.6,1110 758.6,841.2 724.3,841.2 724.9,848.9 725.3,860.4 725.2,871.9 724.8,883.4 723.7,902.6 718.2,975.6 714.3,1040.9 713,1063.9 712.2,1083.1 711.9,1098.5Z"/>
<path fill="#00ffa1" d="M713.3,1110 758.6,1110 758.6,841.2 725.4,841.2 726,848.9 726.4,860.4 726.4,871.9 726,883.4 724.8,902.6 719.4,975.6 715.5,1040.9 714.3,1063.9 713.5,1083.1 713.2,1098.5Z"/>
<path fill="#00ff9e" d="M714.6,1110 758.6,1110 758.6,841.2 726.5,841.2 727.1,848.9 727.6,860.4 727.5,871.9 727.1,883.4 726,902.6 720.9,971.8 717.3,1033.2 715,1079.3 714.6,1094.6Z"/>
<path fill="#00ff9a" d="M715.9,1110 758.6,1110 758.6,841.2 754.7,841.2 727.6,841.2 728.2,848.9 728.7,860.4 728.6,871.9 728.2,883.4 727.1,902.6 722.1,971.8 718.7,1029.4 716.3,1079.3 715.9,1094.6Z"/>
<path fill="#00ff97" d="M717.2,1110 758.6,1110 758.6,841.2 728.6,841.2 729.3,848.9 729.7,860.4 729.7,871.9 729.3,883.4 728,906.5 723.5,967.9 720.8,1014 717.7,1075.4 717.2,1094.6Z"/>
<path fill="#00ff93" d="M718.4,1110 758.6,1110 758.6,841.2 729.7,841.2 730.4,848.9 730.8,860.4 730.8,871.9 730.4,883.4 729.3,902.6 724.9,964.1 722.2,1010.2 719,1075.4 718.5,1094.6Z"/>
<path fill="#00ff90" d="M719.7,1110 758.6,1110 758.6,841.2 754.7,841.2 730.8,841.2 731.5,848.9 731.9,860.4 731.9,871.9 731.5,883.4 730.4,902.6 726,964.1 723.6,1006.3 720.3,1075.4 719.7,1094.6Z"/>
<path fill="#00ff8c" d="M721,1110 758.6,1110 758.6,841.2 731.8,841.2 732.5,848.9 733,860.4 733,871.9 732.6,883.4 731.5,902.6 727.2,964.1 725.2,998.6 721.6,1075.4 721,1094.6Z"/>
<path fill="#00ff89" d="M722.2,1110 758.6,1110 758.6,841.2 732.9,841.2 733.5,848.9 734,860.4 734,871.9 733.6,883.4 732.6,902.6 728.6,960.2 726.4,998.6 722.8,1075.4 722.3,1094.6Z"/>
<path fill="#00ff85" d="M723.4,1110 758.6,1110 758.6,841.2 733.9,841.2 734.6,848.9 735.1,860.4 735.1,868.1 734.9,879.6 733.6,902.6 729.5,964.1 727.6,998.6 724.1,1075.4 723.5,1094.6Z"/>
<path fill="#00ff82" d="M724.7,1110 758.6,1110 758.6,841.2 754.7,841.2 734.9,841.2 735.6,848.9 736.1,860.4 736.1,871.9 735.7,883.4 734.7,902.6 730.8,960.2 729.1,991 725.4,1075.4 724.8,1094.6Z"/>
<path fill="#00ff7e" d="M725.9,1110 758.6,1110 758.6,841.2 735.9,841.2 736.6,848.9 737.1,860.4 737.1,871.9 736.8,883.4 735.5,906.5 732.1,956.4 730.3,991 726.5,1079.3 726,1094.6Z"/>
<path fill="#00ff7b" d="M727.1,1110 758.6,1110 758.6,841.2 736.9,841.2 737.6,848.9 738.1,860.4 738.1,868.1 737.9,879.6 736.8,902.6 733,960.2 731.4,991 727.7,1079.3 727.3,1094.6Z"/>
<path fill="#00ff77" d="M728.3,1110 758.6,1110 758.6,841.2 737.9,841.2 738.6,848.9 739.1,860.4 739.1,868.1 738.9,879.6 738,898.8 734.5,952.6 732.7,987.1 729,1079.3 728.5,1094.6Z"/>
<path fill="#00ff74" d="M729.5,1110 758.6,1110 758.6,841.2 754.7,841.2 738.9,841.2 739.5,848.9 740,860.4 740.1,871.9 739.8,883.4 738.8,902.6 735.6,952.6 734,983.3 730.2,1079.3 729.7,1094.6Z"/>
<path fill="#00ff70" d="M730.7,1110 758.6,1110 758.6,841.2 739.8,841.2 740.5,848.9 741,860.4 741.1,868.1 740.8,879.6 740,898.8 736.8,948.7 735.1,983.3 731.3,1083.1Z"/>
<path fill="#00ff6c" d="M731.9,1110 758.6,1110 758.6,841.2 740.7,841.2 741.4,848.9 741.9,860.4 742,868.1 741.8,879.6 741,898.8 737.9,948.7 736.3,979.4 732.5,1083.1Z"/>
<path fill="#00ff69" d="M733.1,1110 758.6,1110 758.6,841.2 741.7,841.2 742.4,848.9 742.9,860.4 743,868.1 742.8,879.6 741.9,898.8 738.9,948.7 737.4,979.4 733.7,1083.1Z"/>
<path fill="#00ff65" d="M734.3,1110 758.6,1110 758.6,841.2 754.7,841.2 742.6,841.2 743.3,848.9 743.8,860.4 743.7,879.6 743.1,895 740.1,944.9 738.5,979.4 734.8,1087Z"/>
<path fill="#00ff62" d="M735.5,1110 758.6,1110 758.6,841.2 743.5,841.2 744.2,848.9 744.7,860.4 744.6,879.6 743.8,898.8 741.1,944.9 739.7,975.6 736,1087Z"/>
<path fill="#00ff5e" d="M736.6,1110 758.6,1110 758.6,841.2 744.4,841.2 745.1,848.9 745.6,860.4 745.5,879.6 744.7,898.8 741.9,948.7 740.7,975.6 737.1,1090.8Z"/>
<path fill="#00ff5b" d="M737.8,1110 758.6,1110 758.6,841.2 745.3,841.2 745.9,848.9 746.5,860.4 746.4,879.6 745.8,895 742.9,948.7 741.7,975.6Z"/>
<path fill="#00ff57" d="M739,1110 758.6,1110 758.6,841.2 754.7,841.2 746.1,841.2 746.8,848.9 747.2,856.6 747.4,868.1 747.3,879.6 746.7,895 744,944.9 742.7,975.6 740.8,1048.6Z"/>
<path fill="#00ff54" d="M740.1,1110 758.6,1110 758.6,841.2 754.7,841.2 747,841.2 747.7,848.9 748.2,860.4 748.2,879.6 747.4,898.8 745,944.9 743.9,971.8 742,1048.6Z"/>
<path fill="#00ff50" d="M741.3,1110 758.6,1110 758.6,841.2 747.8,841.2 748.5,848.9 749,860.4 749,879.6 748.3,898.8 745.9,944.9 744.9,971.8 743.1,1048.6Z"/>
<path fill="#00ff4d" d="M742.4,1110 758.6,1110 758.6,841.2 748.6,841.2 749.3,848.9 749.9,860.4 749.9,879.6 749.3,895 746.9,944.9 746,967.9 745.3,991 744.1,1052.4Z"/>
<path fill="#00ff49" d="M743.6,1110 758.6,1110 758.6,841.2 749.5,841.2 750.2,848.9 750.7,860.4 750.7,879.6 750.2,895 748,941 746.9,967.9 746.3,991 745.3,1052.4Z"/>
<path fill="#00ff46" d="M744.7,1110 758.6,1110 758.6,841.2 754.7,841.2 750.3,841.2 751,848.9 751.4,856.6 751.6,868.1 751.5,879.6 750.9,898.6 748.8,941 747.9,967.9 747.3,991 746.4,1052.4Z"/>
<path fill="#00ff42" d="M745.8,1110 758.6,1110 758.6,841.2 751.1,841.2 751.7,848.9 752.3,860.4 752.3,879.6 751.8,895 749.7,941 748.8,967.9 748.3,991 747.4,1056.2Z"/>
<path fill="#00ff3f" d="M746.9,1110 758.6,1110 758.6,841.2 751.8,841.2 752.5,848.9 753.1,860.4 753.1,879.6 752.7,895 750.5,944.9 749.7,967.9 749.3,991 748.5,1056.2Z"/>
<path fill="#00ff3b" d="M748,1110 758.6,1110 758.6,841.2 752.6,841.2 753.3,848.9 753.9,860.4 753.9,879.6 753.5,895 751.6,937.2 750.7,964.1 750.2,991 749.6,1056.2Z"/>
<path fill="#00ff38" d="M749.1,1110 758.6,1110 758.6,841.2 754.7,841.2 753.4,841.2 754.1,848.9 754.6,860.4 754.7,879.6 754.1,898.8 752.3,941 751.6,964.1 751.2,991 750.7,1056.2 750.2,1079.3Z"/>
<path fill="#00ff34" d="M750.2,1110 758.6,1110 758.6,841.2 754.7,841.2 754.1,841.2 754.8,848.9 755.2,856.6 755.5,868.1 755.4,879.6 755,895 753.2,941 752.5,964.1 752.1,991 751.8,1056.2 751.3,1079.3Z"/>
<path fill="#00ff30" d="M751.3,1110 758.6,1110 758.6,841.2 754.9,841.2 755.5,848.9 756.1,860.4 756.2,879.6 755.7,898.8 753.9,944.9 753.4,964.1 753.1,991 752.9,1056.2 752.4,1079.3Z"/>
<path fill="#00ff2d" d="M752.4,1110 758.6,1110 758.6,841.2 755.6,841.2 756.3,848.9 756.8,860.4 756.9,879.6 756.5,895 754.9,941 754.3,964.1 754,991 754.1,1037 753.9,1060.1 753.4,1083.1Z"/>
<path fill="#00ff29" d="M753.5,1110 758.6,1110 758.6,841.2 756.3,841.2 757,848.9 757.5,860.4 757.7,879.6 757.3,895 755.6,941 755.2,960.2 754.9,987.1 755.1,1040.9 755,1060.1 754.5,1083.1Z"/>
<path fill="#00ff26" d="M754.6,1110 758.6,1110 758.6,841.2 757,841.2 758.1,856.6 758.4,875.8 758.2,891.1 756.6,937.2 756,960.2 755.8,987.1 756.1,1040.9 756,1060.1 755.6,1083.1Z"/>
<path fill="#00ff22" d="M755.6,1110 758.6,1110 758.6,900.9 757.3,937.2 756.8,960.2 756.7,987.1 757.1,1040.9 757.1,1060.1 756.7,1083.1ZM758.4,848.9 758.6,852.1 758.6,841.2 757.7,841.2Z"/>
<path fill="#00ff1f" d="M756.7,1110 758.6,1110 758.6,922.5 757.8,948.7 757.5,975.6 758.1,1040.9 758.1,1063.9 757.6,1087ZM758.4,841.2 758.6,843.2 758.6,841.2Z"/>
<path fill="#00ff1c" d="M757.8,1110 758.6,1110 758.6,1089.7ZM758.6,1002.5 758.6,952.6 758.4,975.6Z"/>
<path d="M589.6,841.2 586.7,849.7 584.2,856.3 581.6,862.9 578.2,870.9 574.9,878.3 572.5,883.2 569.8,888.4 566.4,894.4 563.1,900 560.8,903.4 558,907.3 554.6,911.6 551.5,915.1 549.6,917.1 546.2,920.2 542.8,922.7 541.2,923.8 537.8,925.7 534.4,927.1 531,928 527.7,928.5 524.3,928.6 520.9,928.3 517.6,927.5 514.2,926.4 510.8,924.9 507.4,923.1 504.1,920.9 500.7,918.5 497.3,915.7 494,912.7 488.9,907.7M531.5,1110 526,1105.9 522.6,1103.1 519.2,1100.1 515.9,1096.9 512.5,1093.5 507.4,1087.9 502.4,1081.6 497.3,1074.7 494.1,1069.7 492.3,1066.7 488.9,1060.7M641.1,841.2 640.3,849.6 639.2,859.7 637.9,869.8 636.3,881.5 632.2,908.4 627.1,938.6 622.5,963.8 618.7,983.2 616.7,992.4 614.4,1002.5 612,1012.4 610.3,1018.8 606.3,1032.7 603.6,1041.1 601.8,1046.4 599.5,1052.9 596.8,1060.1 594.2,1066.3 591.7,1072.1 590,1075.7 586.7,1082.6 583.3,1088.9 579.9,1094.6 578.2,1097.3 574.9,1102.2 571.5,1106.5 568.4,1110M676.4,841.2 676.4,853 676,864.7 675.2,878.2 673.9,895 670.9,925.1 665.1,980.6 661.5,1012.6 656.1,1057.9 654.4,1073 653.5,1083.1 652.8,1093.2 652.5,1101.6 652.5,1110M707.2,841.2 707.8,851.3 708,861.4 707.8,873.1 707.3,884.9 706.6,895 705.7,906.7 701.5,957.1 698.9,989 695.5,1032.7 693.9,1056.2 692.9,1073 692.3,1086.5 692.1,1098.2 692.4,1110M734.3,841.2 735,849.6 735.4,859.7 735.4,869.8 735.1,881.5 734.8,889.9 734.1,901.7 730.2,958.8 729.1,977.3 728.1,995.8 725.5,1052.9 724.5,1076.4 723.9,1094.9 723.9,1110M754.9,841.2 755.6,849.6 756.1,858 756.3,868.1 756.2,878.2 755.8,895 754.1,938.6 753.4,963.8 753.1,990.7 753.1,1037.8 752.9,1057.9 752.4,1079.8 751.4,1110" fill="none" stroke="#0a0a0a" stroke-width="0.62" stroke-linejoin="round"/>
<rect x="488.9" y="841.2" width="269.7" height="268.8" fill="none" stroke="#4a4a4a" stroke-width="1"/>
<path d="M488.9,1110v6.8M542.8,1110v6.8M596.8,1110v6.8M650.7,1110v6.8M704.7,1110v6.8M758.6,1110v6.8M488.9,1110h-6.8M488.9,1042.8h-6.8M488.9,975.6h-6.8M488.9,908.4h-6.8M488.9,841.2h-6.8" fill="none" stroke="#444" stroke-width="1"/>
<text transform="translate(488.9 1131.6) scale(0.945 1)" font-size="11.4" text-anchor="middle">0.13</text>
<text transform="translate(542.8 1131.6) scale(0.945 1)" font-size="11.4" text-anchor="middle">0.136</text>
<text transform="translate(596.8 1131.6) scale(0.945 1)" font-size="11.4" text-anchor="middle">0.142</text>
<text transform="translate(650.7 1131.6) scale(0.945 1)" font-size="11.4" text-anchor="middle">0.148</text>
<text transform="translate(704.7 1131.6) scale(0.945 1)" font-size="11.4" text-anchor="middle">0.154</text>
<text transform="translate(758.6 1131.6) scale(0.945 1)" font-size="11.4" text-anchor="middle">0.16</text>
<text transform="translate(479.4 1107.3) scale(0.985 1)" font-size="11.4" text-anchor="end">2</text>
<text transform="translate(479.4 1040.1) scale(0.985 1)" font-size="11.4" text-anchor="end">4</text>
<text transform="translate(479.4 972.9) scale(0.985 1)" font-size="11.4" text-anchor="end">6</text>
<text transform="translate(479.4 905.7) scale(0.985 1)" font-size="11.4" text-anchor="end">8</text>
<text transform="translate(479.4 838.5) scale(0.985 1)" font-size="11.4" text-anchor="end">10</text>
<rect x="549" y="907.3" width="10.5" height="8.2" fill="#fff" stroke="#333" stroke-width="0.7"/>
<text x="554.2" y="913.8" font-size="6.5" text-anchor="middle">10</text>
<rect x="612" y="981.2" width="10.5" height="8.2" fill="#fff" stroke="#333" stroke-width="0.7"/>
<text x="617.2" y="987.7" font-size="6.5" text-anchor="middle">20</text>
<rect x="500.2" y="1078.9" width="10.5" height="8.2" fill="#fff" stroke="#333" stroke-width="0.7"/>
<text x="505.5" y="1085.4" font-size="6.5" text-anchor="middle">20</text>
<rect x="661.2" y="967.7" width="10.5" height="8.2" fill="#fff" stroke="#333" stroke-width="0.7"/>
<text x="666.5" y="974.2" font-size="6.5" text-anchor="middle">30</text>
<rect x="695.1" y="967.7" width="10.5" height="8.2" fill="#fff" stroke="#333" stroke-width="0.7"/>
<text x="700.4" y="974.2" font-size="6.5" text-anchor="middle">40</text>
<rect x="723.4" y="967.7" width="10.5" height="8.2" fill="#fff" stroke="#333" stroke-width="0.7"/>
<text x="728.6" y="974.2" font-size="6.5" text-anchor="middle">50</text>
<rect x="748" y="967.7" width="10.5" height="8.2" fill="#fff" stroke="#333" stroke-width="0.7"/>
<text x="753.3" y="974.2" font-size="6.5" text-anchor="middle">60</text>
<text x="623.8" y="836" font-size="11.3" text-anchor="middle">Power (mW)</text>
<text x="623.8" y="1154" font-size="14.2" text-anchor="middle">A: D1 (cm)</text>
<text x="452.9" y="975.6" font-size="14.0" text-anchor="middle" transform="rotate(-90 452.9 975.6)">B: Ar</text>
</g>
<g>
<path d="M205.5,323.6 351.4,253.6 205.7,200 60.3,254Z" fill="#ffff85" stroke="#111" stroke-width="0.9" stroke-linejoin="round"/>
<path d="M66.1,256.8 66.1,254.3 66.3,253.1 66.6,251.7M104.7,237.5 113.6,237.3 124.9,237.6 137.1,238.1 150.4,239.1 161,240 176,241.6 217.7,246.6 231.3,248.1 240.5,249 247.6,249.6 260,250.3 267.9,250.4 276.2,250.4 283.8,250.1 291.4,249.7 299.5,248.9 306.8,248 316.8,246.6 327.7,244.9" fill="none" stroke="#04bce4" stroke-width="1.3" stroke-linecap="round"/>
<path d="M145,222.6 170.4,225.6 200.4,228.9 221.3,230.9 237.9,232.3 252.6,233.2 268,233.7 281.5,233.7 296.5,233.4" fill="none" stroke="#04e47a" stroke-width="1.3" stroke-linecap="round"/>
<path d="M166,214.7 174.9,215.9 186.3,217.2 197.9,218.4 212.1,219.7 224,220.6 238.5,221.6 253.2,222.5 268.7,223.2" fill="none" stroke="#1ae404" stroke-width="1.3" stroke-linecap="round"/>
<path d="M183.6,208.2 194.6,209.6 206.1,210.8 222.6,212.2 243,213.7" fill="none" stroke="#a9e404" stroke-width="1.3" stroke-linecap="round"/>
<path d="M198,202.9 208.8,204.3 220.9,205.6" fill="none" stroke="#e49204" stroke-width="1.3" stroke-linecap="round"/>
<path d="M57.9,206.3 205.7,156.8 353.7,206M56.9,184.5 205.6,137.1 354.7,184.3M55.8,162.8 205.6,117.4 355.8,162.5M54.7,141 205.6,97.6 356.8,140.8M53.6,119.2 205.6,77.9 357.9,119M52.6,97.4 205.5,58.2 358.9,97.3M51.5,75.6 205.5,38.4 360,75.5M50.4,53.8 205.5,18.7 361,53.8M87.5,196.4 81.4,46.8M117,186.5 112.4,39.8M146.6,176.6 143.5,32.7M176.1,166.7 174.5,25.7M324.1,196.2 329.9,46.8M294.5,186.4 298.8,39.8M264.9,176.5 267.7,32.7M235.3,166.7 236.6,25.7M205.7,156.8 205.5,18.7M60.3,254 50.4,53.8M351.4,253.6 361,53.8" fill="none" stroke="#1a1a1a" stroke-width="0.75"/>
<path fill="#0026ff" d="M205.5,258.9 220.4,251.6 260.1,232.7 304.8,210.6 342.1,192.9 354.6,186.6 349.8,182.7 342.5,176.5 335.2,169.9 327.9,163 315.7,151.1 266.3,102.2 256.3,92 246.3,81.5 236.2,70.6 215.8,47.9 210.7,42.4 205.5,37.2 203,42.3 197.9,51.6 190.3,64 180.2,78.8 170.2,92.6 157.8,108.6 147.9,120.4 138,131.1 133.1,135.9 128.2,140.5 120.8,146.8 115.9,150.5 111,154 106.1,157.1 101.1,159.9 96.2,162.4 91.2,164.7 86.3,166.6 81.3,168.2 73.8,170.1 68.8,171 63.8,171.6 56.2,171.8 78.9,187.8 96.5,199.6 116.4,212.3 136.3,224.3 156.1,235.5 166,240.8 175.9,245.9 190.7,252.9 198.1,256.1Z"/>
<path fill="#002cff" d="M212.5,255.4 257.6,233.9 304.8,210.6 342.1,192.9 354.6,186.6 349.8,182.7 342.5,176.5 335.2,169.9 327.9,163 315.7,151.1 266.3,102.2 256.3,92 246.3,81.5 236.2,70.6 215.8,47.9 210.7,42.4 205.5,37.2 200.4,47 192.8,60 185.2,71.6 177.7,82.4 170.2,92.6 160.2,105.5 152.8,114.6 145.4,123.2 138,131.1 130.7,138.3 123.3,144.8 115.9,150.5 108.5,155.6 101.1,159.9 93.7,163.6 86.3,166.6 78.8,168.9 71.3,170.6 63.8,171.6 56.2,171.8 76.4,186 89,194.6 101.5,202.9 116.4,212.3 131.3,221.4 146.2,230 161.1,238.2 174.8,245.3 182.1,242.3 187.3,240.4 193.1,238.8 197,238.3 201.6,238.2 204.3,238.3 207.9,238.9 210.7,239.7 212.9,240.9 214.3,242.3 215.2,244 215.3,246 214.8,248.2 213.7,251.3Z"/>
<path fill="#0032ff" d="M228.1,247.9 260.1,232.7 304.8,210.6 342.1,192.9 354.6,186.6 349.8,182.7 342.5,176.5 335.2,169.9 327.9,163 315.7,151.1 266.3,102.2 256.3,92 246.3,81.5 236.2,70.6 215.8,47.9 210.7,42.4 205.5,37.2 203,42.3 197.9,51.6 192.8,60 187.7,67.8 182.7,75.2 175.2,85.8 167.7,95.9 160.2,105.5 152.8,114.6 145.4,123.2 138,131.1 133.1,135.9 125.7,142.7 120.8,146.8 115.9,150.5 108.5,155.6 103.6,158.5 96.2,162.4 88.8,165.7 81.3,168.2 73.8,170.1 68.8,171 63.8,171.6 56.2,171.8 86.4,192.9 99,201.3 111.4,209.2 123.9,216.9 138.8,225.7 151.2,232.8 165.3,240.5 172.4,235.3 176.3,232.9 181,230.9 183.8,230 186.9,229.3 190.4,228.8 194.4,228.4 202.4,228.3 210.9,228.8 218.1,229.9 224.3,231.3 227,232.2 229.4,233.2 231.4,234.3 233,235.7 234,237.3 234.2,238.3 234.2,239.2 233.4,241.6 231.3,244.5Z"/>
<path fill="#0038ff" d="M246.5,239.3 265,230.3 307.3,209.4 344.6,191.7 354.6,186.6 349.8,182.7 342.5,176.5 335.2,169.9 327.9,163 315.7,151.1 266.3,102.2 256.3,92 246.3,81.5 236.2,70.6 215.8,47.9 210.7,42.4 205.5,37.2 200.4,47 195.3,55.9 190.3,64 182.7,75.2 172.7,89.2 162.7,102.3 152.8,114.6 145.4,123.2 138,131.1 133.1,135.9 128.2,140.5 123.3,144.8 118.4,148.7 113.4,152.3 108.5,155.6 101.1,159.9 96.2,162.4 88.8,165.7 83.8,167.5 78.8,168.9 71.3,170.6 66.3,171.3 61.3,171.7 56.2,171.8 83.9,191.2 94,198 106.5,206.1 118.9,213.9 131.3,221.4 143.7,228.6 157.7,236.4 161.9,232.1 164.9,229.4 168.5,226.9 170.7,225.8 173.1,224.8 175.8,224 178.9,223.3 186.1,222.3 191.3,222 200.2,222 205.9,222.3 212.3,222.9 220.9,223.9 231.1,225.7 237.1,227.2 239.9,228 242.4,229 244.6,230 246.4,231.3 247.8,232.7 248.5,234.4 248.2,236.5Z"/>
<path fill="#003eff" d="M261.2,232.2 304.8,210.6 342.1,192.9 354.6,186.6 349.8,182.7 342.5,176.5 335.2,169.9 327.9,163 315.7,151.1 266.3,102.2 256.3,92 246.3,81.5 236.2,70.6 215.8,47.9 210.7,42.4 205.5,37.2 200.4,47 192.8,60 185.2,71.6 175.2,85.8 165.2,99.1 155.3,111.6 145.4,123.2 140.5,128.5 135.6,133.5 130.7,138.3 125.7,142.7 120.8,146.8 115.9,150.5 111,154 106.1,157.1 101.1,159.9 96.2,162.4 91.2,164.7 86.3,166.6 81.3,168.2 76.3,169.6 71.3,170.6 66.3,171.3 61.3,171.7 56.2,171.8 83.9,191.2 104,204.5 126.4,218.4 138.8,225.7 151.1,232.7 154.5,228.2 157,225.3 158.5,223.9 160.3,222.7 162.2,221.5 164.5,220.5 167,219.6 169.8,218.8 173,218.1 176.5,217.6 181.6,217.1 189.4,216.9 201.2,217.3 209.4,217.9 217.2,218.7 231.7,220.7 238.5,221.9 244.9,223.2 250.8,224.6 253.5,225.5 256,226.4 258.2,227.5 259.9,228.8 261,230.3Z"/>
<path fill="#0044ff" d="M273.3,226.3 304.8,210.6 342.1,192.9 354.6,186.6 349.8,182.7 342.5,176.5 335.2,169.9 327.9,163 315.7,151.1 266.3,102.2 256.3,92 246.3,81.5 236.2,70.6 215.8,47.9 210.7,42.4 205.5,37.2 203,42.3 197.9,51.6 190.3,64 180.2,78.8 167.7,95.9 155.3,111.6 145.4,123.2 140.5,128.5 135.6,133.5 130.7,138.3 125.7,142.7 118.4,148.7 113.4,152.3 108.5,155.6 101.1,159.9 96.2,162.4 91.2,164.7 86.3,166.6 81.3,168.2 73.8,170.1 68.8,171 63.8,171.6 56.2,171.8 81.4,189.5 101.5,202.9 111.4,209.2 123.9,216.9 145.1,229.4 147.9,224.6 150.1,221.6 151.5,220.2 153,218.9 154.9,217.7 157,216.6 159.3,215.6 162,214.8 168.4,213.5 175.7,212.8 180.6,212.6 190.6,212.7 203.8,213.5 222.5,215.4 237.8,217.4 254.8,220.2 264.1,222.2 269.5,223.9 271.6,225Z"/>
<path fill="#004aff" d="M284.2,220.8 309.8,208.2 344.6,191.7 354.6,186.6 349.8,182.7 342.5,176.5 335.2,169.9 327.9,163 315.7,151.1 266.3,102.2 256.3,92 246.3,81.5 236.2,70.6 215.8,47.9 210.7,42.4 205.5,37.2 203,42.3 197.9,51.6 192.8,60 187.7,67.8 180.2,78.8 172.7,89.2 165.2,99.1 157.8,108.6 150.3,117.5 145.4,123.2 140.5,128.5 135.6,133.5 128.2,140.5 123.3,144.8 118.4,148.7 113.4,152.3 106.1,157.1 98.7,161.2 91.2,164.7 83.8,167.5 76.3,169.6 68.8,171 63.8,171.6 56.2,171.8 81.4,189.5 99,201.3 118.9,213.9 139.6,226.2 141.8,221.2 143.8,218.2 145.1,216.7 146.5,215.4 148.3,214.2 150.3,213.1 152.6,212.1 155.1,211.2 161.3,209.8 168.2,209.1 173,208.8 179.2,208.7 187.9,208.9 199.7,209.7 212.8,210.9 234.7,213.4 260.9,216.9 274.7,219Z"/>
<path fill="#0050ff" d="M290.4,215.5 294.9,215.5 314.8,205.8 342.1,192.9 354.6,186.6 349.8,182.7 342.5,176.5 335.2,169.9 327.9,163 315.7,151.1 266.3,102.2 256.3,92 246.3,81.5 236.2,70.6 215.8,47.9 210.7,42.4 205.5,37.2 200.4,47 195.3,55.9 190.3,64 185.2,71.6 177.7,82.4 170.2,92.6 162.7,102.3 155.3,111.6 147.9,120.4 142.9,125.9 135.6,133.5 130.7,138.3 123.3,144.8 118.4,148.7 113.4,152.3 106.1,157.1 101.1,159.9 93.7,163.6 86.3,166.6 81.3,168.2 73.8,170.1 68.8,171 63.8,171.6 56.2,171.8 78.9,187.8 96.5,199.6 113.9,210.8 134.5,223.2 136.3,218.1 138,215 139.2,213.5 140.6,212.2 142.3,210.9 144.2,209.8 146.4,208.8 148.9,207.9 154.9,206.5 158.4,206 166.3,205.3 171.3,205.2 180.8,205.3 198.3,206.4 218.5,208.4 251.4,212.2 266.5,213.8 283.2,215.2Z"/>
<path fill="#0056ff" d="M299.7,210.8 306.3,209.9 342.1,192.9 354.6,186.6 349.8,182.7 342.5,176.5 335.2,169.9 327.9,163 315.7,151.1 266.3,102.2 256.3,92 246.3,81.5 236.2,70.6 215.8,47.9 210.7,42.4 205.5,37.2 200.4,47 195.3,55.9 190.3,64 182.7,75.2 175.2,85.8 165.2,99.1 155.3,111.6 147.9,120.4 140.5,128.5 133.1,135.9 125.7,142.7 120.8,146.8 115.9,150.5 108.5,155.6 103.6,158.5 96.2,162.4 91.2,164.7 86.3,166.6 81.3,168.2 76.3,169.6 71.3,170.6 66.3,171.3 61.3,171.7 56.2,171.8 78.9,187.8 94,198 111.4,209.2 129.6,220.4 131.1,215.1 131.8,213.5 132.7,212 133.8,210.5 135.2,209.1 136.8,207.9 138.7,206.8 140.9,205.7 143.3,204.8 149.2,203.4 156.2,202.4 160.3,202.2 167.6,202 174.3,202 191.4,202.9 211.1,204.8 252,209.3 271.7,210.9 285.6,211.4 294.1,211.2Z"/>
<path fill="#005dff" d="M309.6,205.8 313.4,205.1 319.4,203.6 342.1,192.9 354.6,186.6 349.8,182.7 342.5,176.5 335.2,169.9 327.9,163 315.7,151.1 266.3,102.2 256.3,92 246.3,81.5 236.2,70.6 215.8,47.9 210.7,42.4 205.5,37.2 200.4,47 195.3,55.9 187.7,67.8 180.2,78.8 170.2,92.6 160.2,105.5 150.3,117.5 142.9,125.9 135.6,133.5 128.2,140.5 123.3,144.8 115.9,150.5 108.5,155.6 101.1,159.9 93.7,163.6 86.3,166.6 78.8,168.9 71.3,170.6 63.8,171.6 56.2,171.8 78.9,187.8 94,198 108.9,207.7 125,217.6 125.7,214 126.9,210.7 127.7,209.1 128.8,207.6 130.1,206.3 131.7,205 133.6,203.9 135.7,202.9 138.2,202 140.9,201.2 147.2,200 154.8,199.2 163.5,198.9 168.5,199 185.1,199.8 204.4,201.5 248.3,206.1 260.5,207.2 273,207.9 284.2,208.1 293.9,207.8 302.4,207Z"/>
<path fill="#0063ff" d="M320.5,200.5 325.8,199.1 334.3,196.6 347.1,190.4 354.6,186.6 349.8,182.7 342.5,176.5 335.2,169.9 327.9,163 315.7,151.1 266.3,102.2 256.3,92 246.3,81.5 236.2,70.6 215.8,47.9 210.7,42.4 205.5,37.2 200.4,47 192.8,60 185.2,71.6 177.7,82.4 167.7,95.9 157.8,108.6 147.9,120.4 138,131.1 130.7,138.3 123.3,144.8 115.9,150.5 111,154 106.1,157.1 98.7,161.2 93.7,163.6 88.8,165.7 81.3,168.2 73.8,170.1 68.8,171 63.8,171.6 56.2,171.8 76.4,186 91.5,196.3 106.5,206.1 120.7,215 121.2,211.3 122.3,207.9 123.1,206.4 124.1,204.9 125.4,203.6 127,202.3 128.8,201.2 131,200.2 136.1,198.5 142.3,197.2 149.8,196.4 153.9,196.2 163.2,196.1 179.4,196.8 198.3,198.4 248,203.6 260.8,204.6 272.9,205.1 286.3,205.2 297.7,204.5 303.4,203.8 309.4,202.9 316.3,201.5Z"/>
<path fill="#0069ff" d="M331.9,194.9 346.6,190.7 354.6,186.6 349.8,182.7 342.5,176.5 335.2,169.9 327.9,163 315.7,151.1 266.3,102.2 256.3,92 246.3,81.5 236.2,70.6 215.8,47.9 210.7,42.4 205.5,37.2 200.4,47 192.8,60 187.7,67.8 182.7,75.2 172.7,89.2 162.7,102.3 152.8,114.6 142.9,125.9 138,131.1 133.1,135.9 128.2,140.5 123.3,144.8 115.9,150.5 108.5,155.6 103.6,158.5 98.7,161.2 93.7,163.6 88.8,165.7 81.3,168.2 76.3,169.6 71.3,170.6 63.8,171.6 56.2,171.8 76.4,186 89,194.6 101.5,202.9 116.5,212.4 116.9,208.7 117.3,207 117.9,205.3 118.7,203.8 119.7,202.3 121,201 122.6,199.7 124.4,198.6 126.5,197.6 131.6,195.9 137.8,194.6 145.1,193.8 153.6,193.5 158.3,193.4 174.2,194 192.8,195.5 232,199.6 247.4,201.1 263.5,202.3 276.5,202.7 284,202.6 291.4,202.3 297.8,201.8 305.8,200.8 316.5,198.9 323,197.3Z"/>
<path fill="#006fff" d="M342,190 354.6,186.6 349.8,182.7 342.5,176.5 335.2,169.9 327.9,163 315.7,151.1 266.3,102.2 256.3,92 246.3,81.5 236.2,70.6 215.8,47.9 210.7,42.4 205.5,37.2 200.4,47 192.8,60 187.7,67.8 182.7,75.2 172.7,89.2 160.2,105.5 150.3,117.5 140.5,128.5 135.6,133.5 130.7,138.3 123.3,144.8 118.4,148.7 113.4,152.3 106.1,157.1 101.1,159.9 96.2,162.4 91.2,164.7 86.3,166.6 81.3,168.2 76.3,169.6 71.3,170.6 66.3,171.3 61.3,171.7 56.2,171.8 58.8,173.6 76.4,186 89,194.6 101.5,202.9 112.6,209.9 112.8,206.2 113.2,204.5 113.8,202.8 114.6,201.3 115.6,199.8 116.9,198.5 118.5,197.3 120.3,196.1 122.4,195.1 127.5,193.5 133.6,192.2 140.8,191.4 149.2,190.9 153.8,190.9 163.9,191.1 175.2,191.7 194.2,193.4 231.1,197.3 246.5,198.8 262.8,199.9 271.3,200.2 279.7,200.3 285.5,200.1 294,199.7 302.3,198.8 309.9,197.7 317,196.3 323.6,194.9Z"/>
<path fill="#0075ff" d="M349.5,186.1 353,185.2 347.3,180.6 340,174.3 327.9,163 315.7,151.1 263.8,99.7 253.8,89.4 243.8,78.8 215.8,47.9 210.7,42.4 205.5,37.2 200.4,47 192.8,60 185.2,71.6 177.7,82.4 167.7,95.9 157.8,108.6 147.9,120.4 138,131.1 133.1,135.9 128.2,140.5 123.3,144.8 118.4,148.7 113.4,152.3 108.5,155.6 103.6,158.5 98.7,161.2 93.7,163.6 86.3,166.6 81.3,168.2 76.3,169.6 71.3,170.6 66.3,171.3 61.3,171.7 56.2,171.8 66.3,178.9 89,194.6 108.7,207.5 108.9,203.8 109.3,202.1 109.9,200.4 110.7,198.9 111.7,197.5 113,196.1 114.6,194.9 116.4,193.8 118.5,192.8 123.5,191.1 129.7,189.9 136.8,189 140.8,188.7 149.6,188.5 159.6,188.7 170.6,189.2 189.3,190.7 233.8,195.5 249.4,196.8 265.9,197.8 280.8,198 289.7,197.6 295.3,197.2 303.1,196.4 310.7,195.3 317.8,193.9 324.4,192.5Z"/>
<path fill="#007bff" d="M344.5,185.6 351.3,183.9 340,174.3 325.5,160.7 263.8,99.7 253.8,89.4 243.8,78.8 215.8,47.9 210.7,42.4 205.5,37.2 200.4,47 192.8,60 185.2,71.6 175.2,85.8 165.2,99.1 155.3,111.6 145.4,123.2 140.5,128.5 135.6,133.5 130.7,138.3 125.7,142.7 120.8,146.8 115.9,150.5 111,154 106.1,157.1 101.1,159.9 96.2,162.4 91.2,164.7 86.3,166.6 81.3,168.2 76.3,169.6 71.3,170.6 66.3,171.3 61.3,171.7 56.2,171.8 63.8,177.1 86.4,192.9 105.1,205.2 105.2,201.5 105.6,199.8 106.1,198.1 106.9,196.6 108,195.2 109.3,193.8 110.9,192.6 112.7,191.5 114.9,190.5 119.9,188.9 125.9,187.6 133.1,186.8 141.2,186.3 145.7,186.2 155.5,186.3 166.4,186.8 178.3,187.7 191.3,188.9 228.8,192.9 244.2,194.4 260.4,195.4 269.1,195.8 277,195.8 283.1,195.7 291.6,195.3 300.1,194.6 308,193.5 315.3,192.3 322.2,190.9Z"/>
<path fill="#0081ff" d="M339.7,184.9 349.7,182.6 337.6,172.1 325.5,160.7 263.8,99.7 253.8,89.4 243.8,78.8 215.8,47.9 210.7,42.4 205.5,37.2 200.4,47 192.8,60 185.2,71.6 175.2,85.8 165.2,99.1 155.3,111.6 145.4,123.2 140.5,128.5 135.6,133.5 130.7,138.3 125.7,142.7 120.8,146.8 115.9,150.5 111,154 106.1,157.1 101.1,159.9 96.2,162.4 91.2,164.7 86.3,166.6 81.3,168.2 76.3,169.6 71.3,170.6 66.3,171.3 61.3,171.7 56.2,171.8 63.8,177.1 83.9,191.2 101.6,202.9 101.7,199.2 102,197.5 102.6,195.9 103.4,194.3 104.5,192.9 105.8,191.6 107.4,190.4 109.2,189.3 111.4,188.4 116.4,186.7 122.4,185.5 129.5,184.6 137.6,184.1 146.7,184 156.9,184.2 168.1,184.9 187,186.5 227.4,190.8 242.9,192.2 259,193.4 273.5,193.8 281.6,193.7 288.5,193.4 297.3,192.8 305.4,191.8 312.9,190.7 320,189.4Z"/>
<path fill="#0087ff" d="M345,182 348.1,181.3 337.6,172.1 323,158.3 261.3,97.1 243.8,78.8 215.8,47.9 210.7,42.4 205.5,37.2 200.4,47 192.8,60 185.2,71.6 177.7,82.4 167.7,95.9 157.8,108.6 147.9,120.4 140.5,128.5 135.6,133.5 130.7,138.3 125.7,142.7 120.8,146.8 115.9,150.5 111,154 106.1,157.1 98.7,161.2 93.7,163.6 86.3,166.6 81.3,168.2 76.3,169.6 71.3,170.6 66.3,171.3 61.3,171.7 56.2,171.8 68.9,180.7 83.9,191.2 98.2,200.7 98.2,197 98.6,195.3 99.2,193.7 100,192.2 101.1,190.8 102.4,189.5 104.1,188.3 105.9,187.2 108.1,186.3 113.1,184.6 119.1,183.4 126.1,182.5 134.2,182 143.2,181.9 153.2,182.1 164.3,182.7 182.9,184.2 222.1,188.3 241.3,190.2 258.4,191.4 266,191.7 275.4,191.8 284.9,191.6 290.2,191.3 298.8,190.6 306.8,189.7 314.3,188.5 321.3,187.2Z"/>
<path fill="#008dff" d="M340,181.4 346.6,180 335.2,169.9 323,158.3 261.3,97.1 243.8,78.8 215.8,47.9 210.7,42.4 205.5,37.2 200.4,47 192.8,60 185.2,71.6 177.7,82.4 167.7,95.9 157.8,108.6 147.9,120.4 138,131.1 133.1,135.9 128.2,140.5 123.3,144.8 118.4,148.7 113.4,152.3 108.5,155.6 103.6,158.5 98.7,161.2 93.7,163.6 86.3,166.6 81.3,168.2 76.3,169.6 71.3,170.6 66.3,171.3 61.3,171.7 56.2,171.8 66.3,178.9 81.4,189.5 94.9,198.6 94.8,196.7 95,194.9 95.3,193.2 95.9,191.6 96.8,190.1 97.9,188.7 99.2,187.4 100.9,186.2 102.7,185.2 104.9,184.2 109.9,182.6 115.9,181.3 119.3,180.9 126.8,180.2 139.8,179.8 149.8,180 160.7,180.5 172.6,181.4 185.6,182.6 224.3,186.7 239.7,188.2 255.8,189.3 272.2,189.9 282.5,189.8 288.2,189.5 296.2,188.9 304.4,188.1 312.1,187 319.3,185.7Z"/>
<path fill="#0093ff" d="M344.3,178.9 345.1,178.8 335.2,169.9 323,158.3 271.3,107.1 258.8,94.6 243.8,78.8 215.8,47.9 210.7,42.4 205.5,37.2 200.4,47 192.8,60 185.2,71.6 177.7,82.4 167.7,95.9 157.8,108.6 147.9,120.4 140.5,128.5 135.6,133.5 130.7,138.3 125.7,142.7 120.8,146.8 115.9,150.5 111,154 106.1,157.1 98.7,161.2 93.7,163.6 86.3,166.6 81.3,168.2 76.3,169.6 71.3,170.6 66.3,171.3 61.3,171.7 56.2,171.8 68.9,180.7 91.7,196.5 91.6,194.6 91.8,192.8 92.2,191.1 92.8,189.5 93.6,188 94.8,186.6 96.1,185.4 97.8,184.2 99.7,183.2 101.8,182.2 106.9,180.6 109.8,180 116.3,178.9 123.7,178.2 132.1,177.9 141.5,177.9 151.8,178.2 163,178.8 181.8,180.4 226.4,185.1 241.9,186.6 258.2,187.6 266.8,187.9 274.5,188 280.9,187.9 289.2,187.6 298,186.9 306.1,186 321,183.6Z"/>
<path fill="#0099ff" d="M339.4,178.4 343.7,177.5 335.2,169.9 323,158.3 261.3,97.1 243.8,78.8 215.8,47.9 210.7,42.4 205.5,37.2 200.4,47 192.8,60 185.2,71.6 177.7,82.4 167.7,95.9 157.8,108.6 147.9,120.4 138,131.1 133.1,135.9 128.2,140.5 123.3,144.8 118.4,148.7 113.4,152.3 108.5,155.6 103.6,158.5 98.7,161.2 93.7,163.6 86.3,166.6 81.3,168.2 76.3,169.6 71.3,170.6 66.3,171.3 61.3,171.7 56.2,171.8 66.3,178.9 88.6,194.4 88.6,192.5 88.7,190.7 89.1,189 89.7,187.5 90.6,186 91.8,184.7 93.2,183.4 94.8,182.3 96.7,181.2 98.9,180.3 104,178.7 106.9,178 113.4,177 120.8,176.3 129.1,176 138.4,175.9 148.6,176.2 159.7,176.8 171.9,177.7 184.9,179 224.6,183.2 240.1,184.6 256.3,185.7 271.5,186.2 278.7,186.2 286.6,185.9 295.6,185.3 304,184.5 311.7,183.4 319.1,182.2Z"/>
<path fill="#00a0ff" d="M334.6,177.7 342.3,176.3 332.8,167.6 320.6,156 258.8,94.6 243.8,78.8 215.8,47.9 210.7,42.4 205.5,37.2 200.4,47 192.8,60 185.2,71.6 175.2,85.8 165.2,99.1 155.3,111.6 145.4,123.2 140.5,128.5 135.6,133.5 130.7,138.3 125.7,142.7 120.8,146.8 115.9,150.5 111,154 106.1,157.1 101.1,159.9 96.2,162.4 91.2,164.7 86.3,166.6 81.3,168.2 76.3,169.6 71.3,170.6 66.3,171.3 61.3,171.7 56.2,171.8 63.8,177.1 85.6,192.4 85.6,190.5 85.7,188.7 86.1,187.1 86.8,185.5 87.7,184.1 88.9,182.7 90.3,181.5 92,180.3 93.9,179.3 96.1,178.4 101.1,176.8 107.2,175.6 114.1,174.8 118,174.5 126.2,174.1 135.5,174 145.6,174.3 156.6,174.9 168.5,175.7 181.4,176.9 218.9,180.9 238.2,182.7 254.3,183.9 268.6,184.4 276.4,184.4 286.5,184.2 293.3,183.7 301.8,183 309.8,182 317.3,180.8Z"/>
<path fill="#00a6ff" d="M338.1,175.5 340.9,175 330.3,165.4 320.6,156 258.8,94.6 243.8,78.8 215.8,47.9 210.7,42.4 205.5,37.2 200.4,47 192.8,60 185.2,71.6 177.7,82.4 167.7,95.9 157.8,108.6 147.9,120.4 140.5,128.5 135.6,133.5 130.7,138.3 125.7,142.7 120.8,146.8 115.9,150.5 111,154 106.1,157.1 98.7,161.2 93.7,163.6 86.3,166.6 81.3,168.2 76.3,169.6 71.3,170.6 66.3,171.3 61.3,171.7 56.2,171.8 68.9,180.7 82.7,190.4 82.7,188.5 82.8,186.8 83.3,185.1 83.9,183.6 84.9,182.1 86,180.8 87.5,179.6 89.2,178.5 93.3,176.5 98.4,175 104.5,173.8 111.4,172.9 115.2,172.6 123.5,172.3 132.6,172.2 142.7,172.4 153.6,173 165.4,173.8 178.1,174.9 236.2,180.9 254,182.2 269.5,182.7 278.9,182.7 286.5,182.4 300.9,181.4 315.5,179.5Z"/>
<path fill="#00acff" d="M333.4,174.9 339.5,173.8 330.3,165.4 320.6,156 258.8,94.6 243.8,78.8 215.8,47.9 210.7,42.4 205.5,37.2 200.4,47 192.8,60 185.2,71.6 177.7,82.4 167.7,95.9 157.8,108.6 147.9,120.4 138,131.1 133.1,135.9 128.2,140.5 123.3,144.8 118.4,148.7 113.4,152.3 108.5,155.6 103.6,158.5 98.7,161.2 93.7,163.6 86.3,166.6 81.3,168.2 76.3,169.6 71.3,170.6 66.3,171.3 61.3,171.7 56.2,171.8 66.3,178.9 79.9,188.4 79.8,186.6 80,184.8 80.5,183.2 81.1,181.7 82.1,180.2 83.3,178.9 84.8,177.7 86.5,176.6 88.4,175.6 93.1,173.9 98.7,172.5 101.8,172 108.8,171.1 116.6,170.6 125.3,170.4 134.8,170.5 145.2,170.9 156.5,171.5 181.6,173.6 234.2,179.1 251,180.3 267.2,181 276.5,181 284.1,180.9 297.8,180 306,179.1 313.8,178.1Z"/>
<path fill="#00b2ff" d="M336.5,172.9 338.1,172.6 327.9,163 318.1,153.6 268.8,104.7 253.8,89.4 238.7,73.3 215.8,47.9 210.7,42.4 205.5,37.2 200.4,47 192.8,60 185.2,71.6 177.7,82.4 167.7,95.9 157.8,108.6 147.9,120.4 140.5,128.5 135.6,133.5 130.7,138.3 125.7,142.7 120.8,146.8 115.9,150.5 111,154 106.1,157.1 98.7,161.2 93.7,163.6 86.3,166.6 81.3,168.2 76.3,169.6 71.3,170.6 66.3,171.3 61.3,171.7 56.2,171.8 68.9,180.7 77.1,186.5 77.1,184.6 77.3,182.9 77.7,181.3 78.4,179.8 79.4,178.4 80.6,177.1 82.1,175.9 83.8,174.8 85.8,173.8 90.5,172.1 96.1,170.8 99.2,170.2 106.2,169.4 118.2,168.7 127.3,168.7 137.2,168.9 148,169.4 159.6,170.1 178.6,171.8 216.7,175.8 236,177.6 252,178.8 266.1,179.3 274,179.4 283.9,179.2 291.3,178.8 300,178.1 315.9,176.2Z"/>
<path fill="#00b8ff" d="M331.8,172.2 336.8,171.4 327.9,163 318.1,153.6 258.8,94.6 243.8,78.8 215.8,47.9 210.7,42.4 205.5,37.2 200.4,47 192.8,60 185.2,71.6 177.7,82.4 167.7,95.9 157.8,108.6 147.9,120.4 138,131.1 133.1,135.9 128.2,140.5 123.3,144.8 118.4,148.7 113.4,152.3 108.5,155.6 103.6,158.5 98.7,161.2 93.7,163.6 86.3,166.6 81.3,168.2 76.3,169.6 71.3,170.6 66.3,171.3 61.3,171.7 56.2,171.8 66.3,178.9 74.4,184.6 74.3,182.8 74.6,181 75,179.4 75.8,177.9 76.7,176.5 78,175.2 79.5,174.1 81.2,173 83.2,172 87.9,170.3 93.5,169 96.7,168.5 103.7,167.7 115.7,167 124.8,167 134.6,167.2 145.3,167.6 156.8,168.3 182.3,170.6 233.8,175.8 249.8,177.1 263.5,177.7 271.5,177.8 281.1,177.7 289.2,177.4 297.4,176.8 306.4,175.9 314.3,174.9Z"/>
<path fill="#00beff" d="M334.6,170.3 335.5,170.2 327.9,163 318.1,153.6 268.8,104.7 256.3,92 241.2,76.1 213.2,45.1 205.5,37.2 200.4,47 192.8,60 185.2,71.6 177.7,82.4 167.7,95.9 157.8,108.6 147.9,120.4 140.5,128.5 135.6,133.5 130.7,138.3 125.7,142.7 120.8,146.8 115.9,150.5 111,154 106.1,157.1 98.7,161.2 93.7,163.6 86.3,166.6 81.3,168.2 76.3,169.6 71.3,170.6 66.3,171.3 61.3,171.7 56.2,171.8 68.9,180.7 71.7,182.7 71.7,180.9 71.9,179.2 72.4,177.6 73.1,176.1 74.1,174.7 75.4,173.4 76.9,172.3 78.6,171.2 82.9,169.3 88.1,167.9 94.2,166.8 101.2,166 109.1,165.5 117.7,165.3 127.1,165.3 142.7,165.9 154.2,166.6 179.4,168.8 231.6,174.1 247.5,175.3 264.4,176.1 273.6,176.2 282.4,176.1 296.2,175.3 304.7,174.5 312.9,173.5Z"/>
<path fill="#00c4ff" d="M329.9,169.6 334.2,169 325.5,160.7 315.7,151.1 268.8,104.7 256.3,92 241.2,76.1 213.2,45.1 205.5,37.2 200.4,47 195.3,55.9 190.3,64 182.7,75.2 175.2,85.8 165.2,99.1 155.3,111.6 147.9,120.4 140.5,128.5 133.1,135.9 125.7,142.7 120.8,146.8 115.9,150.5 108.5,155.6 101.1,159.9 93.7,163.6 89.4,165.4 98.8,164.3 110.9,163.7 124.7,163.7 134.9,164 145.8,164.5 163.7,165.8 176.6,167 221.7,171.6 237.2,173 249.3,173.9 264.3,174.6 280.2,174.6 294.3,173.9 302.6,173.2 311.1,172.3ZM68.9,180.7 69,180.8 69,179 69.3,177.3 69.8,175.8 70.5,174.3 71.5,172.9 72.8,171.6 75.5,169.8 71.3,170.6 66.3,171.3 61.3,171.7 56.2,171.8Z"/>
<path fill="#00caff" d="M332.4,167.9 332.9,167.8 315.7,151.1 268.8,104.7 256.3,92 241.2,76.1 213.2,45.1 205.5,37.2 200.4,47 195.3,55.9 190.3,64 182.7,75.2 175.2,85.8 165.2,99.1 155.3,111.6 147.9,120.4 140.5,128.5 133.1,135.9 125.7,142.7 120.8,146.8 115.9,150.5 108.5,155.6 103.6,158.5 96.2,162.4 95.7,162.7 104.3,162.1 117.6,162 127.3,162.2 143.4,162.9 161.2,164.2 174,165.3 219.4,169.9 234.9,171.3 251,172.5 263.8,173 273,173.1 282.7,173 296.9,172.2 311.6,170.7ZM66.3,178.9 66.7,175.5 67.2,173.9 68,172.5 69.1,171 63.8,171.6 56.2,171.8Z"/>
<path fill="#00d0ff" d="M327.8,167.1 331.7,166.6 315.7,151.1 268.8,104.7 256.3,92 241.2,76.1 213.2,45.1 205.5,37.2 200.4,47 195.3,55.9 190.3,64 182.7,75.2 175.2,85.8 165.2,99.1 157.8,108.6 150.3,117.5 142.9,125.9 138,131.1 130.7,138.3 125.7,142.7 120.8,146.8 113.4,152.3 108.5,155.6 101.1,159.9 99.8,160.6 110.6,160.3 125,160.5 141.1,161.3 152.6,162 178,164.2 232.5,169.7 248.5,170.9 261.2,171.4 276.1,171.6 290.7,171.1 299.6,170.5 307.7,169.7ZM63.8,177.1 63.8,175.4 64.1,173.7 65,171.5 61.3,171.7 56.2,171.8Z"/>
<path fill="#00d6ff" d="M330.2,165.5 330.4,165.4 315.7,151.1 268.8,104.7 256.3,92 241.2,76.1 213.2,45.1 205.5,37.2 200.4,47 195.3,55.9 190.3,64 185.2,71.6 177.7,82.4 170.2,92.6 160.2,105.5 152.8,114.6 145.4,123.2 140.5,128.5 133.1,135.9 128.2,140.5 123.3,144.8 115.9,150.5 111,154 103.6,158.5 103.2,158.8 113,158.7 127.9,159.1 150.3,160.4 175.5,162.5 214.7,166.5 234.1,168.3 250.2,169.5 263,170 279.2,170.1 293.5,169.5 310.1,168ZM58.8,173.6 61.2,175.3 61.3,173.6 61.6,171.7 56.2,171.8Z"/>
<path fill="#00ddff" d="M325.6,164.7 329.2,164.3 318.1,153.6 273.8,109.6 256.3,92 241.2,76.1 213.2,45.1 205.5,37.2 200.4,47 195.3,55.9 190.3,64 185.2,71.6 177.7,82.4 170.2,92.6 162.7,102.3 155.3,111.6 147.9,120.4 142.9,125.9 135.6,133.5 130.7,138.3 123.3,144.8 118.4,148.7 113.4,152.3 106.1,157.1 125.7,157.6 148,158.8 173,160.9 231.6,166.7 247.6,167.9 260.3,168.5 269.2,168.7 277.2,168.7 291.7,168.1 306.1,167ZM56.2,171.8 58.7,173.5 58.7,171.8Z"/>
<path fill="#00e3ff" d="M327.8,163.1 328,163.1 315.7,151.1 271.3,107.1 256.3,92 241.2,76.1 213.2,45.1 205.5,37.2 200.4,47 195.3,55.9 190.3,64 185.2,71.6 177.7,82.4 170.2,92.6 162.7,102.3 155.3,111.6 147.9,120.4 142.9,125.9 135.6,133.5 130.7,138.3 125.7,142.7 120.8,146.8 115.9,150.5 108.5,155.6 128.8,156.2 151.8,157.7 177.3,159.9 229.2,165.1 245.1,166.3 258.6,167 275.3,167.2 291,166.7 308.4,165.4Z"/>
<path fill="#00e9ff" d="M323.3,162.4 326.8,162 271.3,107.1 256.3,92 241.2,76.1 213.2,45.1 205.5,37.2 203,42.3 197.9,51.6 192.8,60 187.7,67.8 180.2,78.8 172.7,89.2 165.2,99.1 157.8,108.6 150.3,117.5 145.4,123.2 138,131.1 133.1,135.9 128.2,140.5 123.3,144.8 118.4,148.7 111,154 110.8,154.1 132.2,155 155.7,156.6 175,158.3 226.7,163.4 242.5,164.7 256.5,165.5 272.7,165.8 288.3,165.5 304.4,164.4Z"/>
<path fill="#00efff" d="M325.3,160.8 325.6,160.8 271.3,107.1 253.8,89.4 238.7,73.3 215.8,47.9 210.7,42.4 205.5,37.2 203,42.3 197.9,51.6 192.8,60 187.7,67.8 180.2,78.8 172.7,89.2 165.2,99.1 157.8,108.6 150.3,117.5 145.4,123.2 140.5,128.5 135.6,133.5 128.2,140.5 123.3,144.8 118.4,148.7 113.4,152.3 112.9,152.7 130.1,153.5 153.5,155.1 179.4,157.4 224.1,161.8 239.9,163.1 256.5,164.1 265.2,164.3 274.4,164.4 289.5,164 306.5,162.8Z"/>
<path fill="#00f5ff" d="M320.9,160 324.4,159.6 271.3,107.1 256.3,92 241.2,76.1 213.2,45.1 205.5,37.2 203,42.3 197.9,51.6 192.8,60 187.7,67.8 182.7,75.2 175.2,85.8 167.7,95.9 160.2,105.5 152.8,114.6 147.9,120.4 138,131.1 130.7,138.3 125.7,142.7 120.8,146.8 115.9,150.5 114.8,151.3 133.6,152.3 151.4,153.6 170.5,155.2 229.4,160.9 241.3,161.8 253.7,162.6 271.4,163 286.1,162.8 302.6,161.8Z"/>
<path fill="#00fbff" d="M322.8,158.5 323.2,158.5 268.8,104.7 253.8,89.4 238.7,73.3 215.8,47.9 210.7,42.4 205.5,37.2 203,42.3 197.9,51.6 192.8,60 187.7,67.8 182.7,75.2 175.2,85.8 162.7,102.3 155.3,111.6 150.3,117.5 140.5,128.5 133.1,135.9 128.2,140.5 123.3,144.8 118.4,148.7 116.6,150 137.4,151.2 155.5,152.6 174.9,154.3 226.8,159.3 238.7,160.3 251,161 268.4,161.6 283.3,161.5 293.3,161.1 301.9,160.5Z"/>
<path fill="#00fffc" d="M318.4,157.7 322,157.4 271.3,107.1 256.3,92 241.2,76.1 213.2,45.1 205.5,37.2 203,42.3 197.9,51.6 190.3,64 185.2,71.6 177.7,82.4 165.2,99.1 152.8,114.6 142.9,125.9 135.6,133.5 130.7,138.3 125.7,142.7 120.8,146.8 118.4,148.7 135.3,149.7 153.5,151.1 172.8,152.8 224.2,157.8 248.2,159.5 265.4,160.2 281.7,160.2 289.7,159.9 300.7,159.2Z"/>
<path fill="#00fff6" d="M320.5,156.1 320.7,156 268.8,104.7 253.8,89.4 238.7,73.3 215.8,47.9 210.7,42.4 205.5,37.2 203,42.3 197.9,51.6 190.3,64 185.2,71.6 177.7,82.4 165.2,99.1 152.8,114.6 142.9,125.9 135.6,133.5 130.7,138.3 125.7,142.7 120.8,146.8 120.2,147.2 139,148.5 157.4,150 221.7,156 237.5,157.3 254,158.3 271.8,158.7 286.5,158.5 302.8,157.6Z"/>
<path fill="#00fff0" d="M316.2,155.2 319.5,154.9 268.8,104.7 253.8,89.4 238.7,73.3 215.8,47.9 210.7,42.4 205.5,37.2 203,42.3 197.9,51.6 190.3,64 185.2,71.6 177.7,82.4 165.2,99.1 152.8,114.6 142.9,125.9 138,131.1 133.1,135.9 128.2,140.5 123.3,144.8 121.8,146 155.5,148.5 219.1,154.5 234.8,155.8 247,156.6 264.2,157.3 273.3,157.4 283.1,157.2 298.9,156.5Z"/>
<path fill="#00ffea" d="M317.8,153.8 318.4,153.8 268.8,104.7 253.8,89.4 238.7,73.3 215.8,47.9 210.7,42.4 205.5,37.2 203,42.3 197.9,51.6 190.3,64 180.2,78.8 167.7,95.9 155.3,111.6 145.4,123.2 140.5,128.5 135.6,133.5 130.7,138.3 125.7,142.7 123.3,144.7 153.5,147.1 220.3,153.3 244.2,155.1 261.2,155.9 270.2,156 279.7,156 295.1,155.5Z"/>
<path fill="#00ffe4" d="M313.6,152.9 317.2,152.6 268.8,104.7 253.8,89.4 238.7,73.3 215.8,47.9 210.7,42.4 205.5,37.2 203,42.3 197.9,51.6 190.3,64 180.2,78.8 167.7,95.9 155.3,111.6 145.4,123.2 140.5,128.5 135.6,133.5 130.7,138.3 125.7,142.7 124.7,143.6 158,146.2 221.5,152.1 237.3,153.4 249.7,154.1 267.1,154.7 281.3,154.7 296.8,154.1Z"/>
<path fill="#00ffde" d="M315.2,151.6 316.1,151.5 268.8,104.7 251.3,86.8 238.7,73.3 215.8,47.9 210.7,42.4 205.5,37.2 203,42.3 197.9,51.6 190.3,64 180.2,78.8 170.2,92.6 157.8,108.6 147.9,120.4 138,131.1 133.1,135.9 128.2,140.5 126.1,142.4 162.6,145.4 218.7,150.6 242.7,152.4 259.5,153.2 277.9,153.4 293,153Z"/>
<path fill="#00ffd7" d="M311,150.7 315,150.4 268.8,104.7 253.8,89.4 238.7,73.3 215.8,47.9 210.7,42.4 205.5,37.2 203,42.3 197.9,51.6 190.3,64 180.2,78.8 170.2,92.6 157.8,108.6 147.9,120.4 138,131.1 133.1,135.9 128.2,140.5 127.4,141.2 160.7,144 219.9,149.5 243.9,151.2 260.9,152 276.9,152.2 294.6,151.7Z"/>
<path fill="#00ffd1" d="M312.5,149.4 313.8,149.3 266.3,102.2 251.3,86.8 238.7,73.3 215.8,47.9 210.7,42.4 205.5,37.2 200.4,47 192.8,60 187.7,67.8 182.7,75.2 172.7,89.2 160.2,105.5 150.3,117.5 140.5,128.5 135.6,133.5 130.7,138.3 128.7,140 165.4,143.2 217.1,148 241,149.8 258.7,150.6 276,150.9 290.9,150.6Z"/>
<path fill="#00ffcb" d="M308.5,148.4 312.7,148.2 268.8,104.7 253.8,89.4 238.7,73.3 215.8,47.9 210.7,42.4 205.5,37.2 200.4,47 192.8,60 187.7,67.8 182.7,75.2 172.7,89.2 160.2,105.5 150.3,117.5 140.5,128.5 135.6,133.5 130.7,138.3 130,138.9 214.3,146.5 242.2,148.6 259.1,149.4 277.4,149.6 292.4,149.3Z"/>
<path fill="#00ffc5" d="M309.9,147.2 311.6,147 268.8,104.7 253.8,89.4 238.7,73.3 215.8,47.9 210.7,42.4 205.5,37.2 200.4,47 192.8,60 187.7,67.8 182.7,75.2 172.7,89.2 162.7,102.3 152.8,114.6 142.9,125.9 138,131.1 133.1,135.9 131.2,137.8 211.4,145 239.3,147.2 256.1,148 274,148.4 288.7,148.2Z"/>
<path fill="#00ffbf" d="M305.9,146.2 310.5,145.9 268.8,104.7 253.8,89.4 238.7,73.3 215.8,47.9 210.7,42.4 205.5,37.2 200.4,47 192.8,60 187.7,67.8 182.7,75.2 172.7,89.2 162.7,102.3 152.8,114.6 142.9,125.9 138,131.1 133.1,135.9 132.4,136.7 212.5,143.9 232.3,145.5 244.6,146.3 261.7,147 275.4,147.1 290.1,146.9Z"/>
<path fill="#00ffb9" d="M307.2,144.9 309.3,144.8 268.8,104.7 253.8,89.4 238.7,73.3 215.8,47.9 210.7,42.4 205.5,37.2 200.4,47 192.8,60 185.2,71.6 175.2,85.8 165.2,99.1 155.3,111.6 145.4,123.2 140.5,128.5 135.6,133.5 133.5,135.5 209.6,142.4 237.5,144.6 254.2,145.5 272,145.9 286.5,145.8Z"/>
<path fill="#00ffb3" d="M303.2,144 308.2,143.7 268.8,104.7 253.8,89.4 238.7,73.3 215.8,47.9 210.7,42.4 205.5,37.2 200.4,47 192.8,60 185.2,71.6 177.7,82.4 167.7,95.9 157.8,108.6 147.9,120.4 138,131.1 134.7,134.4 198.8,140.3 222.5,142.3 246.9,143.9 264.2,144.6 282.9,144.6Z"/>
<path fill="#00ffad" d="M304.5,142.7 307.1,142.6 268.8,104.7 253.8,89.4 238.7,73.3 215.8,47.9 210.7,42.4 205.5,37.2 200.4,47 192.8,60 185.2,71.6 177.7,82.4 167.7,95.9 157.8,108.6 147.9,120.4 138,131.1 135.8,133.3 199.8,139.2 231.6,141.8 252.3,143 270,143.4 284.2,143.4Z"/>
<path fill="#00ffa7" d="M305.8,141.5 306,141.5 266.3,102.2 253.8,89.4 238.7,73.3 215.8,47.9 210.7,42.4 205.5,37.2 200.4,47 192.8,60 185.2,71.6 177.7,82.4 167.7,95.9 157.8,108.6 147.9,120.4 138,131.1 136.8,132.3 204.8,138.5 236.8,140.9 253.5,141.8 271.2,142.2 285.5,142.2Z"/>
<path fill="#00ffa1" d="M301.9,140.5 304.9,140.4 268.8,104.7 253.8,89.4 238.7,73.3 215.8,47.9 210.7,42.4 205.5,37.2 200.4,47 192.8,60 185.2,71.6 177.7,82.4 167.7,95.9 157.8,108.6 147.9,120.4 138,131.1 137.9,131.2 154,132.7 201.8,137 221.7,138.7 242,140 259,140.8 272.5,141 286.8,141Z"/>
<path fill="#00ff9a" d="M303.1,139.3 303.8,139.3 266.3,102.2 251.3,86.8 238.7,73.3 215.8,47.9 210.7,42.4 205.5,37.2 200.4,47 192.8,60 185.2,71.6 177.7,82.4 167.7,95.9 157.8,108.6 147.9,120.4 140.5,128.5 138.9,130.1 198.8,135.6 234.8,138.4 251.5,139.3 269.1,139.8 283.2,139.8Z"/>
<path fill="#00ff94" d="M299.2,138.3 302.7,138.2 268.8,104.7 253.8,89.4 238.7,73.3 215.8,47.9 210.7,42.4 205.5,37.2 200.4,47 192.8,60 185.2,71.6 177.7,82.4 167.7,95.9 157.8,108.6 147.9,120.4 140.5,128.5 139.9,129.1 164,131.4 211.7,135.5 235.9,137.3 252.6,138.2 270.3,138.6 284.4,138.6Z"/>
<path fill="#00ff8e" d="M300.4,137.1 301.6,137.1 266.3,102.2 248.8,84.2 236.2,70.6 215.8,47.9 210.7,42.4 205.5,37.2 200.4,47 195.3,55.9 187.7,67.8 180.2,78.8 170.2,92.6 160.2,105.5 150.3,117.5 142.9,125.9 140.9,128 184.9,132.1 224.7,135.4 245.2,136.7 262.4,137.3 280.8,137.5Z"/>
<path fill="#00ff88" d="M296.6,136.1 300.5,136 268.8,104.7 253.8,89.4 238.7,73.3 215.8,47.9 210.7,42.4 205.5,37.2 200.4,47 195.3,55.9 187.7,67.8 180.2,78.8 170.2,92.6 160.2,105.5 150.3,117.5 142.9,125.9 141.9,127 189.8,131.4 229.8,134.6 246.3,135.5 263.6,136.2 277.3,136.3Z"/>
<path fill="#00ff82" d="M297.7,135 299.4,134.9 266.3,102.2 251.3,86.8 238.7,73.3 215.8,47.9 210.7,42.4 205.5,37.2 200.4,47 195.3,55.9 187.7,67.8 180.2,78.8 170.2,92.6 160.2,105.5 150.3,117.5 142.9,125.9 158.8,127.5 194.7,130.7 218.6,132.6 239,134 251.6,134.6 269.2,135.1 283.1,135.2Z"/>
<path fill="#00ff7c" d="M293.9,133.9 298.3,133.8 266.3,102.2 251.3,86.8 238.7,73.3 215.8,47.9 210.7,42.4 205.5,37.2 200.4,47 195.3,55.9 190.3,64 182.7,75.2 172.7,89.2 162.7,102.3 152.8,114.6 145.4,123.2 143.8,124.9 179.6,128.3 219.6,131.6 240,132.9 257,133.7 274.9,134Z"/>
<path fill="#00ff76" d="M295,132.8 297.2,132.7 266.3,102.2 251.3,86.8 238.7,73.3 215.8,47.9 210.7,42.4 205.5,37.2 200.4,47 195.3,55.9 190.3,64 182.7,75.2 172.7,89.2 162.7,102.3 152.8,114.6 145.4,123.2 144.8,123.9 156.6,125.1 196.5,128.6 228.6,131.1 245.2,132 262.4,132.7 280.7,132.9Z"/>
<path fill="#00ff70" d="M291.3,131.7 296.1,131.6 266.3,102.2 251.3,86.8 238.7,73.3 215.8,47.9 210.7,42.4 205.5,37.2 200.4,47 195.3,55.9 190.3,64 182.7,75.2 175.2,85.8 165.2,99.1 155.3,111.6 147.9,120.4 145.7,122.8 177.4,125.9 209.4,128.5 233.7,130.2 254.8,131.3 272.5,131.7Z"/>
<path fill="#00ff6a" d="M292.3,130.6 295,130.5 266.3,102.2 251.3,86.8 238.7,73.3 215.8,47.9 210.7,42.4 205.5,37.2 200.4,47 195.3,55.9 190.3,64 182.7,75.2 175.2,85.8 165.2,99.1 155.3,111.6 147.9,120.4 146.6,121.8 182.3,125.2 222.4,128.4 243,129.6 260.2,130.3 278.2,130.6Z"/>
<path fill="#00ff64" d="M293.4,129.5 293.9,129.5 263.8,99.7 248.8,84.2 236.2,70.6 215.8,47.9 210.7,42.4 205.5,37.2 200.4,47 195.3,55.9 190.3,64 182.7,75.2 175.2,85.8 165.2,99.1 155.3,111.6 147.9,120.4 147.5,120.8 179.2,123.8 207.2,126.1 231.5,127.8 244,128.5 261.2,129.2 274.7,129.5Z"/>
<path fill="#00ff5e" d="M289.6,128.4 292.8,128.4 266.3,102.2 251.3,86.8 238.7,73.3 215.8,47.9 210.7,42.4 205.5,37.2 200.4,47 195.3,55.9 190.3,64 182.7,75.2 175.2,85.8 165.2,99.1 157.8,108.6 150.3,117.5 148.4,119.8 172,122.1 204,124.8 228.4,126.5 249.2,127.7 266.7,128.2Z"/>
<path fill="#00ff57" d="M290.6,127.3 291.7,127.3 263.8,99.7 248.8,84.2 236.2,70.6 215.8,47.9 210.7,42.4 205.5,37.2 200.4,47 195.3,55.9 190.3,64 182.7,75.2 175.2,85.8 165.2,99.1 157.8,108.6 150.3,117.5 149.3,118.8 176.9,121.4 217,124.7 237.6,126 254.5,126.7 272.2,127.2Z"/>
<path fill="#00ff51" d="M287,126.2 290.6,126.2 266.3,102.2 251.3,86.8 238.7,73.3 215.8,47.9 210.7,42.4 205.5,37.2 200.4,47 195.3,55.9 190.3,64 182.7,75.2 175.2,85.8 165.2,99.1 157.8,108.6 150.3,117.5 150.1,117.8 154,118.2 181.7,120.8 201.8,122.4 226.1,124.2 242.7,125.1 259.9,125.8Z"/>
<path fill="#00ff4b" d="M287.9,125.1 289.5,125.1 266.3,102.2 251.3,86.8 238.7,73.3 215.8,47.9 210.7,42.4 205.5,37.2 200.4,47 195.3,55.9 190.3,64 185.2,71.6 177.7,82.4 170.2,92.6 160.2,105.5 152.8,114.6 151,116.8 174.6,119.1 198.6,121.1 227,123.1 247.9,124.2 269.7,124.9Z"/>
<path fill="#00ff45" d="M284.3,124 288.4,124 266.3,102.2 251.3,86.8 238.7,73.3 215.8,47.9 210.7,42.4 205.5,37.2 200.4,47 195.3,55.9 190.3,64 185.2,71.6 177.7,82.4 170.2,92.6 160.2,105.5 152.8,114.6 151.8,115.8 179.4,118.4 211.6,121 232,122.3 248.8,123.2 266.2,123.8Z"/>
<path fill="#00ff3f" d="M285.2,123 287.3,123 266.3,102.2 251.3,86.8 238.7,73.3 215.8,47.9 210.7,42.4 205.5,37.2 200.4,47 195.3,55.9 190.3,64 185.2,71.6 177.7,82.4 170.2,92.6 160.2,105.5 152.8,114.6 152.7,114.8 156.5,115.2 184.2,117.8 204.3,119.4 224.7,120.8 254.1,122.3 267.2,122.7Z"/>
<path fill="#00ff39" d="M286.2,121.9 263.8,99.7 251.3,86.8 238.7,73.3 215.8,47.9 210.7,42.4 205.5,37.2 200.4,47 195.3,55.9 190.3,64 185.2,71.6 177.7,82.4 170.2,92.6 162.7,102.3 155.3,111.6 153.5,113.8 177,116.1 197.1,117.8 221.5,119.5 242.2,120.7 263.7,121.5Z"/>
<path fill="#00ff33" d="M282.5,120.8 285.2,120.8 263.8,99.7 251.3,86.8 238.7,73.3 215.8,47.9 210.7,42.4 205.5,37.2 200.4,47 195.3,55.9 190.3,64 185.2,71.6 177.7,82.4 170.2,92.6 162.7,102.3 155.3,111.6 154.3,112.8 181.8,115.5 210.1,117.7 226.4,118.7 247.4,119.8 264.7,120.5Z"/>
<path fill="#00ff2d" d="M283.5,119.7 284.1,119.7 263.8,99.7 248.8,84.2 236.2,70.6 215.8,47.9 210.7,42.4 205.5,37.2 200.4,47 195.3,55.9 190.3,64 185.2,71.6 177.7,82.4 170.2,92.6 162.7,102.3 155.3,111.6 155.1,111.8 159,112.3 178.6,114.1 198.7,115.8 219.1,117.2 239.8,118.4 252.6,119 270,119.5Z"/>
<path fill="#00ff27" d="M279.8,118.6 283,118.7 263.8,99.7 248.8,84.2 236.2,70.6 215.8,47.9 210.7,42.4 205.5,37.2 203,42.3 197.9,51.6 192.8,60 187.7,67.8 180.2,78.8 172.7,89.2 165.2,99.1 157.8,108.6 155.9,110.9 171.5,112.4 187.4,113.8 211.7,115.6 236.5,117.1 257.8,118.1Z"/>
<path fill="#00ff21" d="M280.7,117.6 281.9,117.6 263.8,99.7 248.8,84.2 236.2,70.6 215.8,47.9 210.7,42.4 205.5,37.2 203,42.3 197.9,51.6 192.8,60 187.7,67.8 180.2,78.8 172.7,89.2 165.2,99.1 157.8,108.6 156.7,109.9 176.2,111.8 204.4,114.1 224.9,115.4 241.6,116.3 263.1,117.2Z"/>
<path fill="#00ff1b" d="M277.1,116.5 280.8,116.5 261.3,97.1 248.8,84.2 236.2,70.6 215.8,47.9 210.7,42.4 205.5,37.2 203,42.3 197.9,51.6 192.8,60 187.7,67.8 180.2,78.8 172.7,89.2 165.2,99.1 157.8,108.6 157.5,108.9 177,110.8 197.1,112.5 217.5,113.9 246.7,115.5Z"/>
<path fill="#00ff14" d="M278,115.4 279.7,115.5 261.3,97.1 248.8,84.2 236.2,70.6 215.8,47.9 210.7,42.4 205.5,37.2 203,42.3 197.9,51.6 192.8,60 187.7,67.8 182.7,75.2 175.2,85.8 167.7,95.9 160.2,105.5 158.3,108 181.8,110.2 210.1,112.4 234.9,113.9 251.9,114.7Z"/>
<path fill="#00ff0e" d="M274.4,114.3 278.7,114.4 261.3,97.1 248.8,84.2 236.2,70.6 215.8,47.9 210.7,42.4 205.5,37.2 203,42.3 197.9,51.6 192.8,60 187.7,67.8 182.7,75.2 175.2,85.8 167.7,95.9 160.2,105.5 159,107 174.6,108.5 194.6,110.2 219.1,111.9 240,113.1 257,113.8Z"/>
<path fill="#00ff08" d="M275.3,113.3 277.6,113.3 261.3,97.1 248.8,84.2 236.2,70.6 215.8,47.9 210.7,42.4 205.5,37.2 203,42.3 197.9,51.6 192.8,60 187.7,67.8 182.7,75.2 175.2,85.8 167.7,95.9 160.2,105.5 159.8,106 171.4,107.2 191.3,108.9 211.7,110.4 245,112.2Z"/>
<path fill="#00ff00" d="M276.1,112.3 276.5,112.3 258.8,94.6 246.3,81.5 236.2,70.6 215.8,47.9 210.7,42.4 205.5,37.2 203,42.3 197.9,51.6 192.8,60 187.7,67.8 182.7,75.2 175.2,85.8 162.7,102.3 160.6,105.1 176.1,106.6 200.2,108.5 224.9,110.2 250.2,111.4Z"/>
<path fill="#09ff00" d="M273.3,110.3 274.5,110.3 261.3,97.1 248.8,84.2 236.2,70.6 215.8,47.9 210.7,42.4 205.5,37.2 203,42.3 197.9,51.6 192.8,60 187.7,67.8 182.7,75.2 175.2,85.8 162.7,102.3 162,103.3 181.5,105.2 201.6,106.7 234.7,108.8 251.7,109.6Z"/>
<path fill="#0fff00" d="M269.7,109.2 273.5,109.3 258.8,94.6 246.3,81.5 236.2,70.6 215.8,47.9 210.7,42.4 205.5,37.2 203,42.3 197.9,51.6 190.3,64 185.2,71.6 177.7,82.4 165.2,99.1 162.7,102.3 174.3,103.5 194.3,105.2 218.9,106.8 244,108.2Z"/>
<path fill="#15ff00" d="M270.5,108.2 272.4,108.2 258.8,94.6 246.3,81.5 236.2,70.6 215.8,47.9 210.7,42.4 205.5,37.2 203,42.3 197.9,51.6 190.3,64 185.2,71.6 177.7,82.4 165.2,99.1 163.5,101.4 179,102.9 199.1,104.5 223.8,106.1 244.8,107.2Z"/>
<path fill="#1bff00" d="M271.3,107.2 256.3,92 246.3,81.5 236.2,70.6 215.8,47.9 210.7,42.4 205.5,37.2 203,42.3 197.9,51.6 190.3,64 185.2,71.6 177.7,82.4 165.2,99.1 164.2,100.4 191.7,102.9 212.1,104.4 233,105.6 249.9,106.4Z"/>
<path fill="#21ff00" d="M267.7,106.1 270.3,106.1 256.3,92 246.3,81.5 236.2,70.6 215.8,47.9 210.7,42.4 205.5,37.2 203,42.3 197.9,51.6 190.3,64 185.2,71.6 177.7,82.4 165.2,99.1 164.9,99.5 176.5,100.6 204.7,102.9 237.9,104.8Z"/>
<path fill="#28ff00" d="M268.5,105.1 269.2,105.1 256.3,92 246.3,81.5 236.2,70.6 215.8,47.9 210.7,42.4 205.5,37.2 203,42.3 197.9,51.6 190.3,64 180.2,78.8 167.7,95.9 165.7,98.6 177.2,99.7 197.2,101.3 222,102.9 247.2,104.2Z"/>
<path fill="#2eff00" d="M265,103.9 268.2,104 256.3,92 246.3,81.5 236.2,70.6 215.8,47.9 210.7,42.4 205.5,37.2 203,42.3 197.9,51.6 190.3,64 180.2,78.8 167.7,95.9 166.4,97.6 185.9,99.4 202.1,100.7 222.7,102 239.5,102.8Z"/>
<path fill="#34ff00" d="M265.7,102.9 267.2,103 256.3,92 246.3,81.5 236.2,70.6 215.8,47.9 210.7,42.4 205.5,37.2 203,42.3 197.9,51.6 190.3,64 180.2,78.8 167.7,95.9 167.1,96.7 178.7,97.8 198.7,99.4 231.8,101.4Z"/>
<path fill="#3aff00" d="M262.2,101.8 266.1,101.9 256.3,92 246.3,81.5 236.2,70.6 215.8,47.9 210.7,42.4 205.5,37.2 203,42.3 197.9,51.6 190.3,64 180.2,78.8 170.2,92.6 167.8,95.7 171.6,96.1 191.3,97.9 211.8,99.3 236.8,100.7Z"/>
<path fill="#40ff00" d="M263,100.8 265.1,100.9 256.3,92 246.3,81.5 236.2,70.6 215.8,47.9 210.7,42.4 205.5,37.2 203,42.3 197.9,51.6 190.3,64 180.2,78.8 170.2,92.6 168.5,94.8 180.1,95.9 196.1,97.2 216.6,98.6 237.6,99.7Z"/>
<path fill="#46ff00" d="M263.7,99.9 264,99.9 253.8,89.4 243.8,78.8 215.8,47.9 210.7,42.4 205.5,37.2 203,42.3 197.9,51.6 190.3,64 180.2,78.8 170.2,92.6 169.2,93.9 188.7,95.7 221.5,97.9Z"/>
<path fill="#4cff00" d="M260.2,98.7 263,98.8 253.8,89.4 243.8,78.8 215.8,47.9 210.7,42.4 205.5,37.2 203,42.3 197.9,51.6 190.3,64 180.2,78.8 170.2,92.6 169.9,92.9 173.7,93.3 201.6,95.6 226.4,97.1Z"/>
<path fill="#52ff00" d="M260.9,97.8 262,97.8 253.8,89.4 243.8,78.8 215.8,47.9 210.7,42.4 205.5,37.2 200.4,47 192.8,60 187.7,67.8 182.7,75.2 172.7,89.2 170.6,92 174.4,92.4 194.2,94.1 214.7,95.5 239.8,96.8Z"/>
<path fill="#58ff00" d="M257.3,96.6 261,96.8 243.8,78.8 215.8,47.9 210.7,42.4 205.5,37.2 200.4,47 192.8,60 187.7,67.8 182.7,75.2 172.7,89.2 171.3,91.1 182.9,92.2 198.9,93.4 219.5,94.8Z"/>
<path fill="#5eff00" d="M258,95.7 260,95.8 243.8,78.8 215.8,47.9 210.7,42.4 205.5,37.2 200.4,47 192.8,60 187.7,67.8 182.7,75.2 172.7,89.2 172,90.1 191.5,91.9 224.4,94Z"/>
<path fill="#64ff00" d="M258.7,94.7 259,94.7 248.8,84.2 238.7,73.3 215.8,47.9 210.7,42.4 205.5,37.2 200.4,47 192.8,60 185.2,71.6 175.2,85.8 172.7,89.2 188.2,90.6 208.5,92.1 229.3,93.3Z"/>
<path fill="#6bff00" d="M255.2,93.6 258,93.7 243.8,78.8 215.8,47.9 210.7,42.4 205.5,37.2 200.4,47 192.8,60 185.2,71.6 175.2,85.8 173.4,88.3 177.2,88.7 188.9,89.7 209.2,91.2Z"/>
<path fill="#71ff00" d="M255.9,92.7 257,92.7 241.2,76.1 213.2,45.1 205.5,37.2 200.4,47 192.8,60 185.2,71.6 175.2,85.8 174,87.4 185.6,88.5 214,90.5Z"/>
<path fill="#77ff00" d="M252.3,91.5 256,91.7 241.2,76.1 213.2,45.1 205.5,37.2 200.4,47 192.8,60 185.2,71.6 175.2,85.8 174.7,86.4 194.3,88.2 218.9,89.8Z"/>
<path fill="#7dff00" d="M253,90.6 255,90.7 238.7,73.3 213.2,45.1 205.5,37.2 200.4,47 192.8,60 185.2,71.6 177.7,82.4 175.4,85.5 190.9,86.9 207.1,88.1Z"/>
<path fill="#83ff00" d="M253.7,89.7 254,89.7 238.7,73.3 215.8,47.9 210.7,42.4 205.5,37.2 200.4,47 192.8,60 185.2,71.6 177.7,82.4 176,84.6 179.9,85 191.6,86 211.9,87.5Z"/>
<path fill="#89ff00" d="M250.1,88.5 253.1,88.7 238.7,73.3 215.8,47.9 210.7,42.4 205.5,37.2 200.4,47 192.8,60 185.2,71.6 177.7,82.4 176.7,83.7 188.3,84.8 216.7,86.8Z"/>
<path fill="#8fff00" d="M250.8,87.6 252.1,87.7 238.7,73.3 215.8,47.9 210.7,42.4 205.5,37.2 200.4,47 192.8,60 185.2,71.6 177.7,82.4 177.4,82.8 196.9,84.5 217.4,85.8Z"/>
<path fill="#95ff00" d="M247.2,86.5 251.1,86.7 238.7,73.3 215.8,47.9 210.7,42.4 205.5,37.2 200.4,47 195.3,55.9 187.7,67.8 180.2,78.8 178,81.9 193.6,83.3 209.8,84.4Z"/>
<path fill="#9bff00" d="M247.9,85.6 250.2,85.7 238.7,73.3 215.8,47.9 210.7,42.4 205.5,37.2 200.4,47 195.3,55.9 187.7,67.8 180.2,78.8 178.7,81 194.2,82.4 206.3,83.2Z"/>
<path fill="#a1ff00" d="M248.5,84.6 249.2,84.7 236.2,70.6 215.8,47.9 210.7,42.4 205.5,37.2 200.4,47 195.3,55.9 187.7,67.8 180.2,78.8 179.3,80.1 190.9,81.1 215.2,82.8Z"/>
<path fill="#a8ff00" d="M244.9,83.5 248.3,83.7 236.2,70.6 215.8,47.9 210.7,42.4 205.5,37.2 200.4,47 195.3,55.9 187.7,67.8 180.2,78.8 180,79.1 199.5,80.8 220,82.2Z"/>
<path fill="#aeff00" d="M245.6,82.6 247.4,82.7 236.2,70.6 215.8,47.9 210.7,42.4 205.5,37.2 200.4,47 195.3,55.9 190.3,64 182.7,75.2 180.6,78.2 204.2,80.2Z"/>
<path fill="#b4ff00" d="M246.2,81.7 246.4,81.7 236.2,70.6 215.8,47.9 210.7,42.4 205.5,37.2 200.4,47 195.3,55.9 190.3,64 182.7,75.2 181.2,77.4 196.8,78.7 208.9,79.6Z"/>
<path fill="#baff00" d="M242.6,80.6 245.5,80.7 236.2,70.6 215.8,47.9 210.7,42.4 205.5,37.2 200.4,47 195.3,55.9 190.3,64 182.7,75.2 181.9,76.5 189.5,77.2 209.5,78.7Z"/>
<path fill="#c0ff00" d="M243.2,79.7 244.6,79.7 236.2,70.6 215.8,47.9 210.7,42.4 205.5,37.2 200.4,47 195.3,55.9 190.3,64 182.7,75.2 182.5,75.5 202,77.2Z"/>
<path fill="#c6ff00" d="M239.6,78.6 243.7,78.7 215.8,47.9 210.7,42.4 205.5,37.2 200.4,47 195.3,55.9 190.3,64 185.2,71.6 183.1,74.7 206.7,76.6Z"/>
<path fill="#ccff00" d="M240.2,77.7 242.8,77.8 215.8,47.9 210.7,42.4 205.5,37.2 200.4,47 195.3,55.9 190.3,64 185.2,71.6 183.7,73.8 207.3,75.7Z"/>
<path fill="#d2ff00" d="M240.8,76.7 241.9,76.8 215.8,47.9 210.7,42.4 205.5,37.2 200.4,47 195.3,55.9 190.3,64 185.2,71.6 184.3,72.9 188.1,73.2 212,75.1Z"/>
<path fill="#d8ff00" d="M237.3,75.6 241,75.8 215.8,47.9 210.7,42.4 205.5,37.2 200.4,47 195.3,55.9 190.3,64 185.2,71.6 184.9,72 196.5,73 216.6,74.4Z"/>
<path fill="#deff00" d="M237.8,74.7 240.1,74.8 215.8,47.9 210.7,42.4 205.5,37.2 203,42.3 197.9,51.6 192.8,60 187.7,67.8 185.5,71.1 209.1,73Z"/>
<path fill="#e4ff00" d="M238.4,73.8 239.2,73.9 215.8,47.9 210.7,42.4 205.5,37.2 203,42.3 197.9,51.6 192.8,60 187.7,67.8 186.1,70.2 209.7,72.1Z"/>
<path fill="#ebff00" d="M234.8,72.7 238.3,72.9 215.8,47.9 210.7,42.4 205.5,37.2 203,42.3 197.9,51.6 192.8,60 187.7,67.8 186.7,69.3 206.2,71Z"/>
<path fill="#f1ff00" d="M235.4,71.9 237.4,71.9 215.8,47.9 210.7,42.4 205.5,37.2 203,42.3 197.9,51.6 192.8,60 187.7,67.8 187.3,68.4 198.9,69.5 214.9,70.6Z"/>
<path fill="#f7ff00" d="M235.9,71 236.6,71 218.4,50.7 210.7,42.4 205.5,37.2 203,42.3 197.9,51.6 190.3,64 187.9,67.5 207.4,69.2Z"/>
<path fill="#fffe00" d="M232.4,69.9 235.7,70 215.8,47.9 210.7,42.4 205.5,37.2 203,42.3 197.9,51.6 190.3,64 188.5,66.7 204,68Z"/>
<path fill="#fff600" d="M233.4,68.2 234.1,68.2 220.9,53.5 213.2,45.1 205.5,37.2 203,42.3 197.9,51.6 190.3,64 189.6,65 209,66.7Z"/>
<path fill="#fff000" d="M229.8,67.1 233.2,67.2 215.8,47.9 210.7,42.4 205.5,37.2 203,42.3 197.9,51.6 190.3,64 190.2,64.1 201.7,65.1Z"/>
<path fill="#ffea00" d="M230.4,66.1 232.3,66.2 215.8,47.9 210.7,42.4 205.5,37.2 200.4,47 192.8,60 190.7,63.2 206.2,64.5Z"/>
<path fill="#ffe300" d="M230.9,65.2 231.4,65.2 218.4,50.7 210.7,42.4 205.5,37.2 200.4,47 192.8,60 191.3,62.3 206.7,63.6Z"/>
<path fill="#ffdd00" d="M227.4,64.1 230.5,64.3 215.8,47.9 210.7,42.4 205.5,37.2 200.4,47 192.8,60 191.9,61.4 207.3,62.7Z"/>
<path fill="#ffd700" d="M227.9,63.2 229.6,63.3 215.8,47.9 210.7,42.4 205.5,37.2 200.4,47 192.8,60 192.5,60.5 196.2,60.9 211.8,62.1Z"/>
<path fill="#ffd100" d="M228.5,62.3 228.7,62.3 215.8,47.9 210.7,42.4 205.5,37.2 200.4,47 195.3,55.9 193,59.6 204.5,60.6Z"/>
<path fill="#ffcb00" d="M224.9,61.2 227.9,61.3 213.2,45.1 205.5,37.2 200.4,47 195.3,55.9 193.6,58.7 208.9,60Z"/>
<path fill="#ffc500" d="M225.4,60.3 227,60.3 213.2,45.1 205.5,37.2 200.4,47 195.3,55.9 194.1,57.8 209.5,59.2Z"/>
<path fill="#ffbf00" d="M226,59.3 226.1,59.3 215.8,47.9 210.7,42.4 205.5,37.2 200.4,47 195.3,55.9 194.7,56.9 210,58.3Z"/>
<path fill="#ffb900" d="M222.4,58.2 225.2,58.4 213.2,45.1 205.5,37.2 200.4,47 195.3,55.9 195.2,56 198.9,56.4Z"/>
<path fill="#ffb200" d="M222.9,57.3 224.4,57.4 213.2,45.1 205.5,37.2 203,42.3 197.9,51.6 195.8,55.1 207.1,56.2Z"/>
<path fill="#ffac00" d="M223.4,56.4 213.2,45.1 205.5,37.2 203,42.3 197.9,51.6 196.3,54.3 211.6,55.6Z"/>
<path fill="#ffa600" d="M219.9,55.3 222.6,55.4 213.2,45.1 205.5,37.2 203,42.3 197.9,51.6 196.8,53.4Z"/>
<path fill="#ffa000" d="M220.4,54.4 221.8,54.5 213.2,45.1 205.5,37.2 203,42.3 197.9,51.6 197.3,52.5Z"/>
<path fill="#ff9a00" d="M217,53.3 220.9,53.5 213.2,45.1 205.5,37.2 203,42.3 197.9,51.6 201.5,52Z"/>
<path fill="#ff9400" d="M217.4,52.4 220,52.5 210.7,42.4 205.5,37.2 200.4,47 198.3,50.7Z"/>
<path fill="#ff8e00" d="M217.9,51.5 219.1,51.6 210.7,42.4 205.5,37.2 200.4,47 198.8,49.9Z"/>
<path fill="#ff8800" d="M214.5,50.3 218.3,50.6 210.7,42.4 205.5,37.2 200.4,47 199.3,49Z"/>
<path fill="#ff8100" d="M215,49.5 217.4,49.6 210.7,42.4 205.5,37.2 200.4,47 199.8,48.1Z"/>
<path fill="#ff7b00" d="M215.4,48.6 216.5,48.6 210.7,42.4 205.5,37.2 200.4,47 200.3,47.2 204,47.6Z"/>
<path fill="#ff7500" d="M212,47.4 215.6,47.7 210.7,42.4 205.5,37.2 203,42.3 200.8,46.4Z"/>
<path fill="#ff6f00" d="M212.5,46.6 214.7,46.7 205.5,37.2 203,42.3 201.2,45.5Z"/>
<path fill="#ff6900" d="M212.9,45.7 213.8,45.7 205.5,37.2 203,42.3 201.7,44.7Z"/>
<path fill="#ff6300" d="M209.6,44.5 212.9,44.8 205.5,37.2 203,42.3 202.2,43.8Z"/>
<path fill="#ff5d00" d="M210,43.7 212,43.8 205.5,37.2 203,42.3 202.6,42.9Z"/>
<path fill="#ff5700" d="M210.5,42.8 211.1,42.8 205.5,37.2 203.1,42.1Z"/>
<path fill="#ff5000" d="M207.2,41.6 210.1,41.8 205.5,37.2 203.5,41.2Z"/>
<path fill="#ff4a00" d="M207.6,40.7 209.2,40.8 205.5,37.2 203.9,40.4Z"/>
<path fill="#ff4400" d="M208,39.9 208.2,39.9 205.5,37.2 204.4,39.5Z"/>
<path fill="#ff3e00" d="M204.8,38.7 207.2,38.9 205.5,37.2Z"/>
<path fill="#ff3900" d="M205.2,37.8 206.2,37.9 205.5,37.2Z"/>
<path d="M205.5,258.9 213,255.2 220.4,251.6 246.4,239.3 261.3,232.1 302.3,211.9 317.3,204.6 343.4,192.3 350.9,188.5 354.6,186.6M205.5,258.9 198.1,256.1 190.7,252.9 183.3,249.5 175.9,245.9 168.5,242.1 157.4,236.2 146.2,230 135.1,223.6 123.9,216.9 116.4,212.3 105.2,205.3 97.7,200.4 90.2,195.5 78.9,187.8 56.2,171.8M198.1,256.1 205.6,252.5 227.9,242.2 239,236.9 250.2,231.5 257.6,227.8 272.5,220.1 306.1,202.4 332.3,188.9 339.8,184.9 347.3,180.6M213,255.2 205.6,252.5 198.1,249.5 190.7,246.3 183.3,242.9 175.9,239.3 164.8,233.6 153.7,227.7 142.5,221.6 131.4,215.3 120.2,208.7 109,201.9 101.5,197.2 94,192.3 86.5,187.3 78.9,182.1 63.8,171.6M190.7,252.9 216.7,241.2 227.9,236 235.3,232.5 242.8,228.8 253.9,223 261.4,219 272.6,212.9 321.2,185.5 332.5,179 340,174.3M220.4,251.6 213,249.1 205.6,246.2 198.2,243.1 190.8,239.8 179.6,234.6 168.5,229.1 157.4,223.3 146.2,217.4 135.1,211.2 127.6,207 116.4,200.3 108.9,195.7 101.5,191 90.2,183.6 82.7,178.5 71.3,170.6M183.3,249.5 205.6,239.9 213,236.6 220.5,233.1 227.9,229.5 235.3,225.8 242.8,221.9 250.2,217.9 257.7,213.7 268.9,207.2 291.4,193.7 317.7,177.6 325.2,172.8 332.8,167.6M227.8,248 220.4,245.6 213,242.9 205.6,239.9 198.2,236.7 187.1,231.6 176,226.2 164.8,220.7 153.7,214.9 142.5,208.9 135.1,204.7 123.9,198.3 116.4,193.8 108.9,189.1 97.7,181.8 90.1,176.8 78.8,168.9M175.9,245.9 190.8,239.8 198.2,236.7 205.6,233.4 213.1,230 220.5,226.4 227.9,222.7 235.4,218.8 242.8,214.6 250.3,210.3 261.5,203.5 269,198.8 280.2,191.5 299,179.2 310.3,171.6 317.9,166.3 325.5,160.7M235.3,244.5 227.9,242.2 220.4,239.5 213,236.6 201.9,231.8 190.8,226.7 179.7,221.4 168.5,215.9 157.4,210.1 146.2,204.1 138.8,200 127.6,193.5 120.1,189 112.6,184.3 105.1,179.5 97.6,174.4 86.3,166.6M168.5,242.1 179.6,237.8 187.1,234.9 198.2,230.1 205.6,226.8 216.8,221.3 224.2,217.5 231.7,213.3 239.1,209 246.6,204.4 257.8,197.2 265.3,192.2 276.5,184.4 291.6,173.7 302.9,165.5 310.5,159.7 314.3,156.7 318.1,153.6M242.7,241 235.3,238.7 227.9,236 220.5,233.1 209.3,228.4 198.2,223.4 187.1,218.1 176,212.7 164.8,207 153.7,201.1 146.2,196.9 135,190.5 127.5,186 120.1,181.3 112.5,176.5 105,171.4 93.7,163.6M161.1,238.2 172.2,234.2 179.7,231.3 190.8,226.7 198.2,223.4 205.7,219.8 209.4,218 216.8,214 224.2,209.9 231.7,205.4 239.2,200.7 250.4,193.2 257.9,187.9 269.1,179.6 284.2,168.1 295.6,159.2 303.2,153 307,149.7 310.8,146.3M250.2,237.5 242.7,235.2 235.3,232.5 227.9,229.5 216.8,224.8 205.7,219.8 194.5,214.6 183.4,209.1 172.2,203.5 161.1,197.6 153.6,193.4 142.4,187 135,182.5 127.5,177.8 120,172.9 112.4,167.8 101.1,159.9M153.7,234.2 164.8,230.4 172.2,227.7 179.7,224.8 183.4,223.2 190.8,219.9 198.2,216.4 202,214.5 209.4,210.5 216.8,206.3 224.3,201.7 231.7,196.9 235.5,194.3 242.9,189 250.4,183.5 261.7,174.7 276.8,162.5 288.2,152.9 295.8,146.2 299.6,142.7 303.5,139M257.6,233.9 250.2,231.5 242.8,228.8 235.3,225.8 224.2,221.1 213.1,216 202,210.8 187.1,203.4 175.9,197.6 164.8,191.6 157.3,187.4 149.8,183 142.4,178.4 134.9,173.7 127.4,168.7 119.8,163.6 108.5,155.6M146.2,230 153.7,227.7 157.4,226.5 164.8,223.9 172.2,221.1 176,219.6 183.4,216.3 190.8,212.8 194.5,210.9 202,206.9 209.4,202.6 216.8,198 224.3,192.9 228,190.3 235.5,184.8 243,179 254.3,169.7 261.8,163.3 269.4,156.8 280.8,146.6 288.4,139.4 292.2,135.6 296.1,131.6M265,230.3 257.6,227.8 250.2,225 239.1,220.4 227.9,215.4 216.8,210.2 205.7,204.8 194.5,199.2 183.4,193.3 172.2,187.2 164.7,182.9 157.3,178.5 149.8,173.8 142.3,169 134.8,163.9 127.2,158.6 115.9,150.5M138.8,225.7 146.2,223.7 150,222.6 157.4,220.1 164.8,217.4 168.5,215.9 176,212.7 183.4,209.1 187.1,207.3 194.5,203.2 202,198.8 209.4,194.1 216.9,188.9 220.6,186.2 228.1,180.5 235.6,174.4 246.8,164.7 254.4,158 262,151 273.4,140.2 281,132.6 284.8,128.5 288.7,124.3M272.5,226.7 265.1,224 257.7,221.1 246.5,216.3 235.4,211.2 224.3,205.9 213.1,200.3 202,194.6 190.8,188.6 179.6,182.3 172.2,177.9 164.7,173.4 157.2,168.6 149.7,163.6 142.2,158.4 134.6,153 123.3,144.8M131.3,221.4 138.8,219.5 142.5,218.5 150,216.2 157.4,213.5 161.1,212.1 168.5,208.9 176,205.4 179.7,203.5 187.1,199.4 194.5,195 198.2,192.6 205.7,187.5 213.1,182 220.6,176.1 228.1,169.8 231.9,166.5 239.4,159.6 246.9,152.5 254.5,145.2 265.9,133.8 273.6,125.7 277.4,121.5 281.3,117M280,223 272.5,220.1 261.4,215.4 254,212 242.9,206.8 231.7,201.2 220.6,195.5 209.4,189.6 198.2,183.4 187.1,176.9 179.6,172.4 172.1,167.7 164.6,162.8 157.1,157.6 149.6,152.3 130.7,138.3M123.9,216.9 131.4,215.3 135.1,214.3 142.5,212.1 150,209.6 157.4,206.6 161.1,205 168.5,201.5 172.2,199.6 179.7,195.5 187.1,191 190.8,188.6 198.2,183.4 205.7,177.7 213.2,171.6 220.6,165 224.4,161.6 231.9,154.5 239.5,147 247,139.3 258.4,127.3 266.1,118.8 269.9,114.3 273.8,109.6M287.4,219.2 280,216.2 268.9,211.2 261.4,207.6 250.3,202.1 239.2,196.3 228,190.3 216.9,184.1 205.7,177.7 194.5,171 187,166.3 179.5,161.4 172,156.3 164.5,151 157,145.5 138,131.1M116.4,212.3 120.2,211.7 123.9,210.9 127.6,210.1 131.4,209.1 135.1,208 142.5,205.5 146.2,204.1 153.7,201.1 161.1,197.6 164.8,195.6 172.2,191.5 179.6,186.9 183.3,184.4 187.1,181.8 190.8,179.1 198.2,173.3 205.7,166.9 213.2,160.1 216.9,156.6 224.4,149.2 232,141.4 239.5,133.4 251,120.8 258.6,111.9 262.5,107.2 266.3,102.2M294.9,215.5 287.5,212.2 276.3,206.9 268.9,203.1 257.8,197.2 246.7,191.1 231.8,182.7 220.6,176.1 209.4,169.3 202,164.6 194.5,159.7 187,154.6 179.5,149.3 168.2,140.9 145.4,123.2M108.9,207.7 112.7,207.1 116.4,206.5 120.2,205.7 123.9,204.8 127.6,203.8 131.3,202.6 135.1,201.4 138.8,200 142.5,198.5 146.2,196.9 149.9,195.3 153.6,193.4 157.3,191.5 161,189.5 164.8,187.3 168.5,185.1 172.2,182.7 175.9,180.1 179.6,177.5 183.3,174.7 187,171.7 190.8,168.7 194.5,165.5 201.9,158.7 209.4,151.4 213.2,147.6 220.7,139.7 232,127.3 239.6,118.6 243.5,114.1 251.1,104.8 255,99.8 258.8,94.6M302.3,211.9 294.9,208.3 283.8,202.5 276.4,198.5 265.3,192.2 254.2,185.7 239.3,176.7 228.1,169.8 216.9,162.6 209.4,157.6 201.9,152.5 194.4,147.2 186.9,141.6 175.6,132.9 152.8,114.6M101.5,202.9 105.2,202.4 109,201.9 112.7,201.2 116.4,200.3 120.2,199.4 123.9,198.3 127.6,197.1 131.3,195.7 135,194.3 138.7,192.7 142.5,191 146.2,189.2 149.9,187.3 153.6,185.2 157.3,183 161,180.7 164.7,178.3 168.4,175.7 172.1,172.9 175.8,170.1 179.6,167.1 183.3,163.9 187,160.6 194.4,153.6 201.9,146 205.7,142.1 213.2,133.9 224.5,121 232.1,112 235.9,107.3 243.6,97.5 247.4,92.3 251.3,86.8M309.8,208.2 302.4,204.3 291.3,198.1 283.9,193.8 272.8,187 261.7,180 246.8,170.5 235.6,163.1 224.4,155.5 216.9,150.3 209.4,144.9 198.2,136.4 186.8,127.4 167.9,111.7 160.2,105.5M94,198 97.7,197.6 101.5,197.2 105.2,196.5 108.9,195.7 112.7,194.8 116.4,193.8 120.1,192.6 123.9,191.3 127.6,189.9 131.3,188.3 135,186.6 138.7,184.8 142.4,182.8 146.1,180.7 149.8,178.5 153.5,176.2 157.2,173.7 160.9,171 164.6,168.2 168.3,165.3 172.1,162.2 175.8,158.9 179.5,155.5 186.9,148.2 194.4,140.5 198.2,136.4 205.7,127.9 217,114.5 224.6,105.1 228.4,100.3 232.2,95.3 236,90.1 239.9,84.6 243.8,78.8M317.3,204.6 309.9,200.4 302.5,196 295.1,191.4 284,184.2 272.9,176.7 258,166.6 243.1,156.1 231.9,148.1 224.5,142.5 216.9,136.8 205.7,127.9 194.3,118.5 175.3,102.2 167.7,95.9M86.4,192.9 90.2,192.7 94,192.3 97.7,191.7 101.5,191 105.2,190.1 108.9,189.1 112.6,188 116.4,186.7 120.1,185.3 123.8,183.7 127.5,182 131.2,180.2 134.9,178.2 138.6,176.1 142.3,173.8 146,171.4 149.7,168.8 153.4,166.1 157.1,163.3 160.8,160.2 164.6,157 168.3,153.7 172,150.2 175.7,146.5 183.1,138.7 186.9,134.7 194.4,126.1 201.9,117.1 209.4,107.8 217,98.1 220.8,93 224.6,87.8 228.5,82.4 232.3,76.7 236.2,70.6M324.7,201.1 317.4,196.6 310,191.8 302.6,186.8 291.5,179 280.4,171 265.6,160.1 250.7,148.9 239.5,140.3 232,134.5 224.5,128.4 213.2,119 201.9,109.2 182.8,92.3 175.2,85.8M78.9,187.8 82.7,187.6 86.5,187.3 90.2,186.8 93.9,186.1 97.7,185.3 101.4,184.3 105.1,183.2 108.9,181.9 112.6,180.5 116.3,178.9 120,177.2 123.7,175.4 127.4,173.4 131.1,171.2 134.8,168.9 138.5,166.4 142.2,163.8 145.9,161 149.6,158.1 153.3,155 157,151.7 160.7,148.3 164.4,144.6 168.2,140.9 175.6,132.9 179.3,128.6 186.8,119.8 194.3,110.6 201.8,100.9 209.4,90.9 213.2,85.6 217,80.2 220.9,74.5 224.7,68.5 228.6,62.1M332.2,197.6 324.8,192.7 317.5,187.6 310.1,182.2 302.8,176.7 291.7,168.1 276.9,156.4 258.3,141.5 247.1,132.4 235.8,123 224.5,113.2 213.2,103 190.4,81.9 186.5,78.5 182.7,75.2M71.4,182.5 75.1,182.4 78.9,182.1 82.7,181.7 86.4,181.1 90.2,180.3 93.9,179.3 97.6,178.2 101.4,177 105.1,175.5 108.8,174 112.5,172.2 116.2,170.4 119.9,168.3 123.6,166.1 127.3,163.8 131,161.3 134.7,158.6 138.4,155.8 142.1,152.7 145.8,149.5 149.5,146.2 153.2,142.6 156.9,138.9 160.6,135 164.3,131 171.7,122.5 175.5,118 182.9,108.7 190.5,99 194.2,94 201.8,83.6 205.6,78.2 209.4,72.5 213.2,66.6 217.1,60.3 220.9,53.5M339.7,194.1 332.3,188.9 325,183.3 317.7,177.6 310.3,171.6 291.9,156.1 254.7,124.1 243.5,114.1 232.2,103.8 220.8,93 201.8,74.5 194.1,67.3 190.3,64M63.8,177.1 67.6,177.1 71.4,176.9 75.1,176.5 78.9,175.9 82.6,175.1 86.4,174.2 90.1,173.1 93.8,171.8 97.5,170.4 101.3,168.8 105,167.1 108.7,165.2 112.4,163.1 116.1,160.9 119.8,158.5 123.5,156 127.2,153.2 130.8,150.3 134.5,147.2 138.2,143.9 141.9,140.5 145.6,136.8 149.3,133 153,129.1 156.7,124.9 164.1,116.2 167.9,111.7 175.3,102.2 182.8,92.3 186.6,87.1 194.1,76.5 197.9,70.9 201.7,65 205.6,58.8 209.4,52.3 213.2,45.1M347.1,190.4 343.5,187.7 336.2,182 328.9,175.9 321.5,169.6 306.9,156.4 262.4,115.4 251.1,104.8 239.8,93.8 228.5,82.4 209.4,62.7 201.7,55.1 197.9,51.6M56.2,171.8 60,171.8 63.8,171.6 67.6,171.2 71.3,170.6 75.1,169.9 78.8,168.9 82.6,167.9 86.3,166.6 90,165.2 93.7,163.6 97.4,161.8 101.1,159.9 104.8,157.8 108.5,155.6 112.2,153.1 115.9,150.5 119.6,147.7 123.3,144.8 127,141.6 130.7,138.3 134.3,134.8 138,131.1 141.7,127.2 145.4,123.2 149.1,119 156.5,110.1 160.2,105.5 167.7,95.9 175.2,85.8 178.9,80.6 186.5,69.7 190.3,64 194.1,57.9 197.9,51.6 201.7,44.7 205.5,37.2M354.6,186.6 351,183.7 343.7,177.5 336.4,171 329.1,164.2 318.1,153.6 266.3,102.2 255.1,90.7 243.8,78.8 236.2,70.6 217.1,49.3 209.4,41.1 205.5,37.2" fill="none" stroke="#000" stroke-opacity="0.9" stroke-width="0.68" stroke-linejoin="round"/>
<circle cx="57.9" cy="206.3" r="1.45" fill="#000"/>
<circle cx="56.9" cy="184.5" r="1.45" fill="#000"/>
<circle cx="55.8" cy="162.8" r="1.45" fill="#000"/>
<circle cx="54.7" cy="141" r="1.45" fill="#000"/>
<circle cx="53.6" cy="119.2" r="1.45" fill="#000"/>
<circle cx="52.6" cy="97.4" r="1.45" fill="#000"/>
<circle cx="51.5" cy="75.6" r="1.45" fill="#000"/>
<circle cx="50.4" cy="53.8" r="1.45" fill="#000"/>
<circle cx="205.5" cy="323.6" r="1.45" fill="#000"/>
<circle cx="234.7" cy="309.6" r="1.45" fill="#000"/>
<circle cx="263.9" cy="295.6" r="1.45" fill="#000"/>
<circle cx="293" cy="281.6" r="1.45" fill="#000"/>
<circle cx="322.2" cy="267.6" r="1.45" fill="#000"/>
<circle cx="351.4" cy="253.6" r="1.45" fill="#000"/>
<circle cx="176.5" cy="309.7" r="1.45" fill="#000"/>
<circle cx="147.4" cy="295.8" r="1.45" fill="#000"/>
<circle cx="118.4" cy="281.8" r="1.45" fill="#000"/>
<circle cx="89.3" cy="267.9" r="1.45" fill="#000"/>
<circle cx="60.3" cy="254" r="1.45" fill="#000"/>
<text transform="translate(51.7 202.9) scale(0.985 1)" font-size="11.4" text-anchor="end">0</text>
<text transform="translate(50.7 181.1) scale(0.985 1)" font-size="11.4" text-anchor="end">20</text>
<text transform="translate(49.6 159.4) scale(0.985 1)" font-size="11.4" text-anchor="end">40</text>
<text transform="translate(48.5 137.6) scale(0.985 1)" font-size="11.4" text-anchor="end">60</text>
<text transform="translate(47.4 115.8) scale(0.985 1)" font-size="11.4" text-anchor="end">80</text>
<text transform="translate(46.4 94) scale(0.985 1)" font-size="11.4" text-anchor="end">100</text>
<text transform="translate(45.3 72.2) scale(0.985 1)" font-size="11.4" text-anchor="end">120</text>
<text transform="translate(44.2 50.4) scale(0.985 1)" font-size="11.4" text-anchor="end">140</text>
<text transform="translate(212.5 336.6) scale(0.945 1)" font-size="11.4" text-anchor="start">0.13</text>
<text transform="translate(241.7 322.6) scale(0.945 1)" font-size="11.4" text-anchor="start">0.136</text>
<text transform="translate(270.9 308.6) scale(0.945 1)" font-size="11.4" text-anchor="start">0.142</text>
<text transform="translate(300 294.6) scale(0.945 1)" font-size="11.4" text-anchor="start">0.148</text>
<text transform="translate(329.2 280.6) scale(0.945 1)" font-size="11.4" text-anchor="start">0.154</text>
<text transform="translate(358.4 266.6) scale(0.945 1)" font-size="11.4" text-anchor="start">0.16</text>
<text transform="translate(198.5 336.4) scale(0.945 1)" font-size="11.4" text-anchor="end">0.25</text>
<text transform="translate(169.5 322.5) scale(0.945 1)" font-size="11.4" text-anchor="end">0.5</text>
<text transform="translate(140.4 308.6) scale(0.945 1)" font-size="11.4" text-anchor="end">0.75</text>
<text transform="translate(111.4 294.6) scale(0.985 1)" font-size="11.4" text-anchor="end">1</text>
<text transform="translate(82.3 280.7) scale(0.945 1)" font-size="11.4" text-anchor="end">1.25</text>
<text transform="translate(53.3 266.8) scale(0.945 1)" font-size="11.4" text-anchor="end">1.5</text>
<text x="334.9" y="323.6" font-size="13.6" text-anchor="middle">A: D1 (cm)</text>
<text x="76.4" y="323.8" font-size="13.6" text-anchor="middle">C: Lr</text>
<text x="11" y="157.3" font-size="13.5" text-anchor="middle" transform="rotate(-90 11 157.3)">Power (mW)</text>
</g>
<g>
<path d="M258.1,732.9 406.1,661.7 258.1,606.8 110.6,661.7Z" fill="#ffff85" stroke="#111" stroke-width="0.9" stroke-linejoin="round"/>
<path d="M234.9,721.7 238.4,716.9 241.8,712.6 245.4,708.2 249.3,703.7 257.6,694.6 262.1,689.9 269.2,682.8 274.2,678 282,670.7 295.8,658.3 310.4,645.9 326.9,632.3" fill="none" stroke="#045de4" stroke-width="1.3" stroke-linecap="round"/>
<path d="M189.3,699.7 198.5,691.3 207.3,683.6 216.8,675.6 229.8,665.1 243.7,654.4 258,643.7 272.6,633 291.8,619.3" fill="none" stroke="#0492e4" stroke-width="1.3" stroke-linecap="round"/>
<path d="M164.8,687.9 174.1,680.4 184.6,672.3 195.7,664 207.2,655.6 219.1,647.2 235.3,636 251.7,625 271.5,611.8" fill="none" stroke="#04bde4" stroke-width="1.3" stroke-linecap="round"/>
<path d="M142.8,677.3 152.5,670.3 162.3,663.4 172.1,656.7 184.1,648.8 206.7,634.1 238.6,614.1" fill="none" stroke="#04e4dc" stroke-width="1.3" stroke-linecap="round"/>
<path d="M124.8,668.6 136,661.2 146.7,654.4 158.7,647 171.9,638.9" fill="none" stroke="#04e4b0" stroke-width="1.3" stroke-linecap="round"/>
<path d="M108.2,613.4 258.1,563.1 408.3,613.4M107.1,591.4 258.2,543.2 409.3,591.4M106,569.3 258.2,523.2 410.2,569.3M104.9,547.3 258.2,503.2 411.2,547.3M103.8,525.2 258.2,483.3 412.2,525.2M102.7,503.1 258.3,463.3 413.2,503.1M101.6,481.1 258.3,443.4 414.2,481.1M100.5,459 258.3,423.4 415.2,459M145.7,600.9 139.9,450.1M183.2,588.3 179.4,441.2M220.7,575.7 218.9,432.3M378.2,603.4 383.8,451.9M348.2,593.3 352.4,444.8M318.2,583.3 321.1,437.6M288.2,573.2 289.7,430.5M258.1,563.1 258.3,423.4M110.6,661.7 100.5,459M406.1,661.7 415.2,459" fill="none" stroke="#1a1a1a" stroke-width="0.75"/>
<path fill="#0031ff" d="M258.1,660.3 290.8,648.1 325.9,634.7 366.1,618.9 408.8,601.9 386.2,593.6 366.2,585.5 346.1,576.9 328.6,568.6 311.1,559.8 293.5,550.1 275.9,539.7 258.2,528.4 105.6,561.2 134,582.3 151.9,595.4 169.7,607.9 185,618.1 202.7,629.3 220.3,639.9 238,649.7Z"/>
<path fill="#0037ff" d="M258.1,660.3 285.7,650 313.4,639.5 343.5,627.8 375.9,615 378.1,610.3 381.1,605.2 384.8,599.9 388.9,594.6 368.7,586.6 351.2,579.1 333.6,571.1 318.6,563.7 303.5,555.7 288.4,547.2 273.3,538.1 258.2,528.4 105.6,561.2 134,582.3 151.9,595.4 169.7,607.9 185,618.1 202.7,629.3 220.3,639.9 238,649.7Z"/>
<path fill="#003dff" d="M258.1,660.3 300.8,644.3 347.8,626.2 349,623.7 352.2,618.4 354,615.7 358.2,610.1 365.5,601.4 371.1,595.4 376.6,589.8 358.7,582.4 343.6,575.7 328.6,568.6 313.6,561.1 298.5,553 285.9,545.8 273.3,538.1 258.2,528.4 105.6,561.2 134,582.3 151.9,595.4 169.7,607.9 185,618.1 202.7,629.3 220.3,639.9 238,649.7Z"/>
<path fill="#0043ff" d="M258.1,660.3 288.2,649.1 323.2,635.7 326.2,630.5 329.9,624.9 334.3,619.2 339.4,613.2 345,607.1 351.1,600.8 357.7,594.5 367.1,585.9 353.7,580.2 338.6,573.4 323.6,566.2 311.1,559.8 296,551.6 283.4,544.3 270.8,536.6 258.2,528.4 105.6,561.2 134,582.3 151.9,595.4 169.7,607.9 185,618.1 202.7,629.3 220.3,639.9 238,649.7Z"/>
<path fill="#0049ff" d="M258.1,660.3 301.6,644 304.7,638.7 308.4,633.1 312.9,627.2 320.8,618.1 326.8,611.8 336.8,602.1 347.8,592.1 359,582.5 343.6,575.7 331.1,569.9 318.6,563.7 306,557.1 293.5,550.1 280.9,542.8 270.8,536.6 258.2,528.4 105.6,561.2 134,582.3 151.9,595.4 169.7,607.9 185,618.1 202.7,629.3 220.3,639.9 238,649.7Z"/>
<path fill="#004fff" d="M258.1,660.3 282.3,651.3 285.4,645.9 287.1,643.1 291.2,637.3 298.5,628.3 307.3,618.8 317.4,609 328.5,598.9 340.6,588.7 352,579.4 338.6,573.4 326.1,567.4 313.6,561.1 303.5,555.7 291,548.7 280.9,542.8 270.8,536.6 258.2,528.4 105.6,561.2 134,582.3 151.9,595.4 169.7,607.9 185,618.1 202.7,629.3 220.3,639.9 238,649.7Z"/>
<path fill="#0055ff" d="M258.1,660.3 265,657.7 267.9,652.3 269.6,649.5 273.6,643.8 278.2,637.8 286.3,628.5 292.5,622 299.3,615.4 306.7,608.6 318.6,598.3 331.4,587.8 345.7,576.6 333.6,571.1 323.6,566.2 311.1,559.8 301,554.4 291,548.7 280.9,542.8 270.8,536.6 258.2,528.4 105.6,561.2 134,582.3 151.9,595.4 169.7,607.9 185,618.1 202.7,629.3 220.3,639.9 238,649.7Z"/>
<path fill="#005bff" d="M250.5,656.4 252.4,657.4 255.5,652.5 259.6,646.6 267,637.5 275.9,627.9 286.1,617.9 297.6,607.6 310.2,597 323.7,586.4 340,574 328.6,568.6 318.6,563.7 308.5,558.4 298.5,553 280.9,542.8 270.8,536.6 260.7,530.1 258.2,528.4 105.6,561.2 134,582.3 149.3,593.6 167.2,606.2 182.4,616.4 197.6,626.2 215.3,636.9 232.9,647Z"/>
<path fill="#0061ff" d="M243,652.4 243.9,652.9 246.9,648.9 251.8,642.8 257.3,636.5 263.6,629.9 270.4,623.3 281.8,613 290,605.9 303.3,595.2 317.3,584.4 334.7,571.6 316.1,562.4 306,557.1 296,551.6 278.4,541.2 260.7,530.1 258.2,528.4 105.6,561.2 134,582.3 149.3,593.6 164.6,604.4 179.9,614.8 195.1,624.6 210.3,633.9 225.4,642.7Z"/>
<path fill="#0067ff" d="M235.4,648.4 236.6,649 243,641.3 252.3,631.6 262.9,621.4 275,610.9 283.6,603.8 297.5,592.9 312.2,582 329.9,569.3 313.6,561.1 296,551.6 278.4,541.2 260.7,530.1 258.2,528.4 105.6,561.2 146.8,591.7 162.1,602.6 174.8,611.4 190,621.4 205.2,630.9 220.3,639.9Z"/>
<path fill="#006dff" d="M227.9,644.2 230,645.4 238.5,636.2 248.9,626.1 260.7,615.6 273.8,604.9 283.1,597.6 297.9,586.5 313.2,575.5 325.3,567 308.5,558.4 293.5,550.1 278.4,541.2 260.7,530.1 258.2,528.4 105.6,561.2 144.2,589.9 159.5,600.8 172.3,609.6 187.5,619.7 200.2,627.8 212.8,635.4Z"/>
<path fill="#0073ff" d="M222.9,641.3 224.1,642 232.2,633.8 243.2,623.5 255.6,612.9 269.3,602 279.1,594.6 294.4,583.4 321.1,564.9 306,557.1 291,548.7 275.9,539.7 260.7,530.1 258.2,528.4 105.6,561.2 144.2,589.9 157,599 169.7,607.9 182.4,616.4 195.1,624.6 207.7,632.4Z"/>
<path fill="#0079ff" d="M217.8,638.4 218.7,638.9 226.8,631 238.5,620.6 247,613.4 260.9,602.5 270.8,595 286.4,583.8 302.7,572.6 317.1,562.9 303.5,555.7 288.4,547.2 275.9,539.7 260.7,530.1 258.2,528.4 105.6,561.2 141.7,588 154.4,597.2 167.2,606.2 179.9,614.8 192.6,623 205.2,630.9Z"/>
<path fill="#007fff" d="M212.8,635.4 213.7,635.9 222.2,627.9 234.6,617.3 243.5,610.1 258.1,599 268.4,591.5 284.5,580.1 313.2,560.9 298.5,553 285.9,545.8 273.3,538.1 260.7,530.1 258.2,528.4 105.6,561.2 141.7,588 164.6,604.4 177.4,613.1 190,621.4 200.2,627.8Z"/>
<path fill="#0085ff" d="M207.7,632.4 208.9,633.1 218.5,624.5 231.5,613.8 240.9,606.4 256,595.2 277.8,580 294.8,568.6 309.6,559 298.5,553 285.9,545.8 273.3,538.1 260.7,530.1 258.2,528.4 105.6,561.2 139.1,586.1 162.1,602.6 174.8,611.4 185,618.1 195.1,624.6Z"/>
<path fill="#008bff" d="M202.7,629.3 204.5,630.4 215.5,620.9 224.4,613.6 234,606.3 244.1,598.8 254.8,591.2 271.5,579.7 288.8,568.3 306.1,557.1 293.5,550.1 283.4,544.3 273.3,538.1 260.7,530.1 258.2,528.4 105.6,561.2 139.1,586.1 159.5,600.8 172.3,609.6 182.4,616.4Z"/>
<path fill="#0091ff" d="M200.2,627.8 200.3,627.8 213.2,617 222.6,609.6 232.6,602.2 243.2,594.6 254.2,586.9 271.5,575.4 302.8,555.3 291,548.7 280.9,542.8 270.8,536.6 260.7,530.1 258.2,528.4 105.6,561.2 139.1,586.1 159.5,600.8 179.9,614.8Z"/>
<path fill="#0097ff" d="M195.1,624.6 196.2,625.3 207,616.5 221.5,605.4 231.9,597.8 248.6,586.3 272.1,570.9 299.6,553.6 280.9,542.8 270.8,536.6 260.7,530.1 258.2,528.4 105.6,561.2 136.5,584.2 157,599 177.4,613.1Z"/>
<path fill="#009dff" d="M190,621.4 192.4,622.9 201.1,615.9 210.7,608.5 221,601 237.6,589.5 261.1,574 279.5,562.4 296.5,551.9 278.4,541.2 260.7,530.1 258.2,528.4 105.6,561.2 136.5,584.2 154.4,597.2 172.3,609.6Z"/>
<path fill="#00a3ff" d="M187.5,619.7 188.7,620.5 200.3,611.4 210.5,604 221.2,596.3 238.4,584.7 262.7,569.2 293.6,550.2 278.4,541.2 260.7,530.1 258.2,528.4 105.6,561.2 134,582.3 151.9,595.4 169.7,607.9Z"/>
<path fill="#00a9ff" d="M185,618.1 185.2,618.2 195.2,610.6 205.4,603 216.4,595.4 227.9,587.6 239.9,579.8 258.5,568.1 290.7,548.6 275.9,539.7 260.7,530.1 258.2,528.4 105.6,561.2 134,582.3 151.9,595.4 169.7,607.9Z"/>
<path fill="#00afff" d="M179.9,614.8 181.8,616 190.3,609.6 200.7,602 211.8,594.3 223.5,586.6 235.7,578.7 254.6,567 287.9,546.9 273.3,538.1 260.7,530.1 258.2,528.4 105.6,561.2 134,582.3 149.3,593.6 164.6,604.4Z"/>
<path fill="#00b5ff" d="M177.4,613.1 178.5,613.8 190.9,604.7 201.8,597 213.4,589.3 225.6,581.4 251,565.7 285.3,545.4 273.3,538.1 260.7,530.1 258.2,528.4 105.6,561.2 146.8,591.7 162.1,602.6Z"/>
<path fill="#00bbff" d="M174.8,611.4 175.3,611.7 186.6,603.5 197.7,595.8 209.5,588 221.8,580.1 247.7,564.3 282.6,543.8 270.8,536.6 260.7,530.1 258.2,528.4 105.6,561.2 146.8,591.7 162.1,602.6Z"/>
<path fill="#00c1ff" d="M169.7,607.9 172.2,609.6 182.6,602.2 193.9,594.5 205.9,586.6 218.4,578.7 244.6,562.9 280.1,542.3 270.8,536.6 260.7,530.1 258.2,528.4 105.6,561.2 144.2,589.9 157,599Z"/>
<path fill="#00c7ff" d="M167.2,606.2 169.2,607.5 178.8,600.8 190.3,593.1 202.4,585.2 215.2,577.3 241.8,561.3 277.6,540.8 260.7,530.1 258.2,528.4 105.6,561.2 141.7,588 154.4,597.2Z"/>
<path fill="#00cdff" d="M164.6,604.4 166.2,605.5 175.2,599.3 186.9,591.6 199.3,583.7 212.2,575.7 239.2,559.7 275.2,539.3 260.7,530.1 258.2,528.4 105.6,561.2 141.7,588Z"/>
<path fill="#00d3ff" d="M162.1,602.6 163.4,603.5 171.8,597.8 183.7,590 196.3,582.1 209.5,574.1 236.9,558 272.9,537.8 260.7,530.1 258.2,528.4 105.6,561.2 139.1,586.1Z"/>
<path fill="#00d9ff" d="M159.5,600.8 160.6,601.6 168.6,596.2 180.7,588.3 193.5,580.4 206.9,572.4 234.8,556.3 270.6,536.4 260.7,530.1 258.2,528.4 105.6,561.2 139.1,586.1Z"/>
<path fill="#00dfff" d="M157,599 157.9,599.7 165.6,594.5 178,586.6 191,578.6 204.6,570.6 232.9,554.5 268.3,535 260.7,530.1 258.2,528.4 105.6,561.2 136.5,584.2Z"/>
<path fill="#00e5ff" d="M154.4,597.2 155.2,597.8 169,588.8 181.9,580.9 195.5,572.8 209.6,564.7 231.2,552.6 266.1,533.6 260.7,530.1 258.2,528.4 105.6,561.2 136.5,584.2Z"/>
<path fill="#00ebff" d="M151.9,595.4 152.5,595.9 166.5,587 179.6,579 193.4,570.9 207.7,562.8 229.7,550.6 263.9,532.2 260.7,530.1 258.2,528.4 105.6,561.2 134,582.3Z"/>
<path fill="#00f1ff" d="M149.3,593.6 150,594 164.1,585.2 177.5,577.1 191.6,569 206.1,560.8 228.4,548.7 261.8,530.8 260.7,530.1 258.2,528.4 105.6,561.2 134,582.3Z"/>
<path fill="#00f7ff" d="M146.8,591.7 147.4,592.2 161.9,583.3 175.6,575.2 189.9,567 204.7,558.8 227.2,546.6 259.7,529.4 258.2,528.4 105.6,561.2Z"/>
<path fill="#00fffe" d="M144.2,589.9 144.9,590.4 166.7,577.3 188.4,565 218.6,548.6 256.3,528.8 105.6,561.2Z"/>
<path fill="#00fff6" d="M139.1,586.1 140.6,587.3 158.4,576.8 180.4,564.4 211.3,547.9 242.3,531.8 105.6,561.2Z"/>
<path fill="#00fff0" d="M136.5,584.2 138.2,585.5 156.8,574.7 179.2,562.3 202.8,549.8 234.2,533.6 105.6,561.2Z"/>
<path fill="#00ffea" d="M134,582.3 135.9,583.8 155.3,572.6 173.5,562.6 194.1,551.7 226.1,535.3 105.6,561.2Z"/>
<path fill="#00ffe4" d="M131.4,580.4 133.5,582 150.4,572.4 169.5,562 193.6,549.4 218,537.1 105.6,561.2Z"/>
<path fill="#00ffde" d="M128.8,578.5 131.2,580.3 148.2,570.8 167.3,560.5 184.9,551.3 209.7,538.8 105.6,561.2Z"/>
<path fill="#00ffd8" d="M128.8,578.5 128.9,578.6 144.1,570.2 159.9,561.7 176.2,553.3 201.3,540.6 105.6,561.2Z"/>
<path fill="#00ffd2" d="M126.2,576.6 126.6,576.9 143,567.9 157.3,560.4 192.9,542.4 105.6,561.2Z"/>
<path fill="#00ffcc" d="M123.7,574.7 124.4,575.2 150.3,561.4 184.3,544.3 105.6,561.2Z"/>
<path fill="#00ffc6" d="M121.1,572.8 122.1,573.5 147.2,560.3 175.6,546.1 105.6,561.2Z"/>
<path fill="#00ffc0" d="M118.5,570.8 119.9,571.9 140.7,561 166.8,548 105.6,561.2Z"/>
<path fill="#00ffba" d="M115.9,568.9 117.7,570.2 137.2,560.2 157.8,549.9 105.6,561.2Z"/>
<path fill="#00ffb4" d="M113.3,567 115.5,568.6 130.9,560.7 148.7,551.9 105.6,561.2Z"/>
<path fill="#00ffae" d="M110.8,565 113.3,566.9 139.5,553.9 105.6,561.2Z"/>
<path fill="#00ffa8" d="M110.8,565 111.1,565.3 130.1,555.9 105.6,561.2Z"/>
<path fill="#00ffa2" d="M108.2,563.1 108.9,563.6 120.5,558 105.6,561.2Z"/>
<path fill="#00ff9d" d="M105.6,561.2 106.7,562 110.7,560.1Z"/>
<path d="M258.1,660.3 273.2,654.7 292,647.7 325.9,634.7 363.6,619.9 408.8,601.9M258.1,660.3 246.8,654.4 239.2,650.4 227.9,644.2 220.3,639.9 209,633.2 201.4,628.5 193.8,623.8 186.2,618.9 171,608.8 163.4,603.5 151.9,595.4 132.7,581.4 105.6,561.2M250.5,656.4 265.6,651 284.5,644.1 318.4,631.4 356.1,616.9 401.3,599.2M265.6,657.5 254.3,651.8 246.8,647.8 235.5,641.7 227.9,637.4 216.6,630.8 209,626.3 201.4,621.6 193.8,616.8 186.2,611.9 178.6,606.8 171,601.6 159.5,593.6 151.8,588.1 140.3,579.7 113.3,559.5M243,652.4 258.1,647.1 277,640.4 310.9,628 348.6,613.8 393.7,596.4M273.2,654.7 261.9,649.1 254.3,645.2 243,639.1 235.5,634.9 224.1,628.5 216.6,624 209,619.4 201.4,614.6 193.8,609.8 186.2,604.8 178.6,599.6 167.1,591.7 159.5,586.3 147.9,577.9 120.9,557.9M235.4,648.4 250.5,643.2 269.4,636.6 303.4,624.4 344.8,609.2 386.2,593.6M280.7,651.9 269.4,646.4 261.9,642.5 250.6,636.6 243,632.5 231.7,626.1 224.1,621.7 212.8,614.8 205.2,610.1 197.6,605.2 190,600.2 182.4,595.1 170.9,587.2 163.2,581.7 151.7,573.4 128.6,556.2M227.9,644.2 243,639.1 261.9,632.7 295.8,620.8 314.7,614.1 337.3,605.9 378.7,590.6M288.2,649.1 276.9,643.6 269.4,639.9 258.1,634 250.6,630 239.2,623.7 231.7,619.3 220.3,612.6 212.8,607.9 205.2,603.1 197.6,598.2 189.9,593.1 178.5,585.3 170.8,579.9 159.3,571.6 136.2,554.6M220.3,639.9 235.5,634.9 254.3,628.7 288.3,617.1 307.2,610.5 329.8,602.5 371.2,587.6M295.8,646.2 284.5,640.9 277,637.2 265.7,631.4 258.1,627.4 246.8,621.2 239.2,617 227.9,610.3 220.3,605.7 212.7,601 205.1,596.2 197.5,591.2 186.1,583.4 178.5,578.1 167,569.9 143.9,552.9M212.8,635.4 227.9,630.7 246.8,624.6 280.8,613.3 299.6,606.9 322.2,599.1 363.7,584.5M303.3,643.4 292,638.1 284.5,634.5 273.2,628.8 265.7,624.9 254.4,618.8 246.8,614.6 235.5,608.1 227.9,603.5 220.3,598.9 212.7,594.1 205.1,589.2 193.7,581.5 186.1,576.3 174.6,568.2 163.1,559.8 151.5,551.3M205.2,630.9 220.3,626.2 239.2,620.3 258.1,614.3 277,608.1 314.7,595.5 356.2,581.3M310.9,640.5 299.6,635.3 292,631.7 280.7,626.2 273.2,622.3 261.9,616.3 254.4,612.2 243,605.8 235.5,601.3 227.9,596.7 220.3,592 212.7,587.2 201.3,579.6 193.7,574.4 182.2,566.4 170.7,558.1 159.1,549.6M197.6,626.2 212.8,621.7 231.7,616 250.6,610.1 269.5,604.1 307.2,591.8 348.7,578M318.4,637.6 307.1,632.5 299.6,629 288.3,623.5 280.8,619.7 269.5,613.8 261.9,609.8 250.6,603.5 243,599.1 231.7,592.3 224.1,587.6 216.5,582.7 205.1,575.2 197.5,570 186,561.9 166.8,548M190,621.4 205.2,617 224.1,611.5 243,605.8 261.9,600 299.7,588.1 341.1,574.6M325.9,634.7 314.6,629.7 303.4,624.4 292.1,619 284.5,615.2 273.2,609.4 265.7,605.3 254.4,599 246.8,594.6 235.5,587.8 227.9,583.1 220.3,578.2 212.7,573.3 205.1,568.1 193.6,560.2 185.9,554.7 174.4,546.4M182.4,616.4 197.6,612.2 216.5,606.8 235.5,601.3 254.4,595.7 292.1,584.1 333.6,571.1M333.5,631.8 322.2,626.8 310.9,621.7 299.6,616.3 292.1,612.6 280.8,606.9 273.2,602.9 261.9,596.7 254.4,592.4 243,585.7 235.4,581 227.9,576.3 220.3,571.3 212.7,566.3 201.2,558.4 193.6,553 182.1,544.7M174.8,611.4 190,607.3 209,602.1 227.9,596.7 246.8,591.3 284.6,580.1 326.1,567.4M341,628.8 329.7,624 318.4,618.9 307.2,613.7 299.6,610 288.3,604.4 280.8,600.5 269.5,594.4 261.9,590.1 250.6,583.5 243,579 235.4,574.3 227.8,569.4 220.2,564.4 208.8,556.7 201.2,551.3 189.7,543.1M167.2,606.2 182.4,602.2 201.4,597.2 220.3,592 239.2,586.8 277.1,575.9 318.6,563.7M348.5,625.9 337.3,621.1 326,616.2 314.7,611 307.2,607.4 295.9,601.9 288.3,598 277,592 269.5,587.9 258.2,581.4 250.6,576.9 243,572.3 235.4,567.5 227.8,562.5 216.4,554.9 208.8,549.6 197.3,541.5M159.5,600.8 193.7,592.2 212.7,587.2 231.7,582.1 269.5,571.6 311.1,559.8M356.1,622.9 344.8,618.2 333.5,613.4 322.2,608.3 314.7,604.8 303.4,599.3 295.9,595.6 284.6,589.7 277,585.6 265.7,579.2 258.2,574.8 250.6,570.2 243,565.5 235.4,560.7 224,553.1 216.4,547.9 204.9,539.9M151.9,595.4 186.1,587 224.1,577.3 261.9,567.2 303.5,555.7M363.6,619.9 352.3,615.4 341,610.6 329.8,605.6 322.2,602.2 311,596.8 303.4,593.1 292.1,587.3 284.6,583.3 273.3,577 265.7,572.7 258.2,568.2 250.6,563.6 243,558.8 231.6,551.3 224,546.2 212.6,538.2M144.2,589.9 178.5,581.7 216.5,572.3 254.4,562.6 296,551.6M371.1,616.9 359.9,612.5 348.6,607.8 337.3,602.9 329.8,599.5 318.5,594.2 311,590.6 299.7,584.9 292.1,581 280.8,574.8 273.3,570.6 265.7,566.2 258.2,561.6 250.6,556.9 239.2,549.5 231.6,544.5 220.2,536.6M136.5,584.2 174.6,575.4 212.7,566.3 250.6,556.9 288.4,547.2M378.7,614 367.4,609.5 356.1,604.9 344.8,600.1 337.3,596.8 326,591.7 318.5,588.1 307.2,582.5 299.7,578.7 288.4,572.6 280.8,568.4 269.5,561.9 262,557.3 254.4,552.6 246.8,547.7 239.2,542.7 227.8,535M128.8,578.5 167,569.9 205,561.1 243,552 280.9,542.8M386.2,610.9 374.9,606.6 363.6,602.1 352.4,597.4 344.8,594.2 333.6,589.1 326,585.6 314.8,580.1 307.2,576.3 295.9,570.4 288.4,566.3 277.1,559.8 269.5,555.4 262,550.7 254.4,545.9 246.8,541 235.4,533.3M121.1,572.8 163.1,563.5 201.2,554.9 239.2,546.1 273.3,538.1M393.7,607.9 382.4,603.7 371.2,599.3 359.9,594.7 352.4,591.5 341.1,586.5 333.6,583.1 322.3,577.7 314.8,574 303.5,568.2 296,564.1 284.6,557.8 277.1,553.4 269.5,548.8 262,544.1 254.4,539.3 243,531.7M113.3,567 197.3,548.6 265.8,533.4M401.3,604.9 390,600.8 378.7,596.4 367.4,591.9 359.9,588.8 348.6,583.9 341.1,580.5 329.8,575.3 322.3,571.6 311,565.9 303.5,561.9 292.2,555.7 284.7,551.4 277.1,546.9 269.5,542.3 262,537.5 250.6,530.1M105.6,561.2 258.2,528.4M408.8,601.9 397.5,597.8 386.2,593.6 375,589.1 367.4,586.1 356.2,581.3 344.9,576.3 333.6,571.1 326.1,567.4 314.8,561.7 307.3,557.8 299.8,553.7 292.2,549.4 284.7,545 277.1,540.5 269.6,535.8 258.2,528.4" fill="none" stroke="#000" stroke-opacity="0.9" stroke-width="0.68" stroke-linejoin="round"/>
<circle cx="108.2" cy="613.4" r="1.45" fill="#000"/>
<circle cx="107.1" cy="591.4" r="1.45" fill="#000"/>
<circle cx="106" cy="569.3" r="1.45" fill="#000"/>
<circle cx="104.9" cy="547.3" r="1.45" fill="#000"/>
<circle cx="103.8" cy="525.2" r="1.45" fill="#000"/>
<circle cx="102.7" cy="503.1" r="1.45" fill="#000"/>
<circle cx="101.6" cy="481.1" r="1.45" fill="#000"/>
<circle cx="100.5" cy="459" r="1.45" fill="#000"/>
<circle cx="258.1" cy="732.9" r="1.45" fill="#000"/>
<circle cx="295.1" cy="715.1" r="1.45" fill="#000"/>
<circle cx="332.1" cy="697.3" r="1.45" fill="#000"/>
<circle cx="369.1" cy="679.5" r="1.45" fill="#000"/>
<circle cx="406.1" cy="661.7" r="1.45" fill="#000"/>
<circle cx="228.6" cy="718.7" r="1.45" fill="#000"/>
<circle cx="199.1" cy="704.4" r="1.45" fill="#000"/>
<circle cx="169.6" cy="690.2" r="1.45" fill="#000"/>
<circle cx="140.1" cy="675.9" r="1.45" fill="#000"/>
<circle cx="110.6" cy="661.7" r="1.45" fill="#000"/>
<text transform="translate(102 610) scale(0.985 1)" font-size="11.4" text-anchor="end">0</text>
<text transform="translate(100.9 588) scale(0.985 1)" font-size="11.4" text-anchor="end">20</text>
<text transform="translate(99.8 565.9) scale(0.985 1)" font-size="11.4" text-anchor="end">40</text>
<text transform="translate(98.7 543.9) scale(0.985 1)" font-size="11.4" text-anchor="end">60</text>
<text transform="translate(97.6 521.8) scale(0.985 1)" font-size="11.4" text-anchor="end">80</text>
<text transform="translate(96.5 499.7) scale(0.985 1)" font-size="11.4" text-anchor="end">100</text>
<text transform="translate(95.4 477.7) scale(0.985 1)" font-size="11.4" text-anchor="end">120</text>
<text transform="translate(94.3 455.6) scale(0.985 1)" font-size="11.4" text-anchor="end">140</text>
<text transform="translate(265.1 745.9) scale(0.985 1)" font-size="11.4" text-anchor="start">2</text>
<text transform="translate(302.1 728.1) scale(0.985 1)" font-size="11.4" text-anchor="start">4</text>
<text transform="translate(339.1 710.3) scale(0.985 1)" font-size="11.4" text-anchor="start">6</text>
<text transform="translate(376.1 692.5) scale(0.985 1)" font-size="11.4" text-anchor="start">8</text>
<text transform="translate(413.1 674.7) scale(0.985 1)" font-size="11.4" text-anchor="start">10</text>
<text transform="translate(251.1 745.7) scale(0.945 1)" font-size="11.4" text-anchor="end">0.25</text>
<text transform="translate(221.6 731.5) scale(0.945 1)" font-size="11.4" text-anchor="end">0.5</text>
<text transform="translate(192.1 717.2) scale(0.945 1)" font-size="11.4" text-anchor="end">0.75</text>
<text transform="translate(162.6 703) scale(0.985 1)" font-size="11.4" text-anchor="end">1</text>
<text transform="translate(133.1 688.7) scale(0.945 1)" font-size="11.4" text-anchor="end">1.25</text>
<text transform="translate(103.6 674.5) scale(0.945 1)" font-size="11.4" text-anchor="end">1.5</text>
<text x="388.6" y="732.3" font-size="13.6" text-anchor="middle">B: Ar</text>
<text x="127.8" y="732.3" font-size="13.6" text-anchor="middle">C: Lr</text>
<text x="59.6" y="564" font-size="13.5" text-anchor="middle" transform="rotate(-90 59.6 564)">Power (mW)</text>
</g>
<g>
<path d="M258.1,1138.3 406.1,1067.1 258.1,1012.2 110.6,1067.1Z" fill="#ffff85" stroke="#111" stroke-width="0.9" stroke-linejoin="round"/>
<path d="M181,1040.9 186,1043.9 192.9,1048.3 199.7,1053 206,1057.4 211.8,1061.7 217.9,1066.3 221.3,1069 226.3,1073.3 230,1076.7 232.3,1079 235.3,1082.2 237.6,1085.2 238.8,1087 239.5,1088.2 240.5,1090.4 241,1091.9 241.3,1094 241.3,1094.7 241.2,1096 240.8,1097.2 240.3,1098.3 239.6,1099.3 238.8,1100.2 237.8,1101.1 236.6,1101.9 235.2,1102.6 233.7,1103.2 230.3,1104.3 226.3,1105.1 221.6,1105.7 216.4,1105.9 210.4,1105.8 207.2,1105.6 200.2,1105 196.5,1104.5 192.5,1104 184.1,1102.6" fill="none" stroke="#044be4" stroke-width="1.3" stroke-linecap="round"/>
<path d="M204.3,1032.2 215.6,1037.3 227.7,1043.3 243.2,1051.3 263.7,1062.2 278.1,1070.2 290.1,1077.1 299.2,1082.5 316.3,1092.9 322.5,1096.6 327.7,1099.4 333.2,1102.2" fill="none" stroke="#0498e4" stroke-width="1.3" stroke-linecap="round"/>
<path d="M223.5,1025.1 229.6,1027.4 237,1030.3 244.1,1033.3 251,1036.5 269.4,1045.1 338.8,1078.5 345.7,1081.7 351.4,1084.2 357.3,1086.7 361.8,1088.4" fill="none" stroke="#04e4e1" stroke-width="1.3" stroke-linecap="round"/>
<path d="M238.1,1019.7 244.4,1021.8 250.5,1024 256.3,1026.3 263.4,1029.3 274.4,1034.2 312.7,1051.5 350.2,1068.2 367.2,1075.5 373.1,1077.8 379.1,1080.1" fill="none" stroke="#04e49d" stroke-width="1.3" stroke-linecap="round"/>
<path d="M250.6,1015 255.4,1016.5 261.6,1018.7 267.5,1020.9 274.8,1023.7 283.3,1027.2 305.6,1036.7 321.1,1043.1 394.4,1072.7" fill="none" stroke="#04e456" stroke-width="1.3" stroke-linecap="round"/>
<path d="M108.2,1018.8 258.1,968.5 408.3,1018.8M107.1,996.8 258.2,948.6 409.3,996.8M106,974.7 258.2,928.6 410.2,974.7M104.9,952.7 258.2,908.6 411.2,952.7M103.8,930.6 258.2,888.7 412.2,930.6M102.7,908.5 258.3,868.7 413.2,908.5M101.6,886.5 258.3,848.8 414.2,886.5M100.5,864.4 258.3,828.8 415.2,864.4M138.2,1008.8 132.1,857.3M168.2,998.7 163.6,850.2M198.2,988.7 195.2,843M228.2,978.6 226.7,835.9M370.7,1006.3 376,855.5M333.2,993.7 336.8,846.6M295.7,981.1 297.5,837.7M258.1,968.5 258.3,828.8M110.6,1067.1 100.5,864.4M406.1,1067.1 415.2,864.4" fill="none" stroke="#1a1a1a" stroke-width="0.75"/>
<path fill="#0002ff" d="M258.1,1055.9 268.2,1053.8 275.7,1051.7 283.3,1049.3 293.3,1045.4 303.4,1040.7 313.5,1035.4 323.6,1029.3 331.2,1024.3 338.9,1018.8 349.1,1010.8 356.7,1004.3 367,995.1 377.4,985.1 387.8,974.7 400.8,961 411.4,949.5 396,945.6 383.3,942.1 339.9,929.3 324.6,925 278.6,913.1 268.4,910.1 258.2,906.4 253.1,913 248,918.9 240.4,926.8 230.3,936.4 212.7,952.3 200.2,963.1 190.2,971.3 180.3,978.7 172.8,983.8 165.3,988.5 157.9,992.8 147.9,998 137.9,1002.6 128,1006.7 118,1010.4 107.9,1013.6 162.7,1028.6 215.3,1043.9Z"/>
<path fill="#0009ff" d="M258.1,1055.9 268.2,1053.8 275.7,1051.7 283.3,1049.3 293.3,1045.4 303.4,1040.7 313.5,1035.4 323.6,1029.3 331.2,1024.3 338.9,1018.8 349.1,1010.8 356.7,1004.3 367,995.1 377.4,985.1 387.8,974.7 400.8,961 411.4,949.5 396,945.6 383.3,942.1 339.9,929.3 324.6,925 278.6,913.1 268.4,910.1 258.2,906.4 253.1,913 248,918.9 242.9,924.2 235.3,931.7 225.2,941 212.7,952.3 202.7,961 192.7,969.3 185.2,975.1 175.3,982.2 170.3,985.5 162.8,990 157.9,992.8 150.4,996.7 137.8,1002.6 137.6,1004.6 137.1,1006 136.3,1007.5 134.5,1009.3 133.5,1010.1 131.7,1011.2 129.6,1012.3 124.5,1013.9 121.6,1014.6 115.2,1015.7 162.7,1028.6 215.3,1043.9Z"/>
<path fill="#000fff" d="M258.1,1055.9 268.2,1053.8 275.7,1051.7 283.3,1049.3 293.3,1045.4 303.4,1040.7 313.5,1035.4 323.6,1029.3 331.2,1024.3 338.9,1018.8 349.1,1010.8 356.7,1004.3 367,995.1 377.4,985.1 387.8,974.7 400.8,961 411.4,949.5 396,945.6 383.3,942.1 339.9,929.3 324.6,925 278.6,913.1 268.4,910.1 258.2,906.4 255.7,909.8 250.6,916 245.5,921.6 240.4,926.8 227.8,938.7 215.2,950.1 205.2,958.9 197.7,965.2 190.2,971.3 182.7,976.9 177.8,980.5 167.8,987 162.8,990 155.4,994.2 144.4,999.7 144.9,1000.9 145.4,1003 145.5,1004.9 145.2,1006.6 144.5,1008.2 143.8,1009.2 142,1011 140.3,1012.2 138.3,1013.2 135.9,1014.1 133.3,1015 127.3,1016.2 120.3,1017.1 162.7,1028.6 215.3,1043.9Z"/>
<path fill="#0015ff" d="M258.1,1055.9 268.2,1053.8 275.7,1051.7 283.3,1049.3 293.3,1045.4 303.4,1040.7 313.5,1035.4 323.6,1029.3 331.2,1024.3 338.9,1018.8 349.1,1010.8 356.7,1004.3 367,995.1 377.4,985.1 387.8,974.7 400.8,961 411.4,949.5 396,945.6 383.3,942.1 339.9,929.3 324.6,925 278.6,913.1 268.4,910.1 258.2,906.4 253.1,913 245.5,921.6 240.4,926.8 232.8,934 212.7,952.3 202.7,961 195.2,967.3 182.7,976.9 172.8,983.8 167.8,987 160.4,991.4 149.6,997.2 150.7,998.8 152,1001.2 152.8,1003.4 153.1,1005.4 153.1,1007.2 152.6,1008.9 151.8,1010.5 150.5,1011.8 149,1013.1 147,1014.2 144.8,1015.2 142.2,1016 136.2,1017.3 132.8,1017.8 125.4,1018.5 162.7,1028.6 215.3,1043.9Z"/>
<path fill="#001bff" d="M258.1,1055.9 268.2,1053.8 275.7,1051.7 283.3,1049.3 293.3,1045.4 303.4,1040.7 313.5,1035.4 323.6,1029.3 331.2,1024.3 338.9,1018.8 349.1,1010.8 356.7,1004.3 367,995.1 377.4,985.1 387.8,974.7 400.8,961 411.4,949.5 396,945.6 383.3,942.1 339.9,929.3 324.6,925 278.6,913.1 268.4,910.1 258.2,906.4 255.7,909.8 250.6,916 242.9,924.2 230.3,936.4 210.2,954.5 195.2,967.3 185.2,975.1 175.3,982.2 165.3,988.5 153.9,994.9 157.2,998.8 158.8,1001.3 159.9,1003.6 160.6,1005.8 160.9,1007.7 160.7,1009.6 159.9,1011.5 159.1,1012.7 157.7,1014 155.9,1015.2 153.8,1016.2 151.3,1017.1 148.5,1017.9 142,1019 138.4,1019.4 130.4,1019.8 162.7,1028.6 215.3,1043.9Z"/>
<path fill="#0021ff" d="M258.1,1055.9 268.2,1053.8 275.7,1051.7 283.3,1049.3 293.3,1045.4 303.4,1040.7 313.5,1035.4 323.6,1029.3 331.2,1024.3 338.9,1018.8 349.1,1010.8 356.7,1004.3 367,995.1 377.4,985.1 387.8,974.7 400.8,961 411.4,949.5 396,945.6 383.3,942.1 339.9,929.3 324.6,925 278.6,913.1 268.4,910.1 258.2,906.4 253.1,913 248,918.9 240.4,926.8 227.8,938.7 210.2,954.5 195.2,967.3 185.2,975.1 175.3,982.2 167.8,987 157.8,992.9 160.8,995.8 163.4,998.7 165.4,1001.3 166.4,1002.8 168,1006.1 168.6,1008.2 168.7,1010.1 168.4,1011.9 167.7,1013.5 166.5,1014.9 165,1016.2 163,1017.3 160.6,1018.3 157.9,1019.1 154.9,1019.7 147.9,1020.6 143.9,1020.9 135.4,1021.1 165.2,1029.3 212.8,1043.2Z"/>
<path fill="#0028ff" d="M258.1,1055.9 268.2,1053.8 275.7,1051.7 283.3,1049.3 293.3,1045.4 303.4,1040.7 313.5,1035.4 323.6,1029.3 331.2,1024.3 338.9,1018.8 349.1,1010.8 356.7,1004.3 367,995.1 377.4,985.1 387.8,974.7 400.8,961 411.4,949.5 396,945.6 383.3,942.1 339.9,929.3 324.6,925 278.6,913.1 268.4,910.1 258.2,906.4 253.1,913 248,918.9 240.4,926.8 227.8,938.7 210.2,954.5 197.7,965.2 187.7,973.2 180.3,978.7 170.3,985.5 161.1,991 166.2,995.4 169.3,998.4 172.3,1001.9 173.8,1003.9 175.2,1006.3 176.2,1008.6 176.5,1009.8 176.7,1010.7 176.8,1012.6 176.3,1014.3 175.5,1015.9 174.1,1017.3 172.4,1018.5 170.2,1019.5 167.7,1020.4 164.7,1021.1 161.4,1021.7 153.8,1022.4 149.6,1022.5 140.4,1022.5 165.2,1029.3 212.8,1043.2Z"/>
<path fill="#002eff" d="M258.1,1055.9 268.2,1053.8 275.7,1051.7 283.3,1049.3 293.3,1045.4 303.4,1040.7 313.5,1035.4 323.6,1029.3 331.2,1024.3 338.9,1018.8 349.1,1010.8 356.7,1004.3 367,995.1 377.4,985.1 387.8,974.7 400.8,961 411.4,949.5 396,945.6 383.3,942.1 339.9,929.3 324.6,925 278.6,913.1 268.4,910.1 258.2,906.4 253.1,913 245.5,921.6 237.9,929.2 225.2,941 210.2,954.5 197.7,965.2 187.7,973.2 180.3,978.7 172.8,983.8 164.2,989.2 171.3,994.7 174.9,998 179.1,1002.4 182.3,1006.5 183.7,1009 184.2,1010 184.7,1011.2 185.1,1013.3 184.9,1015.5 184.5,1016.9 183.4,1018.4 181.9,1019.7 180,1020.8 177.6,1021.8 174.8,1022.6 171.7,1023.2 168.1,1023.6 159.9,1024.1 155.4,1024.1 145.5,1023.9 170.2,1030.7 215.3,1043.9Z"/>
<path fill="#0034ff" d="M258.1,1055.9 268.2,1053.8 275.7,1051.7 283.3,1049.3 293.3,1045.4 303.4,1040.7 313.5,1035.4 323.6,1029.3 331.2,1024.3 338.9,1018.8 349.1,1010.8 356.7,1004.3 367,995.1 377.4,985.1 387.8,974.7 400.8,961 411.4,949.5 396,945.6 383.3,942.1 339.9,929.3 324.6,925 278.6,913.1 268.4,910.1 258.2,906.4 255.7,909.8 250.6,916 242.9,924.2 235.3,931.7 222.7,943.3 207.7,956.7 197.7,965.2 190.2,971.3 182.7,976.9 175.3,982.2 167,987.5 173.9,992.4 180.1,997.4 184.6,1001.6 186.7,1003.7 189.2,1006.6 191.1,1009.2 191.8,1010.3 192.5,1011.7 193.4,1013.9 193.7,1015.9 193.5,1017.8 192.8,1019.4 191.6,1020.9 190,1022.1 187.8,1023.2 185.2,1024.1 182.2,1024.8 178.8,1025.3 175,1025.7 166.2,1025.9 161.4,1025.9 150.8,1025.3 172.7,1031.5 215.3,1043.9Z"/>
<path fill="#003aff" d="M258.1,1055.9 268.2,1053.8 275.7,1051.7 283.3,1049.3 293.3,1045.4 303.4,1040.7 313.5,1035.4 323.6,1029.3 331.2,1024.3 338.9,1018.8 349.1,1010.8 356.7,1004.3 367,995.1 377.4,985.1 387.8,974.7 400.8,961 411.4,949.5 396,945.6 383.3,942.1 339.9,929.3 324.6,925 278.6,913.1 268.4,910.1 258.2,906.4 255.7,909.8 250.6,916 245.5,921.6 237.9,929.2 230.3,936.4 217.7,947.8 207.7,956.7 197.7,965.2 190.2,971.3 182.7,976.9 175.3,982.2 169.7,985.9 176.8,990.7 185,996.7 189.2,1000.2 192.8,1003.5 195.8,1006.5 198.3,1009.4 200.2,1012 201.5,1014.5 201.9,1015.4 202.3,1016.7 202.5,1018.7 202.2,1020.5 201.3,1022.1 200,1023.5 198.8,1024.2 195.8,1025.7 192.4,1026.6 189.8,1027.1 186.1,1027.5 182,1027.8 172.7,1027.9 167.5,1027.6 156.3,1026.8 175.2,1032.2 215.3,1043.9Z"/>
<path fill="#0040ff" d="M258.1,1055.9 268.2,1053.8 275.7,1051.7 283.3,1049.3 293.3,1045.4 303.4,1040.7 313.5,1035.4 323.6,1029.3 331.2,1024.3 338.9,1018.8 349.1,1010.8 356.7,1004.3 367,995.1 377.4,985.1 387.8,974.7 400.8,961 411.4,949.5 396,945.6 383.3,942.1 339.9,929.3 324.6,925 278.6,913.1 268.4,910.1 258.2,906.4 253.1,913 248,918.9 242.9,924.2 235.3,931.7 215.2,950.1 205.2,958.9 197.7,965.2 185.2,975.1 177.8,980.5 172.1,984.3 181.4,990.2 189.5,995.9 194.3,999.6 198.6,1003.1 202.2,1006.4 205.3,1009.4 207.7,1012.3 208.9,1013.9 209.5,1014.9 210.8,1017.3 211.4,1019.5 211.4,1021.4 210.9,1023.2 209.9,1024.7 208.4,1026.1 206.4,1027.2 203.8,1028.1 199,1029.2 193.6,1029.8 186.2,1030 179.4,1029.8 173.9,1029.5 161.9,1028.4 215.3,1043.9Z"/>
<path fill="#0046ff" d="M258.1,1055.9 268.2,1053.8 275.7,1051.7 283.3,1049.3 293.3,1045.4 303.4,1040.7 313.5,1035.4 323.6,1029.3 331.2,1024.3 338.9,1018.8 349.1,1010.8 356.7,1004.3 367,995.1 377.4,985.1 387.8,974.7 400.8,961 411.4,949.5 396,945.6 383.3,942.1 339.9,929.3 324.6,925 278.6,913.1 268.4,910.1 258.2,906.4 253.1,913 248,918.9 242.9,924.2 235.3,931.7 217.7,947.8 200.2,963.1 187.7,973.2 180.3,978.7 174.4,982.7 184,988.5 193.5,994.8 204,1002.5 208.3,1006.1 212,1009.4 215,1012.4 216.4,1014.2 217.3,1015.3 219,1017.8 220,1020.2 220.5,1022.3 220.3,1024.2 219.6,1025.9 218.4,1027.3 216.7,1028.6 214.5,1029.7 211.8,1030.6 208.7,1031.3 205.1,1031.8 199.4,1032.1 191.7,1032.1 180.5,1031.4 167.8,1030.1 212.8,1043.2Z"/>
<path fill="#004cff" d="M258.1,1055.9 268.2,1053.8 275.7,1051.7 283.3,1049.3 293.3,1045.4 303.4,1040.7 313.5,1035.4 323.6,1029.3 331.2,1024.3 338.9,1018.8 349.1,1010.8 356.7,1004.3 367,995.1 377.4,985.1 387.8,974.7 400.8,961 411.4,949.5 396,945.6 383.3,942.1 339.9,929.3 324.6,925 278.6,913.1 268.4,910.1 258.2,906.4 253.1,913 248,918.9 240.4,926.8 232.8,934 215.2,950.1 200.2,963.1 187.7,973.2 176.6,981.3 181.9,984.2 190,989.1 203.4,997.8 209,1001.8 214,1005.6 219.6,1010.3 221.9,1012.4 224.7,1015.5 226.9,1018.2 228.4,1020.7 229.2,1023 229.4,1025 229,1026.8 228.1,1028.4 226.7,1029.8 224.8,1031.1 222.5,1032.1 219.7,1032.9 216.4,1033.6 212.7,1034.1 208.5,1034.3 201.8,1034.4 193.3,1034 184,1033.1 174,1031.8 212.8,1043.2Z"/>
<path fill="#0052ff" d="M258.1,1055.9 268.2,1053.8 275.7,1051.7 283.3,1049.3 293.3,1045.4 303.4,1040.7 313.5,1035.4 323.6,1029.3 331.2,1024.3 338.9,1018.8 349.1,1010.8 356.7,1004.3 367,995.1 377.4,985.1 387.8,974.7 400.8,961 411.4,949.5 396,945.6 383.3,942.1 339.9,929.3 324.6,925 278.6,913.1 268.4,910.1 258.2,906.4 253.1,913 248,918.9 240.4,926.8 232.8,934 215.2,950.1 200.2,963.1 190.2,971.3 178.7,979.8 192.2,987.3 207.2,996.6 219.3,1005 224.2,1008.7 228.2,1012 232.4,1016.2 234.4,1018.4 236.3,1021.1 237.5,1023.5 238.1,1025.7 238,1027.6 237.4,1029.4 236.3,1030.9 234.7,1032.2 232.7,1033.4 230.2,1034.4 227.3,1035.2 223.9,1035.8 220.1,1036.2 215.9,1036.5 211.2,1036.6 200.3,1036.1 192,1035.2 180.4,1033.7 215.3,1043.9Z"/>
<path fill="#0058ff" d="M258.1,1055.9 268.2,1053.8 275.7,1051.7 283.3,1049.3 293.3,1045.4 303.4,1040.7 313.5,1035.4 323.6,1029.3 331.2,1024.3 338.9,1018.8 349.1,1010.8 356.7,1004.3 367,995.1 377.4,985.1 387.8,974.7 400.8,961 411.4,949.5 396,945.6 383.3,942.1 339.9,929.3 324.6,925 278.6,913.1 268.4,910.1 258.2,906.4 253.1,913 248,918.9 240.4,926.8 230.3,936.4 215.2,950.1 202.7,961 190.2,971.3 180.7,978.4 193.7,985.3 202.5,990.5 210.4,995.3 224.1,1004.1 229.7,1008.2 234.5,1011.9 239.6,1016.5 241.6,1018.5 243.9,1021.3 245.4,1023.8 246.3,1026.1 246.6,1028.2 246.3,1030.1 245.5,1031.7 244.2,1033.2 242.4,1034.5 240.2,1035.6 237.6,1036.5 234.6,1037.3 231.1,1037.9 227.3,1038.3 223,1038.6 218.2,1038.6 208.2,1038.2 199.8,1037.4 186.9,1035.6 215.3,1043.9Z"/>
<path fill="#005eff" d="M258.1,1055.9 268.2,1053.8 275.7,1051.7 283.3,1049.3 293.3,1045.4 303.4,1040.7 313.5,1035.4 323.6,1029.3 331.2,1024.3 338.9,1018.8 349.1,1010.8 356.7,1004.3 367,995.1 377.4,985.1 387.8,974.7 400.8,961 411.4,949.5 396,945.6 383.3,942.1 339.9,929.3 324.6,925 278.6,913.1 268.4,910.1 258.2,906.4 253.1,913 248,918.9 240.4,926.8 230.3,936.4 215.2,950.1 202.7,961 192.7,969.3 182.7,977 195.1,983.5 204.3,988.6 213.1,993.7 228.3,1003.1 234.7,1007.4 240.2,1011.4 244.7,1015 248.3,1018.3 251,1021.3 252.9,1024 254.2,1026.4 254.8,1028.6 254.8,1030.6 254.3,1032.4 253.2,1034 251.7,1035.4 249.8,1036.6 247.5,1037.7 244.7,1038.6 241.6,1039.3 238.1,1039.9 234.2,1040.3 225.1,1040.6 214.2,1040.1 203.8,1039 193.6,1037.6 217.8,1044.6Z"/>
<path fill="#0064ff" d="M258.1,1055.9 268.2,1053.8 275.7,1051.7 283.3,1049.3 293.3,1045.4 303.4,1040.7 313.5,1035.4 323.6,1029.3 331.2,1024.3 338.9,1018.8 349.1,1010.8 356.7,1004.3 367,995.1 377.4,985.1 387.8,974.7 400.8,961 411.4,949.5 396,945.6 383.3,942.1 339.9,929.3 324.6,925 278.6,913.1 268.4,910.1 258.2,906.4 253.1,913 248,918.9 240.4,926.8 230.3,936.4 215.2,950.1 202.7,961 192.7,969.3 184.5,975.6 197.2,982 215.2,991.8 232.1,1001.9 240.2,1007.1 245.4,1010.6 250.4,1014.5 255.2,1018.6 257.7,1021.1 260,1024 261.6,1026.5 262.6,1028.9 262.9,1031 262.7,1032.9 261.9,1034.6 260.7,1036.1 259,1037.4 257,1038.6 254.5,1039.6 251.6,1040.5 248.4,1041.2 240.8,1042.2 236.5,1042.4 226.5,1042.4 214.7,1041.5 207.9,1040.7 200.4,1039.6 217.8,1044.6Z"/>
<path fill="#006aff" d="M258.1,1055.9 268.2,1053.8 275.7,1051.7 283.3,1049.3 293.3,1045.4 303.4,1040.7 313.5,1035.4 323.6,1029.3 331.2,1024.3 338.9,1018.8 349.1,1010.8 356.7,1004.3 367,995.1 377.4,985.1 387.8,974.7 400.8,961 411.4,949.5 396,945.6 383.3,942.1 339.9,929.3 324.6,925 278.6,913.1 268.4,910.1 258.2,906.4 253.1,913 245.5,921.6 237.9,929.2 227.8,938.7 215.2,950.1 202.7,961 195.2,967.3 186.3,974.3 201.3,981.6 216.5,989.7 235.2,1000.4 243.2,1005.2 248.6,1008.8 255.7,1013.8 260.3,1017.4 264,1020.8 266.8,1023.8 268.5,1026.1 270.2,1029.4 270.7,1031.2 270.8,1033.1 270.4,1035 269.4,1036.7 268,1038.1 266.2,1039.4 264,1040.5 261.3,1041.5 258.3,1042.3 255,1043 249.3,1043.7 243.2,1044.2 233,1044.2 221.2,1043.4 214.5,1042.6 207.1,1041.5Z"/>
<path fill="#0071ff" d="M258.1,1055.9 268.2,1053.8 275.7,1051.7 283.3,1049.3 293.3,1045.4 303.4,1040.7 313.5,1035.4 323.6,1029.3 331.2,1024.3 338.9,1018.8 349.1,1010.8 356.7,1004.3 367,995.1 377.4,985.1 387.8,974.7 400.8,961 411.4,949.5 396,945.6 383.3,942.1 339.9,929.3 324.6,925 278.6,913.1 268.4,910.1 258.2,906.4 253.1,913 245.5,921.6 237.9,929.2 227.8,938.7 215.2,950.1 205.2,958.9 195.2,967.3 188,973 203.2,980.2 217.2,987.4 234,996.6 246.5,1003.8 255.2,1009.3 260.5,1012.8 264,1015.4 269.9,1020.2 273.1,1023.4 274.4,1024.9 275.6,1026.3 277.3,1028.9 278.3,1031.3 278.8,1033.5 278.7,1035.4 277.9,1037.4 277,1038.8 275.4,1040.2 273.4,1041.4 271,1042.5 268.2,1043.4 265,1044.1 257.8,1045.3 252.3,1045.7 244.4,1046 236.9,1045.8 228.1,1045.2 221,1044.4 213.7,1043.4Z"/>
<path fill="#0077ff" d="M258.1,1055.9 268.2,1053.8 275.7,1051.7 283.3,1049.3 293.3,1045.4 303.4,1040.7 313.5,1035.4 323.6,1029.3 331.2,1024.3 338.9,1018.8 349.1,1010.8 356.7,1004.3 367,995.1 377.4,985.1 387.8,974.7 400.8,961 411.4,949.5 396,945.6 383.3,942.1 339.9,929.3 324.6,925 278.6,913.1 268.4,910.1 258.2,906.4 253.1,913 245.5,921.6 237.9,929.2 225.2,941 205.2,958.9 197.7,965.2 189.7,971.6 203.8,978.2 217.1,984.8 239.5,996.7 250.3,1002.8 261.8,1009.8 270.6,1015.8 277.1,1021.1 279.1,1022.9 282.1,1026 284.3,1028.8 285.8,1031.4 286.7,1033.7 286.9,1034.9 287,1035.8 286.8,1037.7 286.1,1039.5 284.8,1041 283,1042.3 280.8,1043.5 278.2,1044.5 275.2,1045.3 268.2,1046.6 261.5,1047.3 255.4,1047.6 245.6,1047.5 239.8,1047.3 228.2,1046.3 220.2,1045.3Z"/>
<path fill="#007dff" d="M258.1,1055.9 268.2,1053.8 275.7,1051.7 283.3,1049.3 293.3,1045.4 303.4,1040.7 313.5,1035.4 323.6,1029.3 331.2,1024.3 338.9,1018.8 349.1,1010.8 356.7,1004.3 367,995.1 377.4,985.1 387.8,974.7 400.8,961 411.4,949.5 396,945.6 383.3,942.1 339.9,929.3 324.6,925 278.6,913.1 268.4,910.1 258.2,906.4 253.1,913 245.5,921.6 237.9,929.2 225.2,941 205.2,958.9 191.4,970.4 206.9,977.4 228.9,988.4 251.3,1000.2 260.6,1005.6 268.5,1010.4 275,1014.7 280.4,1018.7 284.8,1022.3 288.3,1025.5 291.1,1028.6 293.2,1031.4 294.8,1034 295.7,1036.3 296,1038.5 295.8,1040.4 295,1042.1 293.6,1043.6 291.6,1044.8 289.1,1045.9 286.2,1046.8 279.2,1048.1 275.2,1048.5 266.5,1049.1 254.4,1049.2 246,1048.9 240,1048.5 226.6,1047.1Z"/>
<path fill="#0083ff" d="M258.1,1055.9 268.2,1053.8 278,1051 263.3,1051 249.4,1050.4 239.7,1049.6 232.8,1048.8ZM306.5,1039.2 313.5,1035.4 318.6,1032.4 326.2,1027.7 331.2,1024.3 341.4,1016.9 346.5,1012.9 354.2,1006.5 367,995.1 380,982.6 395.6,966.6 411.4,949.5 396,945.6 383.3,942.1 339.9,929.3 324.6,925 278.6,913.1 268.4,910.1 258.2,906.4 255.7,909.8 250.6,916 245.5,921.6 237.9,929.2 227.8,938.7 212.7,952.3 202.7,961 193,969.1 202,973 210.8,977.1 232.2,987.5 252.6,998.1 262.9,1003.7 271.6,1008.8 278.9,1013.4 285,1017.6 290,1021.5 294.3,1025 297.8,1028.3 300.8,1031.4 303.3,1034.4 305.3,1037.1Z"/>
<path fill="#0089ff" d="M258.1,1055.9 265.6,1054.4 271,1053 252.4,1051.9 239.1,1050.5ZM313.4,1035.4 323.6,1029.3 333.8,1022.5 344,1014.9 349.1,1010.8 356.7,1004.3 369.6,992.6 382.6,980 398.2,963.8 411.4,949.5 396,945.6 383.3,942.1 339.9,929.3 324.6,925 278.6,913.1 268.4,910.1 258.2,906.4 255.7,909.8 250.6,916 245.5,921.6 237.9,929.2 227.8,938.7 215.2,950.1 205.2,958.9 194.5,967.8 211,975 234.1,986.1 253.2,995.7 264.5,1001.6 273.4,1006.7 283,1012.5 289.1,1016.4 294.9,1020.5 304.6,1028Z"/>
<path fill="#008fff" d="M258.1,1055.9 265.7,1054.3 252.4,1053.1 245.5,1052.3ZM318.5,1032.5 328.7,1026 338.9,1018.8 349.1,1010.8 359.3,1002.1 369.6,992.6 382.6,980 398.2,963.8 411.4,949.5 396,945.6 383.3,942.1 339.9,929.3 324.6,925 278.6,913.1 268.4,910.1 258.2,906.4 255.7,909.8 250.6,916 245.5,921.6 237.9,929.2 227.8,938.7 215.2,950.1 205.2,958.9 196.1,966.6 209.8,972.4 227.4,980.5 252.9,993 269.7,1001.6 283.7,1009.5 292.7,1015 299.4,1019.4 314.7,1030.1Z"/>
<path fill="#0095ff" d="M258.1,1055.9 261.3,1055.3 253.5,1054.3 252.2,1054.2ZM322.7,1029.9 331.2,1024.3 341.4,1016.9 351.6,1008.7 361.9,999.8 372.2,990.2 385.2,977.4 398.2,963.8 411.4,949.5 396,945.6 383.3,942.1 339.9,929.3 324.6,925 278.6,913.1 268.4,910.1 258.2,906.4 255.7,909.8 250.6,916 245.5,921.6 237.9,929.2 230.3,936.4 217.7,947.8 207.7,956.7 197.6,965.3 211.5,971.1 227,978.1 251.9,990 267.7,997.9 277.2,1002.8 288.1,1008.9 295.8,1013.4 314.7,1025.3Z"/>
<path fill="#009bff" d="M326.5,1027.5 336.3,1020.7 344,1014.9 354.2,1006.5 364.5,997.4 374.8,987.7 387.8,974.7 400.8,961 411.4,949.5 396,945.6 383.3,942.1 339.9,929.3 324.6,925 278.6,913.1 268.4,910.1 258.2,906.4 255.7,909.8 250.6,916 245.5,921.6 237.9,929.2 230.3,936.4 217.7,947.8 207.7,956.7 199,964.1 213.1,969.8 226.5,975.8 249.9,986.7 265.5,994.2 277.6,1000.3 288.7,1006.2 298.3,1011.5 318,1023.1Z"/>
<path fill="#00a1ff" d="M329.7,1025.3 338.9,1018.8 349.1,1010.8 356.7,1004.3 367,995.1 377.4,985.1 387.8,974.7 400.8,961 411.4,949.5 396,945.6 383.3,942.1 339.9,929.3 324.6,925 278.6,913.1 268.4,910.1 258.2,906.4 255.7,909.8 250.6,916 245.5,921.6 240.4,926.8 232.8,934 222.7,943.3 210.2,954.5 200.5,962.9 212.3,967.6 228.1,974.4 247.1,983.1 265.3,991.7 277.1,997.4 289.4,1003.7 300.1,1009.5 318.9,1019.9 325.3,1023.2Z"/>
<path fill="#00a7ff" d="M332.8,1023.2 341.4,1016.9 349.1,1010.8 356.7,1004.3 367,995.1 377.4,985.1 387.8,974.7 400.8,961 411.4,949.5 396,945.6 383.3,942.1 339.9,929.3 324.6,925 278.6,913.1 268.4,910.1 258.2,906.4 255.7,909.8 250.6,916 245.5,921.6 240.4,926.8 232.8,934 222.7,943.3 210.2,954.5 201.9,961.7 213.8,966.3 225.3,971.1 243.4,979.2 262.8,988.2 275.8,994.3 289.3,1001 319.5,1016.9 325.9,1020.1Z"/>
<path fill="#00adff" d="M335.6,1021.2 344,1014.9 351.6,1008.7 359.3,1002.1 369.6,992.6 380,982.6 390.4,972 400.8,961 411.4,949.5 396,945.6 383.3,942.1 339.9,929.3 324.6,925 278.6,913.1 268.4,910.1 258.2,906.4 255.7,909.8 250.6,916 245.5,921.6 240.4,926.8 232.8,934 225.2,941 212.7,952.3 203.3,960.5 215.3,965.1 226.8,969.9 238.6,975 260.2,984.7 273.5,990.9 288.4,998 324.2,1016.2 330.9,1019.2Z"/>
<path fill="#00b4ff" d="M338.2,1019.3 346.5,1012.9 354.2,1006.5 361.9,999.8 372.2,990.2 380,982.6 390.4,972 400.8,961 411.4,949.5 396,945.6 383.3,942.1 339.9,929.3 324.6,925 278.6,913.1 268.4,910.1 258.2,906.4 255.7,909.8 250.6,916 245.5,921.6 240.4,926.8 232.8,934 225.2,941 204.7,959.3 214.4,962.9 226.1,967.6 239.6,973.4 257.4,981.3 286.6,994.7 324.4,1013.3 331.1,1016.4Z"/>
<path fill="#00baff" d="M340.6,1017.4 349.1,1010.8 356.7,1004.3 364.5,997.4 372.2,990.2 380,982.6 390.4,972 400.8,961 411.4,949.5 396,945.6 383.3,942.1 339.9,929.3 324.6,925 278.6,913.1 268.4,910.1 258.2,906.4 255.7,909.8 250.6,916 245.5,921.6 240.4,926.8 232.8,934 225.2,941 206.1,958.1 215.9,961.7 225.3,965.4 238.9,971.2 254.6,978 285.6,991.9 326.6,1011.6 333.4,1014.6Z"/>
<path fill="#00c0ff" d="M343,1015.7 351.6,1008.7 359.3,1002.1 367,995.1 374.8,987.7 382.6,980 393,969.3 403.5,958.2 411.4,949.5 396,945.6 383.3,942.1 339.9,929.3 324.6,925 278.6,913.1 268.4,910.1 258.2,906.4 255.7,909.8 250.6,916 245.5,921.6 240.4,926.8 227.8,938.7 207.5,956.9 217.3,960.5 226.7,964.2 251.7,974.7 287.3,990.5 326.6,1008.9 335.7,1012.9Z"/>
<path fill="#00c6ff" d="M345.2,1013.9 351.6,1008.7 359.3,1002.1 367,995.1 374.8,987.7 382.6,980 393,969.3 403.5,958.2 411.4,949.5 396,945.6 383.3,942.1 339.9,929.3 324.6,925 278.6,913.1 268.4,910.1 258.2,906.4 255.7,909.8 250.6,916 245.5,921.6 240.4,926.8 227.8,938.7 208.8,955.7 218.7,959.3 228.2,962.9 251,972.4 274.9,982.8 291.3,990.1 330.9,1008.2 337.8,1011.2Z"/>
<path fill="#00ccff" d="M347.3,1012.2 354.2,1006.5 361.9,999.8 369.6,992.6 377.4,985.1 385.2,977.4 395.6,966.6 411.4,949.5 396,945.6 383.3,942.1 339.9,929.3 324.6,925 278.6,913.1 268.4,910.1 258.2,906.4 255.7,909.8 250.6,916 245.5,921.6 240.4,926.8 227.8,938.7 210.2,954.5 217.7,957.2 227.3,960.8 247.7,969.1 288.9,986.8 330.6,1005.6 339.9,1009.5Z"/>
<path fill="#00d2ff" d="M349.4,1010.5 361.9,999.8 369.6,992.6 377.4,985.1 385.2,977.4 395.6,966.6 411.4,949.5 396,945.6 383.3,942.1 339.9,929.3 324.6,925 278.6,913.1 268.4,910.1 258.2,906.4 255.7,909.8 250.6,916 242.9,924.2 230.3,936.4 211.5,953.4 226.3,958.6 244.9,966.1 283.2,982.3 332.5,1004.1 341.9,1007.9Z"/>
<path fill="#00d8ff" d="M351.4,1008.9 364.5,997.4 372.2,990.2 380,982.6 395.6,966.6 411.4,949.5 396,945.6 383.3,942.1 339.9,929.3 324.6,925 278.6,913.1 268.4,910.1 258.2,906.4 255.7,909.8 250.6,916 242.9,924.2 230.3,936.4 212.8,952.2 227.7,957.4 246.4,964.8 289.4,982.9 332.1,1001.5 343.8,1006.2Z"/>
<path fill="#00deff" d="M353.3,1007.3 359.3,1002.1 367,995.1 380,982.6 395.6,966.6 411.4,949.5 396,945.6 383.3,942.1 339.9,929.3 324.6,925 278.6,913.1 268.4,910.1 258.2,906.4 255.7,909.8 250.6,916 242.9,924.2 230.3,936.4 214.1,951.1 229.1,956.2 245.5,962.6 291,981.6 333.9,1000 343.3,1003.8Z"/>
<path fill="#00e4ff" d="M355.1,1005.7 367,995.1 380,982.6 395.6,966.6 411.4,949.5 396,945.6 383.3,942.1 339.9,929.3 324.6,925 278.6,913.1 268.4,910.1 258.2,906.4 255.7,909.8 250.6,916 242.9,924.2 232.8,934 215.4,949.9 230.4,955 246.9,961.4 283.6,976.5 335.6,998.5 345.1,1002.2Z"/>
<path fill="#00eaff" d="M356.9,1004.2 369.6,992.6 382.6,980 398.2,963.8 411.4,949.5 396,945.6 383.3,942.1 339.9,929.3 324.6,925 278.6,913.1 268.4,910.1 258.2,906.4 255.7,909.8 250.6,916 242.9,924.2 232.8,934 216.7,948.8 231.8,953.9 248.3,960.2 291.7,977.9 335,996.1 346.8,1000.7Z"/>
<path fill="#00f0ff" d="M358.7,1002.7 369.6,992.6 382.6,980 398.2,963.8 411.4,949.5 396,945.6 383.3,942.1 339.9,929.3 324.6,925 278.6,913.1 268.4,910.1 258.2,906.4 255.7,909.8 250.6,916 242.9,924.2 232.8,934 218,947.6 230.7,951.8 247.4,958 290.1,975.3 336.7,994.6 348.5,999.2Z"/>
<path fill="#00f6ff" d="M360.4,1001.1 372.2,990.2 385.2,977.4 398.2,963.8 411.4,949.5 396,945.6 383.3,942.1 339.9,929.3 324.6,925 278.6,913.1 268.4,910.1 258.2,906.4 255.7,909.8 250.6,916 242.9,924.2 232.8,934 219.2,946.5 232,950.6 248.7,956.8 280.9,969.7 338.3,993.2 350.2,997.7Z"/>
<path fill="#00ffff" d="M362,999.6 372.2,990.2 385.2,977.4 398.2,963.8 411.4,949.5 396,945.6 383.3,942.1 339.9,929.3 324.6,925 278.6,913.1 268.4,910.1 258.2,906.4 255.7,909.8 250.6,916 242.9,924.2 232.8,934 220.5,945.3 233.3,949.5 247.7,954.7 271.2,964 339.9,991.7 351.9,996.3Z"/>
<path fill="#00fff6" d="M365.1,996.9 374.8,987.7 387.8,974.7 400.8,961 411.4,949.5 396,945.6 383.3,942.1 339.9,929.3 324.6,925 278.6,913.1 268.4,910.1 258.2,906.4 253.1,913 245.5,921.6 235.3,931.7 222.9,943.2 235.8,947.3 250.2,952.5 274.2,961.8 340.4,988.2 354.9,993.5Z"/>
<path fill="#00fff0" d="M366.6,995.4 377.4,985.1 387.8,974.7 400.8,961 411.4,949.5 396,945.6 383.3,942.1 339.9,929.3 324.6,925 278.6,913.1 268.4,910.1 258.2,906.4 253.1,913 245.5,921.6 235.3,931.7 224.1,942.1 237,946.1 251.5,951.3 267.8,957.6 342,986.8 356.4,992.1Z"/>
<path fill="#00ffea" d="M368.2,994 380,982.6 390.4,972 400.8,961 411.4,949.5 396,945.6 383.3,942.1 339.9,929.3 324.6,925 278.6,913.1 268.4,910.1 258.2,906.4 253.1,913 245.5,921.6 237.9,929.2 225.3,940.9 238.3,945 252.8,950.1 343.4,985.4 357.9,990.7Z"/>
<path fill="#00ffe4" d="M367.1,991.8 369.7,992.6 372.2,990.2 380,982.6 390.4,972 400.8,961 411.4,949.5 396,945.6 383.3,942.1 339.9,929.3 324.6,925 278.6,913.1 268.4,910.1 260.8,907.4 258.2,906.4 253.1,913 245.5,921.6 237.9,929.2 226.6,939.8 239.6,943.8 254.1,948.9 342.5,983.1 357,988.4Z"/>
<path fill="#00ffde" d="M371.1,991.2 380,982.6 390.4,972 400.8,961 411.4,949.5 396,945.6 383.3,942.1 339.9,929.3 324.6,925 278.6,913.1 268.4,910.1 258.2,906.4 253.1,913 245.5,921.6 237.9,929.2 227.8,938.7 240.8,942.7 253,946.9 267.1,952.2 346.4,982.7 360.9,987.9Z"/>
<path fill="#00ffd8" d="M372.6,989.8 382.6,980 393,969.3 403.5,958.2 411.4,949.5 396,945.6 383.3,942.1 339.9,929.3 324.6,925 278.6,913.1 268.4,910.1 258.2,906.4 253.1,913 245.5,921.6 237.9,929.2 229,937.6 242.1,941.5 254.3,945.8 269.3,951.3 345.4,980.4 359.9,985.7Z"/>
<path fill="#00ffd1" d="M374,988.4 382.6,980 393,969.3 403.5,958.2 411.4,949.5 396,945.6 383.3,942.1 339.9,929.3 324.6,925 278.6,913.1 268.4,910.1 258.2,906.4 255.7,909.8 250.6,916 245.5,921.6 237.9,929.2 230.2,936.5 243.3,940.4 255.5,944.6 349.2,980 363.8,985.1Z"/>
<path fill="#00ffcb" d="M375.4,987 385.2,977.4 393,969.3 403.5,958.2 411.4,949.5 396,945.6 383.3,942.1 339.9,929.3 324.6,925 278.6,913.1 268.4,910.1 258.2,906.4 253.1,913 248,918.9 240.4,926.8 231.4,935.4 244.5,939.3 256.8,943.5 348.2,977.8 362.7,982.9Z"/>
<path fill="#00ffc5" d="M376.8,985.7 393,969.3 403.5,958.2 411.4,949.5 396,945.6 383.3,942.1 339.9,929.3 324.6,925 278.6,913.1 268.4,910.1 258.2,906.4 255.7,909.8 250.6,916 245.5,921.6 240.4,926.8 232.5,934.3 245.7,938.2 258,942.3 349.6,976.4 364.1,981.6Z"/>
<path fill="#00ffbf" d="M378.2,984.3 395.6,966.6 411.4,949.5 396,945.6 383.3,942.1 339.9,929.3 324.6,925 278.6,913.1 268.4,910.1 258.2,906.4 253.1,913 248,918.9 240.4,926.8 233.7,933.2 246.9,937.1 259.2,941.2 350.9,975.1 365.5,980.3Z"/>
<path fill="#00ffb9" d="M379.6,983 395.6,966.6 411.4,949.5 396,945.6 383.3,942.1 339.9,929.3 324.6,925 278.6,913.1 268.4,910.1 258.2,906.4 255.7,909.8 250.6,916 245.5,921.6 234.8,932.1 248.1,935.9 260.4,940.1 349.9,973 366.9,978.9Z"/>
<path fill="#00ffb3" d="M380.9,981.6 395.6,966.6 411.4,949.5 396,945.6 383.3,942.1 339.9,929.3 324.6,925 278.6,913.1 268.4,910.1 258.2,906.4 253.1,913 248,918.9 242.9,924.2 236,931.1 249.2,934.9 261.5,938.9 353.6,972.5 368.2,977.6Z"/>
<path fill="#00ffad" d="M382.2,980.3 398.2,963.8 411.4,949.5 396,945.6 383.3,942.1 339.9,929.3 324.6,925 278.6,913.1 268.4,910.1 258.2,906.4 253.1,913 248,918.9 242.9,924.2 237.1,930 250.4,933.8 262.7,937.8 309.7,955 352.5,970.4 369.6,976.3Z"/>
<path fill="#00ffa7" d="M383.5,979 398.2,963.8 411.4,949.5 396,945.6 383.3,942.1 339.9,929.3 324.6,925 278.6,913.1 268.4,910.1 258.2,906.4 255.7,909.8 250.6,916 245.5,921.6 238.2,928.9 251.5,932.7 263.8,936.7 315.6,955.5 353.9,969.1 370.9,975Z"/>
<path fill="#00ffa1" d="M384.8,977.7 398.2,963.8 411.4,949.5 396,945.6 383.3,942.1 339.9,929.3 324.6,925 278.6,913.1 268.4,910.1 258.2,906.4 255.7,909.8 250.6,916 245.5,921.6 239.3,927.9 252.6,931.6 265,935.6 312.1,952.6 355.2,967.8 372.2,973.7Z"/>
<path fill="#00ff9b" d="M386.1,976.4 398.2,963.8 411.4,949.5 396,945.6 383.3,942.1 339.9,929.3 324.6,925 278.6,913.1 268.4,910.1 258.2,906.4 255.7,909.8 253.1,913 248,918.9 240.4,926.8 253.7,930.5 266.1,934.5 315.7,952.3 356.4,966.5 373.5,972.4Z"/>
<path fill="#00ff95" d="M387.4,975.1 400.8,961 411.4,949.5 396,945.6 383.3,942.1 339.9,929.3 324.6,925 278.6,913.1 268.4,910.1 258.2,906.4 255.7,909.8 250.6,916 245.5,921.6 241.4,925.7 254.8,929.5 267.1,933.4 312.1,949.4 355.3,964.4 374.8,971.1Z"/>
<path fill="#00ff8e" d="M388.7,973.8 400.8,961 411.4,949.5 396,945.6 383.3,942.1 339.9,929.3 324.6,925 278.6,913.1 268.4,910.1 258.2,906.4 255.7,909.8 250.6,916 242.5,924.7 253.2,927.6 268.2,932.4 315.6,949.1 356.6,963.2 376.1,969.8Z"/>
<path fill="#00ff88" d="M389.9,972.5 400.8,961 411.4,949.5 396,945.6 383.3,942.1 339.9,929.3 324.6,925 278.6,913.1 268.4,910.1 258.2,906.4 255.7,909.8 250.6,916 243.5,923.7 256.8,927.3 269.3,931.3 333.6,953.7 372.4,966.9Z"/>
<path fill="#00ff82" d="M391.2,971.2 400.8,961 411.4,949.5 396,945.6 383.3,942.1 339.9,929.3 324.6,925 278.6,913.1 268.4,910.1 258.2,906.4 253.1,913 248,918.9 244.5,922.6 257.9,926.3 270.3,930.2 327.5,950 373.7,965.6Z"/>
<path fill="#00ff7c" d="M392.4,969.9 403.5,958.2 411.4,949.5 396,945.6 383.3,942.1 339.9,929.3 324.6,925 278.6,913.1 268.4,910.1 258.2,906.4 255.7,909.8 250.6,916 245.5,921.6 258.8,925.3 271.3,929.2 328.7,948.9 374.9,964.3Z"/>
<path fill="#00ff76" d="M393.6,968.6 403.5,958.2 411.4,949.5 396,945.6 383.3,942.1 339.9,929.3 324.6,925 278.6,913.1 268.4,910.1 258.2,906.4 253.1,913 246.4,920.6 259.8,924.2 272.3,928.1 324.9,946.1 376.2,963.1Z"/>
<path fill="#00ff70" d="M394.8,967.4 411.4,949.5 396,945.6 383.3,942.1 339.9,929.3 324.6,925 278.6,913.1 268.4,910.1 258.2,906.4 255.7,909.8 250.6,916 247.3,919.6 258.2,922.4 270.8,926.3 326,945 379.8,962.6Z"/>
<path fill="#00ff6a" d="M396,966.1 411.4,949.5 396,945.6 383.3,942.1 339.9,929.3 324.6,925 278.6,913.1 268.4,910.1 258.2,906.4 253.1,913 248.3,918.6 261.7,922.2 274.2,926.1 322.2,942.2 381.1,961.4Z"/>
<path fill="#00ff64" d="M397.2,964.9 411.4,949.5 396,945.6 383.3,942.1 339.9,929.3 324.6,925 278.6,913.1 268.4,910.1 258.2,906.4 253.1,913 249.2,917.6 260,920.4 272.7,924.2 323.3,941.1Z"/>
<path fill="#00ff5e" d="M398.4,963.6 411.4,949.5 396,945.6 383.3,942.1 339.9,929.3 324.6,925 278.6,913.1 268.4,910.1 258.2,906.4 255.7,909.8 250,916.6 260.9,919.4 276,924 324.3,940Z"/>
<path fill="#00ff58" d="M399.5,962.4 411.4,949.5 396,945.6 383.3,942.1 339.9,929.3 324.6,925 278.6,913.1 268.4,910.1 258.2,906.4 255.7,909.8 250.9,915.6 261.7,918.5 274.4,922.2 322.9,938.1Z"/>
<path fill="#00ff52" d="M400.7,961.1 411.4,949.5 396,945.6 383.3,942.1 339.9,929.3 324.6,925 278.6,913.1 268.4,910.1 258.2,906.4 255.7,909.8 251.7,914.7 262.6,917.5 275.3,921.2 323.9,937Z"/>
<path fill="#00ff4c" d="M401.9,959.9 411.4,949.5 396,945.6 383.3,942.1 339.9,929.3 324.6,925 278.6,913.1 268.4,910.1 258.2,906.4 255.7,909.8 252.5,913.7 263.4,916.5 278.6,921 322.4,935.1 369.7,949.8Z"/>
<path fill="#00ff45" d="M403,958.7 411.4,949.5 396,945.6 383.3,942.1 339.9,929.3 324.6,925 278.6,913.1 268.4,910.1 258.2,906.4 253.3,912.7 264.2,915.5 276.9,919.3 323.3,934.1 373.4,949.3Z"/>
<path fill="#00ff3f" d="M404.1,957.5 411.4,949.5 396,945.6 383.3,942.1 339.9,929.3 324.6,925 278.6,913.1 268.4,910.1 258.2,906.4 254.1,911.8 265,914.6 277.7,918.3 324.3,933 374.5,948.2Z"/>
<path fill="#00ff39" d="M405.3,956.2 411.4,949.5 396,945.6 383.3,942.1 339.9,929.3 324.6,925 278.6,913.1 268.4,910.1 258.2,906.4 255.7,909.8 254.9,910.9 265.8,913.6 278.5,917.3 322.7,931.2 375.6,947Z"/>
<path fill="#00ff33" d="M406.4,955 411.4,949.5 396,945.6 383.3,942.1 339.9,929.3 324.6,925 278.6,913.1 268.4,910.1 258.2,906.4 255.7,909.8 266.5,912.7 279.3,916.3 323.6,930.1 376.7,945.8Z"/>
<path fill="#00ff2d" d="M407.5,953.8 411.4,949.5 396,945.6 383.3,942.1 339.9,929.3 324.6,925 278.6,913.1 268.4,910.1 258.2,906.4 256.3,909 267.2,911.7 280,915.4 326.9,929.8 377.8,944.6Z"/>
<path fill="#00ff27" d="M408.6,952.6 411.4,949.5 396,945.6 383.3,942.1 339.9,929.3 324.6,925 278.6,913.1 268.4,910.1 258.2,906.4 257,908.1 267.9,910.8 278.2,913.7 325.3,928.1 381.3,944.2Z"/>
<path fill="#00ff21" d="M409.7,951.4 411.4,949.5 396,945.6 383.3,942.1 327.1,925.7 311.8,921.6 292.7,916.8 326.1,927 382.4,943.1ZM263.3,908.4 264.2,908.7 258.2,906.4 257.7,907.1Z"/>
<path fill="#00ff1c" d="M410.7,950.2 411.4,949.5 394.9,945.3ZM360.3,935.4 334.8,927.9 316.9,923 334.5,928.2Z"/>
<path d="M258.1,1055.9 265.6,1054.4 269.4,1053.5 277,1051.3 284.5,1048.8 292.1,1045.9 295.9,1044.3 303.4,1040.7 311,1036.8 318.6,1032.4 322.4,1030.1 330,1025.1 337.6,1019.7 341.4,1016.9 349.1,1010.8 356.7,1004.3 360.6,1000.9 368.3,993.8 376.1,986.4 387.8,974.7 399.5,962.4 411.4,949.5M258.1,1055.9 246.7,1052.6 224.1,1046.4 212.8,1043.2 164,1029 149,1024.8 119.1,1016.8 107.9,1013.6M250.5,1053.7 254.3,1053 258.1,1052.2 261.9,1051.3 265.6,1050.3 269.4,1049.2 273.2,1048 277,1046.6 284.5,1043.6 292.1,1040.3 299.7,1036.5 303.4,1034.4 311,1030 314.8,1027.6 322.4,1022.6 330,1017.2 337.7,1011.3 345.3,1005 349.2,1001.7 356.9,994.8 360.7,991.3 368.5,983.9 380.1,972.3 391.9,960.2 403.7,947.6M265.6,1054.4 258.1,1052.2 231.7,1045.1 216.6,1040.8 167.8,1026.4 130.4,1015.6 115.5,1011.2M243,1051.6 246.7,1050.9 250.5,1050.2 254.3,1049.3 258.1,1048.3 261.9,1047.1 265.6,1045.9 269.4,1044.5 277,1041.5 284.5,1038.1 288.3,1036.2 295.9,1032.1 303.5,1027.7 307.2,1025.3 314.8,1020.3 322.5,1014.8 330.1,1008.9 337.7,1002.6 341.6,999.3 349.3,992.4 360.9,981.5 372.5,970.1 384.2,958.1 392.1,949.9 396,945.6M273.2,1052.4 265.6,1050.3 239.2,1043.2 220.4,1037.8 205.4,1033.4 171.6,1023.2 137.9,1013.1 123,1008.6M235.4,1049.5 239.2,1048.9 243,1048.1 246.8,1047.3 250.5,1046.2 254.3,1045.1 258.1,1043.8 261.9,1042.5 269.4,1039.4 277,1035.9 280.8,1034 288.3,1030 295.9,1025.5 299.7,1023.1 307.3,1018 314.9,1012.5 322.5,1006.6 330.2,1000.3 334,997 341.7,990.1 353.2,979.3 364.9,967.9 376.6,956 384.4,947.8 388.4,943.5M280.7,1050.1 269.4,1046.9 243,1039.7 224.2,1034.3 209.2,1029.8 130.4,1005.7M227.9,1047.4 231.7,1046.8 235.4,1046.1 239.2,1045.2 243,1044.2 246.8,1043.1 250.6,1041.8 254.3,1040.4 261.9,1037.3 269.4,1033.8 273.2,1031.9 280.8,1027.8 288.3,1023.3 292.1,1020.9 299.7,1015.8 307.3,1010.2 314.9,1004.3 322.6,998 326.4,994.7 334.1,987.9 345.6,977.1 357.3,965.7 368.9,953.9 376.8,945.7 380.7,941.4M288.3,1047.4 277,1044.1 250.6,1036.8 231.7,1031.3 212.9,1025.6 137.9,1002.6M220.3,1045.3 224.1,1044.8 227.9,1044 231.7,1043.2 235.5,1042.1 239.2,1041 243,1039.7 246.8,1038.3 254.3,1035.2 261.9,1031.7 265.7,1029.8 273.2,1025.6 280.8,1021.1 284.6,1018.7 292.1,1013.6 299.7,1008 303.5,1005.1 311.2,999 318.8,992.5 322.6,989.1 330.3,982.2 341.9,971.2 353.5,959.8 361.3,951.8 365.2,947.7 373.1,939.2M295.9,1044.3 284.5,1040.9 254.3,1032.4 235.5,1026.9 145.4,999.2M212.8,1043.2 216.6,1042.6 220.4,1041.9 224.2,1041 227.9,1040 231.7,1038.8 235.5,1037.6 239.3,1036.2 246.8,1033 254.4,1029.5 258.1,1027.6 265.7,1023.4 273.2,1018.9 277,1016.5 284.6,1011.4 292.2,1005.9 296,1002.9 303.6,996.8 311.2,990.3 315,987 322.7,980 334.3,969.1 345.9,957.6 353.7,949.7 357.6,945.6 361.5,941.3 365.4,936.9M303.4,1040.7 292.1,1037.3 261.9,1028.7 243.1,1023.1 152.9,995.5M205.3,1041 209.1,1040.5 212.9,1039.7 216.6,1038.9 220.4,1037.8 224.2,1036.7 228,1035.4 231.7,1034 239.3,1030.8 246.8,1027.3 250.6,1025.4 258.1,1021.2 265.7,1016.7 269.5,1014.3 277,1009.2 284.6,1003.6 288.4,1000.7 296,994.6 303.6,988.1 307.5,984.8 315.1,977.8 326.6,967 338.2,955.5 346,947.6 349.9,943.4 353.8,939.1 357.8,934.6M311,1036.8 303.4,1034.4 295.9,1032.1 265.7,1023.4 246.8,1017.9 160.4,991.4M197.8,1038.8 201.5,1038.3 205.3,1037.5 209.1,1036.7 212.9,1035.6 216.7,1034.5 220.4,1033.2 224.2,1031.7 231.7,1028.6 239.3,1025 246.8,1021.1 250.6,1019 258.1,1014.5 261.9,1012.1 269.5,1007 277,1001.4 280.8,998.5 288.4,992.4 296,986 299.9,982.6 307.5,975.7 319,964.9 330.6,953.5 338.4,945.5 342.3,941.3 346.2,936.9 350.1,932.4M318.6,1032.4 311,1030 303.5,1027.7 269.5,1017.8 250.6,1012.2 167.8,987M190.2,1036.6 194,1036 197.8,1035.3 201.6,1034.4 205.4,1033.4 209.1,1032.2 212.9,1030.9 216.7,1029.5 224.2,1026.3 231.8,1022.8 239.3,1018.8 243.1,1016.7 250.6,1012.2 254.4,1009.8 261.9,1004.7 269.5,999.2 273.3,996.3 280.9,990.2 284.7,987 292.3,980.5 303.7,970 315.3,959 323,951.4 326.9,947.4 334.6,939.1 338.5,934.7 342.4,930.1M326.2,1027.7 318.6,1025.2 311,1022.8 258.1,1007.3 175.3,982.2M182.7,1034.4 186.5,1033.8 190.3,1033.1 194.1,1032.2 197.9,1031.1 201.6,1029.9 205.4,1028.6 209.2,1027.2 216.7,1024 224.2,1020.5 231.8,1016.5 235.5,1014.4 243.1,1009.9 246.8,1007.5 254.4,1002.4 261.9,997 265.7,994.1 273.3,988 277.1,984.8 284.7,978.3 296.1,967.9 307.6,957 315.4,949.3 319.2,945.4 323.1,941.3 327,937.1 330.9,932.6 334.8,927.9M333.8,1022.5 326.2,1019.9 314.9,1016.4 277,1005.4 258.1,999.8 201.6,982.7 182.7,976.9M175.2,1032.2 179,1031.6 182.8,1030.8 186.6,1029.9 190.3,1028.8 194.1,1027.6 197.9,1026.3 201.7,1024.9 209.2,1021.7 212.9,1020 220.5,1016.2 228,1012.1 235.5,1007.6 239.3,1005.2 246.8,1000.2 254.4,994.7 258.1,991.8 265.7,985.8 269.5,982.6 277.1,976.1 288.5,965.8 300,954.9 307.7,947.3 311.6,943.4 315.5,939.3 319.3,935 323.2,930.5 327.1,925.7M341.4,1016.9 333.8,1014.3 322.5,1010.7 311.1,1007.3 277.1,997.4 250.6,989.6 209.1,977.1 190.2,971.3M167.7,1030 171.5,1029.4 175.3,1028.6 179.1,1027.7 182.8,1026.6 186.6,1025.3 190.4,1024 194.1,1022.5 201.7,1019.4 205.4,1017.6 212.9,1013.9 220.5,1009.8 228,1005.3 231.7,1003 239.3,997.9 246.8,992.4 250.6,989.6 258.2,983.6 261.9,980.4 269.5,973.9 280.9,963.7 292.4,952.9 300.1,945.3 304,941.4 307.8,937.3 311.7,933 315.6,928.5 319.5,923.7M349.1,1010.8 337.7,1007 326.3,1003.5 277.1,989.1 235.5,976.9 212.8,970 197.7,965.2M160.2,1027.9 164,1027.2 167.8,1026.4 171.6,1025.4 175.3,1024.3 179.1,1023 182.9,1021.7 186.6,1020.2 194.2,1017 201.7,1013.5 205.4,1011.6 212.9,1007.5 220.5,1003 224.2,1000.6 231.7,995.6 235.5,992.9 243,987.3 246.8,984.4 254.4,978.2 265.7,968.4 277.2,958.1 288.6,947.2 296.3,939.4 300.2,935.4 304,931.1 307.9,926.5 311.8,921.6M356.7,1004.3 345.4,1000.5 334,997 239.2,969.5 220.3,963.8 212.7,961.4 205.2,958.9M152.7,1025.8 156.5,1025.1 160.3,1024.2 164.1,1023.2 167.8,1022 175.4,1019.4 179.1,1017.9 186.6,1014.7 194.2,1011.2 197.9,1009.3 205.4,1005.2 212.9,1000.7 216.7,998.4 224.2,993.3 228,990.7 235.5,985.1 239.3,982.1 246.8,976 258.2,966.3 269.6,956 281,945.2 288.7,937.5 292.5,933.4 296.4,929.2 300.3,924.6 304.2,919.7M364.5,997.4 353.1,993.6 341.7,990.1 326.5,985.7 261.9,967.3 243,961.9 227.8,957.3 220.3,954.9 212.7,952.3M145.2,1023.8 149,1023 152.8,1022.1 156.6,1021 160.3,1019.8 167.9,1017.1 171.6,1015.6 179.1,1012.4 186.6,1008.8 190.4,1006.9 197.9,1002.9 205.4,998.4 209.2,996.1 216.7,991 220.4,988.4 227.9,982.8 231.7,979.9 239.2,973.8 250.6,964.1 262,953.9 273.4,943.2 281.1,935.6 284.9,931.5 288.8,927.3 292.6,922.7 296.5,917.8M372.2,990.2 360.8,986.4 353.2,984.1 341.8,980.7 311.3,972.1 262,958.4 246.8,954.1 239.2,951.8 231.6,949.5 220.2,945.6M137.8,1021.8 141.6,1020.9 145.3,1019.9 149.1,1018.8 152.9,1017.6 160.4,1014.8 164.1,1013.3 171.6,1010.1 179.1,1006.5 182.9,1004.6 190.4,1000.6 197.9,996.1 201.6,993.8 209.1,988.8 212.9,986.1 220.4,980.5 224.1,977.6 231.7,971.5 243,961.9 250.6,955.2 258.2,948.3 265.8,941.1 269.6,937.4 273.4,933.6 277.3,929.6 281.1,925.3 285,920.8 288.8,915.8M380,982.6 372.3,980.1 364.7,977.8 345.7,972.3 311.4,962.8 265.8,950.4 254.4,947.2 246.8,945 239.2,942.6 231.6,940.1 227.8,938.7M130.3,1019.8 134.1,1018.8 137.9,1017.8 141.6,1016.6 149.1,1014 156.6,1011 164.1,1007.8 167.9,1006.1 175.4,1002.3 179.1,1000.4 186.6,996.1 194.1,991.5 201.6,986.5 205.3,983.8 212.8,978.3 216.6,975.3 224.1,969.3 235.4,959.6 243,953 250.6,946.1 258.2,939 262,935.3 265.8,931.5 269.6,927.6 273.5,923.3 277.3,918.8 281.2,913.8M387.8,974.7 380.1,972.3 368.7,969 338.2,960.5 311.5,953.2 269.6,942.2 258.2,939 246.8,935.6 239.1,933 235.3,931.7M122.8,1017.8 126.6,1016.8 130.4,1015.6 134.1,1014.4 141.7,1011.7 145.4,1010.3 152.9,1007.2 160.4,1003.8 167.9,1000 171.6,998.1 179.1,993.8 186.6,989.2 194.1,984.2 197.8,981.6 205.3,976 209,973 216.5,966.9 227.8,957.3 235.4,950.7 243,943.8 250.6,936.8 254.4,933.1 258.2,929.3 262,925.4 265.8,921.2 269.7,916.6 273.5,911.7M395.6,966.6 388,964.3 376.5,961.1 326.9,947.4 307.8,942.4 277.2,934.6 265.8,931.5 254.4,928.2 246.7,925.6 242.9,924.2M115.4,1015.7 122.9,1013.4 126.7,1012.2 134.2,1009.5 141.7,1006.5 145.4,1004.9 152.9,1001.5 160.4,997.8 164.1,995.8 171.6,991.6 179.1,986.9 186.5,981.9 190.3,979.3 197.8,973.6 201.5,970.7 209,964.6 220.3,954.9 235.4,941.4 242.9,934.4 246.7,930.7 250.6,926.9 254.4,923 258.2,918.8 262,914.2 265.9,909.3M403.5,958.2 372.9,949.9 338.5,940.2 323.2,936 307.9,932 284.9,926.3 273.5,923.3 265.8,921.2 262,920 254.4,917.4 250.6,916M107.9,1013.6 115.5,1011.2 119.2,1009.9 126.7,1007.2 134.2,1004.2 137.9,1002.6 145.4,999.2 152.9,995.5 156.6,993.5 164.1,989.3 171.5,984.7 179,979.6 182.7,976.9 190.2,971.3 193.9,968.3 201.4,962.1 212.7,952.3 227.8,938.7 235.3,931.7 239.1,928 242.9,924.2 246.7,920.2 250.6,916 254.4,911.5 258.2,906.4M411.4,949.5 396,945.6 380.7,941.4 369.2,938.1 342.4,930.1 327.1,925.7 315.6,922.6 288.8,915.8 277.4,912.8 269.7,910.5 265.9,909.3 262,907.9 258.2,906.4" fill="none" stroke="#000" stroke-opacity="0.9" stroke-width="0.68" stroke-linejoin="round"/>
<circle cx="108.2" cy="1018.8" r="1.45" fill="#000"/>
<circle cx="107.1" cy="996.8" r="1.45" fill="#000"/>
<circle cx="106" cy="974.7" r="1.45" fill="#000"/>
<circle cx="104.9" cy="952.7" r="1.45" fill="#000"/>
<circle cx="103.8" cy="930.6" r="1.45" fill="#000"/>
<circle cx="102.7" cy="908.5" r="1.45" fill="#000"/>
<circle cx="101.6" cy="886.5" r="1.45" fill="#000"/>
<circle cx="100.5" cy="864.4" r="1.45" fill="#000"/>
<circle cx="258.1" cy="1138.3" r="1.45" fill="#000"/>
<circle cx="287.7" cy="1124.1" r="1.45" fill="#000"/>
<circle cx="317.3" cy="1109.8" r="1.45" fill="#000"/>
<circle cx="346.9" cy="1095.6" r="1.45" fill="#000"/>
<circle cx="376.5" cy="1081.3" r="1.45" fill="#000"/>
<circle cx="406.1" cy="1067.1" r="1.45" fill="#000"/>
<circle cx="221.2" cy="1120.5" r="1.45" fill="#000"/>
<circle cx="184.3" cy="1102.7" r="1.45" fill="#000"/>
<circle cx="147.5" cy="1084.9" r="1.45" fill="#000"/>
<circle cx="110.6" cy="1067.1" r="1.45" fill="#000"/>
<text transform="translate(102 1015.4) scale(0.985 1)" font-size="11.4" text-anchor="end">0</text>
<text transform="translate(100.9 993.4) scale(0.985 1)" font-size="11.4" text-anchor="end">20</text>
<text transform="translate(99.8 971.3) scale(0.985 1)" font-size="11.4" text-anchor="end">40</text>
<text transform="translate(98.7 949.3) scale(0.985 1)" font-size="11.4" text-anchor="end">60</text>
<text transform="translate(97.6 927.2) scale(0.985 1)" font-size="11.4" text-anchor="end">80</text>
<text transform="translate(96.5 905.1) scale(0.985 1)" font-size="11.4" text-anchor="end">100</text>
<text transform="translate(95.4 883.1) scale(0.985 1)" font-size="11.4" text-anchor="end">120</text>
<text transform="translate(94.3 861) scale(0.985 1)" font-size="11.4" text-anchor="end">140</text>
<text transform="translate(265.1 1151.3) scale(0.945 1)" font-size="11.4" text-anchor="start">0.13</text>
<text transform="translate(294.7 1137.1) scale(0.945 1)" font-size="11.4" text-anchor="start">0.136</text>
<text transform="translate(324.3 1122.8) scale(0.945 1)" font-size="11.4" text-anchor="start">0.142</text>
<text transform="translate(353.9 1108.6) scale(0.945 1)" font-size="11.4" text-anchor="start">0.148</text>
<text transform="translate(383.5 1094.3) scale(0.945 1)" font-size="11.4" text-anchor="start">0.154</text>
<text transform="translate(413.1 1080.1) scale(0.945 1)" font-size="11.4" text-anchor="start">0.16</text>
<text transform="translate(251.1 1151.1) scale(0.985 1)" font-size="11.4" text-anchor="end">2</text>
<text transform="translate(214.2 1133.3) scale(0.985 1)" font-size="11.4" text-anchor="end">4</text>
<text transform="translate(177.3 1115.5) scale(0.985 1)" font-size="11.4" text-anchor="end">6</text>
<text transform="translate(140.5 1097.7) scale(0.985 1)" font-size="11.4" text-anchor="end">8</text>
<text transform="translate(103.6 1079.9) scale(0.985 1)" font-size="11.4" text-anchor="end">10</text>
<text x="388.6" y="1137.7" font-size="13.6" text-anchor="middle">A: D1 (cm)</text>
<text x="127.8" y="1137.7" font-size="13.6" text-anchor="middle">B: Ar</text>
<text x="59.6" y="969.4" font-size="13.5" text-anchor="middle" transform="rotate(-90 59.6 969.4)">Power (mW)</text>
</g>
<text x="408.5" y="399.5" font-size="22.4" text-anchor="middle" fill="#111">(A)</text>
<text x="408.5" y="773.6" font-size="22.4" text-anchor="middle" fill="#111">(B)</text>
<text x="409.7" y="1176.5" font-size="22.4" text-anchor="middle" fill="#111">(C)</text>
</svg>
</body></html>
